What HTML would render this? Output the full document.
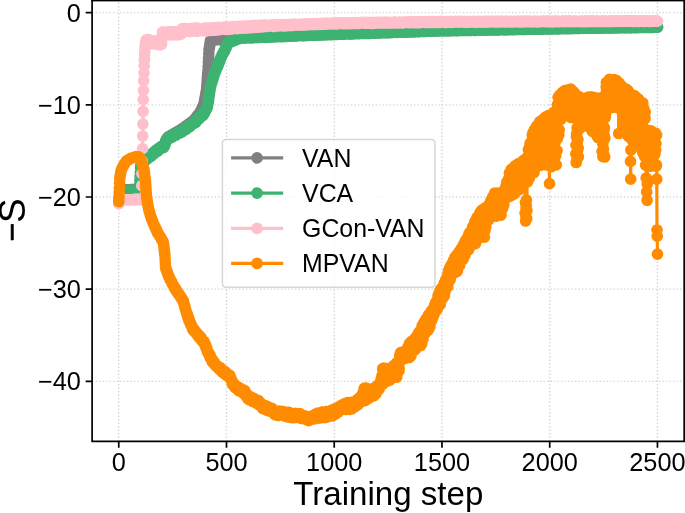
<!DOCTYPE html>
<html><head><meta charset="utf-8"><title>Training curves</title>
<style>html,body{margin:0;padding:0;background:#fff}svg{display:block}</style></head>
<body>
<svg width="685" height="513" viewBox="0 0 685 513">
<rect width="685" height="513" fill="#fff"/>
<path d="M118.75,441.4V0.8M226.49,441.4V0.8M334.23,441.4V0.8M441.97,441.4V0.8M549.71,441.4V0.8M657.45,441.4V0.8M92.1,12.60H684.2M92.1,104.80H684.2M92.1,197.00H684.2M92.1,289.20H684.2M92.1,381.40H684.2" stroke="#b0b0b0" stroke-opacity="0.55" stroke-width="1.3" stroke-dasharray="1.3 2.2" fill="none"/>
<clipPath id="c"><rect x="92.1" y="0.8" width="592.1" height="440.59999999999997"/></clipPath>
<g clip-path="url(#c)">
<path d="M118.8,203.2 119.0,201.5 119.2,199.9 119.4,198.3 119.6,196.7 119.8,195.1 120.0,193.4 120.3,191.8 120.5,190.2 121.3,190.0 122.2,190.0 123.1,189.9 123.9,189.9 124.8,189.9 125.6,189.9 126.5,189.8 127.4,189.8 128.2,189.8 129.1,189.8 130.0,189.8 130.8,189.7 131.7,189.7 132.5,189.7 133.4,189.7 134.3,189.6 135.1,189.6 136.0,189.6 136.9,189.6 137.7,189.5 138.6,189.5 139.4,189.5 139.7,188.5 139.9,184.3 140.1,180.1 140.3,175.8 140.5,171.6 140.7,167.4 140.9,165.7 141.2,165.3 141.8,164.0 142.0,163.5 142.7,162.2 142.9,161.8 143.5,160.5 143.7,160.0 144.6,159.1 145.5,158.5 146.3,157.9 147.2,157.3 148.1,156.7 148.9,156.2 149.8,155.6 150.6,155.0 151.5,154.3 152.4,153.6 153.2,152.8 154.1,152.1 155.0,151.4 155.8,150.7 156.7,150.0 157.5,149.4 158.4,148.7 159.3,148.1 160.1,147.4 161.0,146.8 161.8,146.3 162.7,145.9 163.6,145.5 164.4,145.0 164.9,143.8 165.3,142.4 165.7,140.9 166.2,139.8 166.8,138.8 167.0,138.4 167.7,137.4 167.9,137.2 168.7,136.7 169.6,136.2 170.5,135.7 171.3,135.1 172.2,134.6 173.1,134.1 173.9,133.6 174.8,133.1 175.6,132.6 176.5,132.1 177.4,131.6 178.2,131.1 179.1,130.6 179.9,130.1 180.8,129.6 181.7,129.1 182.5,128.5 183.4,127.9 184.3,127.3 185.1,126.7 186.0,126.0 186.8,125.4 187.7,124.8 188.6,124.2 189.4,123.5 190.3,122.9 191.2,122.3 192.0,121.7 192.9,121.0 193.7,120.3 194.6,119.3 195.5,118.2 196.3,117.1 197.2,116.0 198.0,114.9 198.9,113.9 199.8,112.8 200.4,111.6 200.6,111.2 201.3,109.8 201.5,109.3 202.1,108.0 202.4,107.5 203.0,106.1 203.2,105.7 203.9,104.3 204.1,103.6 204.3,102.3 204.5,101.1 204.7,99.9 204.9,98.7 205.2,97.5 205.4,96.3 205.6,95.1 205.8,93.9 206.0,92.7 206.2,91.5 206.5,90.3 206.7,87.8 206.9,84.9 207.1,82.0 207.3,79.2 207.5,76.3 207.7,73.4 208.0,70.6 208.2,66.5 208.4,62.2 208.6,57.9 208.8,53.6 209.0,49.8 209.3,48.4 209.5,47.0 209.7,45.7 209.9,44.3 210.1,42.9 210.3,41.6 210.5,40.5 211.0,40.4 211.8,40.2 212.7,40.1 213.6,39.9 214.4,39.8 215.3,39.8 216.1,39.8 217.0,39.7 217.9,39.7 218.7,39.7 219.6,39.7 220.5,39.7 221.3,39.6 222.2,39.6 223.0,39.6 223.9,39.6 224.8,39.6 225.6,39.5 226.5,39.5 227.4,39.5 228.2,39.3 229.1,39.2 229.9,39.1 230.8,39.0 231.7,38.9 232.5,38.8 233.4,38.7 234.2,38.6 235.1,38.5 236.0,38.4 236.8,38.3 237.7,38.1 238.6,38.0 239.4,37.9 240.3,37.8 241.1,37.8 242.0,37.7 242.9,37.7 243.7,37.7 244.6,37.6 245.5,37.6 246.3,37.6 247.2,37.5 248.0,37.5 248.9,37.5 249.8,37.4 250.6,37.4 251.5,37.4 252.3,37.3 253.2,37.3 254.1,37.3 254.9,37.2 255.8,37.2 256.7,37.2 257.5,37.1 258.4,37.1 259.2,37.1 260.1,37.0 261.0,37.0 261.8,37.0 262.7,36.9 263.6,36.9 264.4,36.9 265.3,36.8 266.1,36.8 267.0,36.7 267.9,36.7 268.7,36.7 269.6,36.6 270.4,36.6 271.3,36.6 272.2,36.5 273.0,36.5 273.9,36.5 274.8,36.4 275.6,36.4 276.5,36.4 277.3,36.3 278.2,36.3 279.1,36.3 279.9,36.2 280.8,36.2 281.7,36.2 282.5,36.1 283.4,36.1 284.2,36.1 285.1,36.0 286.0,36.0 286.8,36.0 287.7,35.9 288.5,35.9 289.4,35.9 290.3,35.8 291.1,35.8 292.0,35.8 292.9,35.7 293.7,35.7 294.6,35.7 295.4,35.6 296.3,35.6 297.2,35.6 298.0,35.5 298.9,35.5 299.8,35.5 300.6,35.4 301.5,35.4 302.3,35.4 303.2,35.3 304.1,35.3 304.9,35.2 305.8,35.2 306.6,35.2 307.5,35.1 308.4,35.1 309.2,35.1 310.1,35.0 311.0,35.0 311.8,35.0 312.7,34.9 313.5,34.9 314.4,34.9 315.3,34.8 316.1,34.8 317.0,34.8 317.9,34.7 318.7,34.7 319.6,34.7 320.4,34.6 321.3,34.6 322.2,34.6 323.0,34.5 323.9,34.5 324.7,34.5 325.6,34.4 326.5,34.4 327.3,34.4 328.2,34.3 329.1,34.3 329.9,34.3 330.8,34.2 331.6,34.2 332.5,34.2 333.4,34.1 334.2,34.1 335.1,34.1 336.0,34.0 336.8,34.0 337.7,34.0 338.5,34.0 339.4,33.9 340.3,33.9 341.1,33.9 342.0,33.8 342.8,33.8 343.7,33.8 344.6,33.8 345.4,33.7 346.3,33.7 347.2,33.7 348.0,33.6 348.9,33.6 349.7,33.6 350.6,33.6 351.5,33.5 352.3,33.5 353.2,33.5 354.1,33.4 354.9,33.4 355.8,33.4 356.6,33.4 357.5,33.3 358.4,33.3 359.2,33.3 360.1,33.2 360.9,33.2 361.8,33.2 362.7,33.2 363.5,33.1 364.4,33.1 365.3,33.1 366.1,33.0 367.0,33.0 367.8,33.0 368.7,33.0 369.6,32.9 370.4,32.9 371.3,32.9 372.2,32.8 373.0,32.8 373.9,32.8 374.7,32.8 375.6,32.7 376.5,32.7 377.3,32.7 378.2,32.6 379.0,32.6 379.9,32.6 380.8,32.6 381.6,32.5 382.5,32.5 383.4,32.5 384.2,32.4 385.1,32.4 385.9,32.4 386.8,32.4 387.7,32.3 388.5,32.3 389.4,32.3 390.3,32.2 391.1,32.2 392.0,32.2 392.8,32.2 393.7,32.1 394.6,32.1 395.4,32.1 396.3,32.0 397.2,32.0 398.0,32.0 398.9,32.0 399.7,31.9 400.6,31.9 401.5,31.9 402.3,31.8 403.2,31.8 404.0,31.8 404.9,31.8 405.8,31.7 406.6,31.7 407.5,31.7 408.4,31.6 409.2,31.6 410.1,31.6 410.9,31.6 411.8,31.5 412.7,31.5 413.5,31.5 414.4,31.4 415.3,31.4 416.1,31.4 417.0,31.4 417.8,31.3 418.7,31.3 419.6,31.3 420.4,31.2 421.3,31.2 422.1,31.2 423.0,31.2 423.9,31.1 424.7,31.1 425.6,31.1 426.5,31.0 427.3,31.0 428.2,31.0 429.0,31.0 429.9,30.9 430.8,30.9 431.6,30.9 432.5,30.8 433.4,30.8 434.2,30.8 435.1,30.8 435.9,30.7 436.8,30.7 437.7,30.7 438.5,30.6 439.4,30.6 440.2,30.6 441.1,30.6 442.0,30.6 442.8,30.5 443.7,30.5 444.6,30.5 445.4,30.5 446.3,30.5 447.1,30.5 448.0,30.5 448.9,30.4 449.7,30.4 450.6,30.4 451.5,30.4 452.3,30.4 453.2,30.4 454.0,30.3 454.9,30.3 455.8,30.3 456.6,30.3 457.5,30.3 458.3,30.3 459.2,30.3 460.1,30.2 460.9,30.2 461.8,30.2 462.7,30.2 463.5,30.2 464.4,30.2 465.2,30.1 466.1,30.1 467.0,30.1 467.8,30.1 468.7,30.1 469.6,30.1 470.4,30.1 471.3,30.0 472.1,30.0 473.0,30.0 473.9,30.0 474.7,30.0 475.6,30.0 476.4,29.9 477.3,29.9 478.2,29.9 479.0,29.9 479.9,29.9 480.8,29.9 481.6,29.9 482.5,29.8 483.3,29.8 484.2,29.8 485.1,29.8 485.9,29.8 486.8,29.8 487.7,29.7 488.5,29.7 489.4,29.7 490.2,29.7 491.1,29.7 492.0,29.7 492.8,29.7 493.7,29.6 494.5,29.6 495.4,29.6 496.3,29.6 497.1,29.6 498.0,29.6 498.9,29.5 499.7,29.5 500.6,29.5 501.4,29.5 502.3,29.5 503.2,29.5 504.0,29.5 504.9,29.4 505.8,29.4 506.6,29.4 507.5,29.4 508.3,29.4 509.2,29.4 510.1,29.3 510.9,29.3 511.8,29.3 512.6,29.3 513.5,29.3 514.4,29.3 515.2,29.3 516.1,29.2 517.0,29.2 517.8,29.2 518.7,29.2 519.5,29.2 520.4,29.2 521.3,29.1 522.1,29.1 523.0,29.1 523.9,29.1 524.7,29.1 525.6,29.1 526.4,29.1 527.3,29.0 528.2,29.0 529.0,29.0 529.9,29.0 530.7,29.0 531.6,29.0 532.5,28.9 533.3,28.9 534.2,28.9 535.1,28.9 535.9,28.9 536.8,28.9 537.6,28.8 538.5,28.8 539.4,28.8 540.2,28.8 541.1,28.8 542.0,28.8 542.8,28.8 543.7,28.7 544.5,28.7 545.4,28.7 546.3,28.7 547.1,28.7 548.0,28.7 548.8,28.6 549.7,28.6 550.6,28.6 551.4,28.6 552.3,28.6 553.2,28.6 554.0,28.6 554.9,28.5 555.7,28.5 556.6,28.5 557.5,28.5 558.3,28.5 559.2,28.5 560.1,28.4 560.9,28.4 561.8,28.4 562.6,28.4 563.5,28.4 564.4,28.4 565.2,28.4 566.1,28.3 566.9,28.3 567.8,28.3 568.7,28.3 569.5,28.3 570.4,28.3 571.3,28.2 572.1,28.2 573.0,28.2 573.8,28.2 574.7,28.2 575.6,28.2 576.4,28.2 577.3,28.1 578.2,28.1 579.0,28.1 579.9,28.1 580.7,28.1 581.6,28.1 582.5,28.0 583.3,28.0 584.2,28.0 585.0,28.0 585.9,28.0 586.8,28.0 587.6,28.0 588.5,28.0 589.4,27.9 590.2,27.9 591.1,27.9 591.9,27.9 592.8,27.9 593.7,27.9 594.5,27.9 595.4,27.9 596.3,27.8 597.1,27.8 598.0,27.8 598.8,27.8 599.7,27.8 600.6,27.8 601.4,27.8 602.3,27.8 603.1,27.7 604.0,27.7 604.9,27.7 605.7,27.7 606.6,27.7 607.5,27.7 608.3,27.7 609.2,27.7 610.0,27.7 610.9,27.6 611.8,27.6 612.6,27.6 613.5,27.6 614.4,27.6 615.2,27.6 616.1,27.6 616.9,27.6 617.8,27.5 618.7,27.5 619.5,27.5 620.4,27.5 621.2,27.5 622.1,27.5 623.0,27.5 623.8,27.5 624.7,27.5 625.6,27.4 626.4,27.4 627.3,27.4 628.1,27.4 629.0,27.4 629.9,27.4 630.7,27.4 631.6,27.4 632.5,27.3 633.3,27.3 634.2,27.3 635.0,27.3 635.9,27.3 636.8,27.3 637.6,27.3 638.5,27.3 639.3,27.2 640.2,27.2 641.1,27.2 641.9,27.2 642.8,27.2 643.7,27.2 644.5,27.2 645.4,27.2 646.2,27.2 647.1,27.1 648.0,27.1 648.8,27.1 649.7,27.1 650.6,27.1 651.4,27.1 652.3,27.1 653.1,27.1 654.0,27.0 654.9,27.0 655.7,27.0 656.6,27.0 657.5,27.0" fill="none" stroke="#808080" stroke-width="3.2" stroke-linejoin="round" stroke-linecap="round"/>
<path d="M118.8,203.2h0M119.0,201.5h0M119.2,199.9h0M119.4,198.3h0M119.6,196.7h0M119.8,195.1h0M120.0,193.4h0M120.3,191.8h0M120.5,190.2h0M121.3,190.0h0M122.2,190.0h0M123.1,189.9h0M123.9,189.9h0M124.8,189.9h0M125.6,189.9h0M126.5,189.8h0M127.4,189.8h0M128.2,189.8h0M129.1,189.8h0M130.0,189.8h0M130.8,189.7h0M131.7,189.7h0M132.5,189.7h0M133.4,189.7h0M134.3,189.6h0M135.1,189.6h0M136.0,189.6h0M136.9,189.6h0M137.7,189.5h0M138.6,189.5h0M139.4,189.5h0M139.7,188.5h0M139.9,184.3h0M140.1,180.1h0M140.3,175.8h0M140.5,171.6h0M140.7,167.4h0M140.9,165.7h0M141.2,165.3h0M141.8,164.0h0M142.0,163.5h0M142.7,162.2h0M142.9,161.8h0M143.5,160.5h0M143.7,160.0h0M144.6,159.1h0M145.5,158.5h0M146.3,157.9h0M147.2,157.3h0M148.1,156.7h0M148.9,156.2h0M149.8,155.6h0M150.6,155.0h0M151.5,154.3h0M152.4,153.6h0M153.2,152.8h0M154.1,152.1h0M155.0,151.4h0M155.8,150.7h0M156.7,150.0h0M157.5,149.4h0M158.4,148.7h0M159.3,148.1h0M160.1,147.4h0M161.0,146.8h0M161.8,146.3h0M162.7,145.9h0M163.6,145.5h0M164.4,145.0h0M164.9,143.8h0M165.3,142.4h0M165.7,140.9h0M166.2,139.8h0M166.8,138.8h0M167.0,138.4h0M167.7,137.4h0M167.9,137.2h0M168.7,136.7h0M169.6,136.2h0M170.5,135.7h0M171.3,135.1h0M172.2,134.6h0M173.1,134.1h0M173.9,133.6h0M174.8,133.1h0M175.6,132.6h0M176.5,132.1h0M177.4,131.6h0M178.2,131.1h0M179.1,130.6h0M179.9,130.1h0M180.8,129.6h0M181.7,129.1h0M182.5,128.5h0M183.4,127.9h0M184.3,127.3h0M185.1,126.7h0M186.0,126.0h0M186.8,125.4h0M187.7,124.8h0M188.6,124.2h0M189.4,123.5h0M190.3,122.9h0M191.2,122.3h0M192.0,121.7h0M192.9,121.0h0M193.7,120.3h0M194.6,119.3h0M195.5,118.2h0M196.3,117.1h0M197.2,116.0h0M198.0,114.9h0M198.9,113.9h0M199.8,112.8h0M200.4,111.6h0M200.6,111.2h0M201.3,109.8h0M201.5,109.3h0M202.1,108.0h0M202.4,107.5h0M203.0,106.1h0M203.2,105.7h0M203.9,104.3h0M204.1,103.6h0M204.3,102.3h0M204.5,101.1h0M204.7,99.9h0M204.9,98.7h0M205.2,97.5h0M205.4,96.3h0M205.6,95.1h0M205.8,93.9h0M206.0,92.7h0M206.2,91.5h0M206.5,90.3h0M206.7,87.8h0M206.9,84.9h0M207.1,82.0h0M207.3,79.2h0M207.5,76.3h0M207.7,73.4h0M208.0,70.6h0M208.2,66.5h0M208.4,62.2h0M208.6,57.9h0M208.8,53.6h0M209.0,49.8h0M209.3,48.4h0M209.5,47.0h0M209.7,45.7h0M209.9,44.3h0M210.1,42.9h0M210.3,41.6h0M210.5,40.5h0M211.0,40.4h0M211.8,40.2h0M212.7,40.1h0M213.6,39.9h0M214.4,39.8h0M215.3,39.8h0M216.1,39.8h0M217.0,39.7h0M217.9,39.7h0M218.7,39.7h0M219.6,39.7h0M220.5,39.7h0M221.3,39.6h0M222.2,39.6h0M223.0,39.6h0M223.9,39.6h0M224.8,39.6h0M225.6,39.5h0M226.5,39.5h0M227.4,39.5h0M228.2,39.3h0M229.1,39.2h0M229.9,39.1h0M230.8,39.0h0M231.7,38.9h0M232.5,38.8h0M233.4,38.7h0M234.2,38.6h0M235.1,38.5h0M236.0,38.4h0M236.8,38.3h0M237.7,38.1h0M238.6,38.0h0M239.4,37.9h0M240.3,37.8h0M241.1,37.8h0M242.0,37.7h0M242.9,37.7h0M243.7,37.7h0M244.6,37.6h0M245.5,37.6h0M246.3,37.6h0M247.2,37.5h0M248.0,37.5h0M248.9,37.5h0M249.8,37.4h0M250.6,37.4h0M251.5,37.4h0M252.3,37.3h0M253.2,37.3h0M254.1,37.3h0M254.9,37.2h0M255.8,37.2h0M256.7,37.2h0M257.5,37.1h0M258.4,37.1h0M259.2,37.1h0M260.1,37.0h0M261.0,37.0h0M261.8,37.0h0M262.7,36.9h0M263.6,36.9h0M264.4,36.9h0M265.3,36.8h0M266.1,36.8h0M267.0,36.7h0M267.9,36.7h0M268.7,36.7h0M269.6,36.6h0M270.4,36.6h0M271.3,36.6h0M272.2,36.5h0M273.0,36.5h0M273.9,36.5h0M274.8,36.4h0M275.6,36.4h0M276.5,36.4h0M277.3,36.3h0M278.2,36.3h0M279.1,36.3h0M279.9,36.2h0M280.8,36.2h0M281.7,36.2h0M282.5,36.1h0M283.4,36.1h0M284.2,36.1h0M285.1,36.0h0M286.0,36.0h0M286.8,36.0h0M287.7,35.9h0M288.5,35.9h0M289.4,35.9h0M290.3,35.8h0M291.1,35.8h0M292.0,35.8h0M292.9,35.7h0M293.7,35.7h0M294.6,35.7h0M295.4,35.6h0M296.3,35.6h0M297.2,35.6h0M298.0,35.5h0M298.9,35.5h0M299.8,35.5h0M300.6,35.4h0M301.5,35.4h0M302.3,35.4h0M303.2,35.3h0M304.1,35.3h0M304.9,35.2h0M305.8,35.2h0M306.6,35.2h0M307.5,35.1h0M308.4,35.1h0M309.2,35.1h0M310.1,35.0h0M311.0,35.0h0M311.8,35.0h0M312.7,34.9h0M313.5,34.9h0M314.4,34.9h0M315.3,34.8h0M316.1,34.8h0M317.0,34.8h0M317.9,34.7h0M318.7,34.7h0M319.6,34.7h0M320.4,34.6h0M321.3,34.6h0M322.2,34.6h0M323.0,34.5h0M323.9,34.5h0M324.7,34.5h0M325.6,34.4h0M326.5,34.4h0M327.3,34.4h0M328.2,34.3h0M329.1,34.3h0M329.9,34.3h0M330.8,34.2h0M331.6,34.2h0M332.5,34.2h0M333.4,34.1h0M334.2,34.1h0M335.1,34.1h0M336.0,34.0h0M336.8,34.0h0M337.7,34.0h0M338.5,34.0h0M339.4,33.9h0M340.3,33.9h0M341.1,33.9h0M342.0,33.8h0M342.8,33.8h0M343.7,33.8h0M344.6,33.8h0M345.4,33.7h0M346.3,33.7h0M347.2,33.7h0M348.0,33.6h0M348.9,33.6h0M349.7,33.6h0M350.6,33.6h0M351.5,33.5h0M352.3,33.5h0M353.2,33.5h0M354.1,33.4h0M354.9,33.4h0M355.8,33.4h0M356.6,33.4h0M357.5,33.3h0M358.4,33.3h0M359.2,33.3h0M360.1,33.2h0M360.9,33.2h0M361.8,33.2h0M362.7,33.2h0M363.5,33.1h0M364.4,33.1h0M365.3,33.1h0M366.1,33.0h0M367.0,33.0h0M367.8,33.0h0M368.7,33.0h0M369.6,32.9h0M370.4,32.9h0M371.3,32.9h0M372.2,32.8h0M373.0,32.8h0M373.9,32.8h0M374.7,32.8h0M375.6,32.7h0M376.5,32.7h0M377.3,32.7h0M378.2,32.6h0M379.0,32.6h0M379.9,32.6h0M380.8,32.6h0M381.6,32.5h0M382.5,32.5h0M383.4,32.5h0M384.2,32.4h0M385.1,32.4h0M385.9,32.4h0M386.8,32.4h0M387.7,32.3h0M388.5,32.3h0M389.4,32.3h0M390.3,32.2h0M391.1,32.2h0M392.0,32.2h0M392.8,32.2h0M393.7,32.1h0M394.6,32.1h0M395.4,32.1h0M396.3,32.0h0M397.2,32.0h0M398.0,32.0h0M398.9,32.0h0M399.7,31.9h0M400.6,31.9h0M401.5,31.9h0M402.3,31.8h0M403.2,31.8h0M404.0,31.8h0M404.9,31.8h0M405.8,31.7h0M406.6,31.7h0M407.5,31.7h0M408.4,31.6h0M409.2,31.6h0M410.1,31.6h0M410.9,31.6h0M411.8,31.5h0M412.7,31.5h0M413.5,31.5h0M414.4,31.4h0M415.3,31.4h0M416.1,31.4h0M417.0,31.4h0M417.8,31.3h0M418.7,31.3h0M419.6,31.3h0M420.4,31.2h0M421.3,31.2h0M422.1,31.2h0M423.0,31.2h0M423.9,31.1h0M424.7,31.1h0M425.6,31.1h0M426.5,31.0h0M427.3,31.0h0M428.2,31.0h0M429.0,31.0h0M429.9,30.9h0M430.8,30.9h0M431.6,30.9h0M432.5,30.8h0M433.4,30.8h0M434.2,30.8h0M435.1,30.8h0M435.9,30.7h0M436.8,30.7h0M437.7,30.7h0M438.5,30.6h0M439.4,30.6h0M440.2,30.6h0M441.1,30.6h0M442.0,30.6h0M442.8,30.5h0M443.7,30.5h0M444.6,30.5h0M445.4,30.5h0M446.3,30.5h0M447.1,30.5h0M448.0,30.5h0M448.9,30.4h0M449.7,30.4h0M450.6,30.4h0M451.5,30.4h0M452.3,30.4h0M453.2,30.4h0M454.0,30.3h0M454.9,30.3h0M455.8,30.3h0M456.6,30.3h0M457.5,30.3h0M458.3,30.3h0M459.2,30.3h0M460.1,30.2h0M460.9,30.2h0M461.8,30.2h0M462.7,30.2h0M463.5,30.2h0M464.4,30.2h0M465.2,30.1h0M466.1,30.1h0M467.0,30.1h0M467.8,30.1h0M468.7,30.1h0M469.6,30.1h0M470.4,30.1h0M471.3,30.0h0M472.1,30.0h0M473.0,30.0h0M473.9,30.0h0M474.7,30.0h0M475.6,30.0h0M476.4,29.9h0M477.3,29.9h0M478.2,29.9h0M479.0,29.9h0M479.9,29.9h0M480.8,29.9h0M481.6,29.9h0M482.5,29.8h0M483.3,29.8h0M484.2,29.8h0M485.1,29.8h0M485.9,29.8h0M486.8,29.8h0M487.7,29.7h0M488.5,29.7h0M489.4,29.7h0M490.2,29.7h0M491.1,29.7h0M492.0,29.7h0M492.8,29.7h0M493.7,29.6h0M494.5,29.6h0M495.4,29.6h0M496.3,29.6h0M497.1,29.6h0M498.0,29.6h0M498.9,29.5h0M499.7,29.5h0M500.6,29.5h0M501.4,29.5h0M502.3,29.5h0M503.2,29.5h0M504.0,29.5h0M504.9,29.4h0M505.8,29.4h0M506.6,29.4h0M507.5,29.4h0M508.3,29.4h0M509.2,29.4h0M510.1,29.3h0M510.9,29.3h0M511.8,29.3h0M512.6,29.3h0M513.5,29.3h0M514.4,29.3h0M515.2,29.3h0M516.1,29.2h0M517.0,29.2h0M517.8,29.2h0M518.7,29.2h0M519.5,29.2h0M520.4,29.2h0M521.3,29.1h0M522.1,29.1h0M523.0,29.1h0M523.9,29.1h0M524.7,29.1h0M525.6,29.1h0M526.4,29.1h0M527.3,29.0h0M528.2,29.0h0M529.0,29.0h0M529.9,29.0h0M530.7,29.0h0M531.6,29.0h0M532.5,28.9h0M533.3,28.9h0M534.2,28.9h0M535.1,28.9h0M535.9,28.9h0M536.8,28.9h0M537.6,28.8h0M538.5,28.8h0M539.4,28.8h0M540.2,28.8h0M541.1,28.8h0M542.0,28.8h0M542.8,28.8h0M543.7,28.7h0M544.5,28.7h0M545.4,28.7h0M546.3,28.7h0M547.1,28.7h0M548.0,28.7h0M548.8,28.6h0M549.7,28.6h0M550.6,28.6h0M551.4,28.6h0M552.3,28.6h0M553.2,28.6h0M554.0,28.6h0M554.9,28.5h0M555.7,28.5h0M556.6,28.5h0M557.5,28.5h0M558.3,28.5h0M559.2,28.5h0M560.1,28.4h0M560.9,28.4h0M561.8,28.4h0M562.6,28.4h0M563.5,28.4h0M564.4,28.4h0M565.2,28.4h0M566.1,28.3h0M566.9,28.3h0M567.8,28.3h0M568.7,28.3h0M569.5,28.3h0M570.4,28.3h0M571.3,28.2h0M572.1,28.2h0M573.0,28.2h0M573.8,28.2h0M574.7,28.2h0M575.6,28.2h0M576.4,28.2h0M577.3,28.1h0M578.2,28.1h0M579.0,28.1h0M579.9,28.1h0M580.7,28.1h0M581.6,28.1h0M582.5,28.0h0M583.3,28.0h0M584.2,28.0h0M585.0,28.0h0M585.9,28.0h0M586.8,28.0h0M587.6,28.0h0M588.5,28.0h0M589.4,27.9h0M590.2,27.9h0M591.1,27.9h0M591.9,27.9h0M592.8,27.9h0M593.7,27.9h0M594.5,27.9h0M595.4,27.9h0M596.3,27.8h0M597.1,27.8h0M598.0,27.8h0M598.8,27.8h0M599.7,27.8h0M600.6,27.8h0M601.4,27.8h0M602.3,27.8h0M603.1,27.7h0M604.0,27.7h0M604.9,27.7h0M605.7,27.7h0M606.6,27.7h0M607.5,27.7h0M608.3,27.7h0M609.2,27.7h0M610.0,27.7h0M610.9,27.6h0M611.8,27.6h0M612.6,27.6h0M613.5,27.6h0M614.4,27.6h0M615.2,27.6h0M616.1,27.6h0M616.9,27.6h0M617.8,27.5h0M618.7,27.5h0M619.5,27.5h0M620.4,27.5h0M621.2,27.5h0M622.1,27.5h0M623.0,27.5h0M623.8,27.5h0M624.7,27.5h0M625.6,27.4h0M626.4,27.4h0M627.3,27.4h0M628.1,27.4h0M629.0,27.4h0M629.9,27.4h0M630.7,27.4h0M631.6,27.4h0M632.5,27.3h0M633.3,27.3h0M634.2,27.3h0M635.0,27.3h0M635.9,27.3h0M636.8,27.3h0M637.6,27.3h0M638.5,27.3h0M639.3,27.2h0M640.2,27.2h0M641.1,27.2h0M641.9,27.2h0M642.8,27.2h0M643.7,27.2h0M644.5,27.2h0M645.4,27.2h0M646.2,27.2h0M647.1,27.1h0M648.0,27.1h0M648.8,27.1h0M649.7,27.1h0M650.6,27.1h0M651.4,27.1h0M652.3,27.1h0M653.1,27.1h0M654.0,27.0h0M654.9,27.0h0M655.7,27.0h0M656.6,27.0h0M657.5,27.0h0" fill="none" stroke="#808080" stroke-width="11.7" stroke-linecap="round"/>

<path d="M118.8,203.2 119.0,201.7 119.2,200.2 119.4,198.7 119.6,197.2 119.8,195.7 120.0,194.2 120.3,192.7 120.5,191.2 120.9,191.0 121.3,191.0 121.8,191.0 122.2,191.0 122.6,190.9 123.1,190.9 123.5,190.9 123.9,190.9 124.4,190.9 124.8,190.9 125.2,190.9 125.6,190.9 126.1,190.9 126.5,190.8 126.9,190.8 127.4,190.8 127.8,190.8 128.2,190.8 128.7,190.8 129.1,190.8 129.5,190.8 130.0,190.8 130.4,190.7 130.8,190.7 131.2,190.7 131.7,190.7 132.1,190.7 132.5,190.7 133.0,190.7 133.4,190.7 133.8,190.7 134.3,190.6 134.7,190.6 135.1,190.6 135.6,190.6 136.0,190.6 136.4,190.6 136.9,190.6 137.3,190.6 137.7,190.5 138.1,190.5 138.6,190.5 139.0,190.5 139.4,190.5 139.7,189.5 139.9,185.3 140.1,181.1 140.3,176.8 140.5,172.6 140.7,168.4 140.9,166.7 141.2,166.3 141.6,165.4 142.0,164.1 142.5,162.8 142.9,162.8 143.3,162.5 143.5,160.8 143.7,161.1 144.2,159.8 144.6,160.4 145.0,159.0 145.5,160.0 145.9,159.0 146.3,157.9 146.5,159.7 146.8,158.2 147.0,159.2 147.2,159.0 147.6,158.3 148.1,156.8 148.5,157.7 148.9,157.5 149.3,157.2 149.8,156.2 150.2,155.4 150.4,156.7 150.6,156.6 151.1,156.0 151.5,154.9 151.9,154.2 152.4,153.8 152.6,154.9 152.8,154.2 153.2,153.2 153.7,153.8 154.1,153.6 154.3,152.1 154.5,152.5 155.0,152.9 155.4,152.5 155.8,150.7 156.2,151.9 156.7,150.2 157.1,150.6 157.5,149.6 157.8,151.2 158.0,150.5 158.2,148.9 158.4,150.2 158.8,148.8 159.3,149.5 159.7,148.3 160.1,147.6 160.6,147.8 161.0,146.9 161.2,148.3 161.4,146.9 161.8,146.7 162.3,147.3 162.5,146.1 162.7,146.2 163.1,146.5 163.4,147.6 163.6,147.0 164.0,147.1 164.2,145.6 164.4,146.3 164.9,144.5 165.3,143.5 165.7,141.5 166.2,141.1 166.6,140.7 167.0,138.9 167.4,139.9 167.9,139.1 168.1,137.9 168.3,139.1 168.5,137.9 168.7,138.5 169.2,137.7 169.6,137.5 170.0,136.4 170.2,138.0 170.5,137.3 170.7,136.1 170.9,137.0 171.3,137.3 171.5,136.2 171.8,135.4 172.0,136.6 172.2,137.1 172.6,136.9 172.8,135.0 173.1,135.3 173.5,135.4 173.9,135.0 174.3,135.5 174.8,135.3 175.2,135.1 175.6,133.9 176.1,135.1 176.5,134.3 176.9,134.0 177.4,133.6 177.8,132.5 178.2,133.7 178.4,132.2 178.7,131.9 179.1,133.2 179.5,132.0 179.7,133.2 179.9,132.2 180.4,132.3 180.8,132.4 181.2,131.5 181.7,132.2 182.1,130.8 182.5,130.6 183.0,131.1 183.4,130.2 183.8,130.1 184.3,128.8 184.7,130.1 185.1,128.6 185.5,127.9 186.0,129.3 186.2,127.7 186.4,127.7 186.6,128.7 186.8,127.3 187.3,128.1 187.7,128.2 187.9,126.3 188.1,126.7 188.6,126.4 189.0,125.9 189.4,125.5 189.9,126.5 190.3,125.7 190.7,125.7 191.2,124.8 191.6,124.3 192.0,124.1 192.4,123.6 192.9,123.6 193.3,123.3 193.7,123.7 194.2,122.7 194.6,123.1 194.8,121.5 195.0,121.8 195.5,122.6 195.9,120.4 196.1,121.9 196.3,119.9 196.8,120.9 197.2,120.3 197.6,119.9 197.8,118.5 198.0,119.4 198.5,118.7 198.9,118.3 199.3,118.6 199.6,117.1 199.8,116.9 200.2,116.8 200.6,116.1 201.1,116.2 201.3,115.1 201.5,115.8 201.9,114.7 202.4,115.7 202.8,115.6 203.2,114.0 203.6,113.5 204.1,113.7 204.3,112.1 204.5,112.9 204.9,112.3 205.4,111.0 205.8,109.9 206.2,108.6 206.7,108.8 207.1,107.5 207.5,106.5 207.7,104.6 208.0,103.3 208.4,101.7 208.6,99.9 208.8,97.4 209.0,95.2 209.3,95.3 209.5,92.7 209.7,92.0 210.1,89.5 210.3,88.3 210.5,87.4 211.0,85.1 211.2,83.7 211.4,83.5 211.8,82.5 212.3,81.1 212.7,80.2 212.9,79.1 213.1,78.3 213.6,76.5 214.0,75.2 214.4,73.8 214.9,72.6 215.3,71.7 215.5,70.4 215.7,70.8 216.1,70.3 216.4,68.5 216.6,68.1 217.0,67.6 217.4,67.0 217.9,64.5 218.3,64.9 218.5,62.9 218.7,62.9 219.2,61.4 219.6,61.7 219.8,60.6 220.0,59.2 220.5,58.8 220.7,57.6 220.9,58.1 221.1,57.0 221.3,56.6 221.7,56.2 222.2,54.5 222.6,54.3 223.0,53.7 223.3,52.7 223.5,53.0 223.7,51.6 223.9,51.8 224.3,51.4 224.6,50.1 224.8,50.4 225.2,49.2 225.6,48.7 225.8,47.1 226.1,48.0 226.3,47.0 226.5,46.6 226.9,45.8 227.1,44.7 227.4,45.2 227.8,43.5 228.2,43.2 228.6,42.4 229.1,42.0 229.5,42.2 229.9,42.1 230.2,41.1 230.4,41.9 230.8,41.3 231.2,40.8 231.7,40.9 232.1,40.4 232.5,41.3 233.0,41.1 233.4,40.3 233.8,39.7 234.2,40.3 234.7,40.4 235.1,39.5 235.5,39.8 236.0,39.8 236.4,39.7 236.8,39.6 237.3,39.2 237.7,39.2 238.1,39.0 238.6,38.5 239.0,38.4 239.4,37.7 239.8,37.9 240.3,38.2 240.7,37.4 241.1,38.0 241.6,37.9 242.0,37.3 242.4,37.4 242.9,37.7 243.3,38.1 243.7,37.4 244.2,37.8 244.6,37.6 245.0,37.4 245.5,37.4 245.9,37.4 246.3,37.7 246.7,37.3 247.2,37.5 247.6,37.7 248.0,37.6 248.5,37.2 248.9,37.1 249.3,37.7 249.8,37.3 250.2,37.5 250.6,37.6 251.1,37.1 251.5,37.7 251.9,37.6 252.3,37.8 252.8,37.2 253.2,37.0 253.6,37.1 254.1,37.1 254.5,37.1 254.9,37.2 255.4,36.9 255.8,36.8 256.2,37.6 256.7,36.7 257.1,37.4 257.5,37.3 258.0,36.9 258.4,36.8 258.8,37.5 259.2,37.2 259.7,37.4 260.1,36.6 260.5,37.2 261.0,36.5 261.4,36.6 261.8,37.2 262.3,36.7 262.7,37.1 263.1,36.6 263.6,36.9 264.0,36.9 264.4,36.9 264.8,37.3 265.3,36.8 265.7,37.0 266.1,36.9 266.6,37.2 267.0,36.5 267.4,37.1 267.9,36.8 268.3,37.1 268.7,36.3 269.2,37.1 269.6,36.7 270.0,36.3 270.4,36.3 270.9,36.6 271.3,37.0 271.7,36.6 272.2,36.4 272.6,36.7 273.0,36.9 273.5,36.8 273.9,36.6 274.3,36.8 274.8,36.1 275.2,36.3 275.6,36.4 276.1,36.5 276.5,36.4 276.9,36.4 277.3,35.9 277.8,36.0 278.2,36.1 278.6,36.2 279.1,36.0 279.5,36.0 279.9,36.0 280.4,36.7 280.8,36.6 281.2,36.2 281.7,35.8 282.1,36.1 282.5,36.6 282.9,35.8 283.4,36.3 283.8,36.5 284.2,36.5 284.7,36.2 285.1,35.8 285.5,35.7 286.0,35.8 286.4,36.4 286.8,36.4 287.3,36.1 287.7,35.9 288.1,36.2 288.5,35.9 289.0,35.6 289.4,35.9 289.8,35.9 290.3,35.5 290.7,35.5 291.1,35.8 291.6,35.7 292.0,35.3 292.4,36.0 292.9,35.3 293.3,35.8 293.7,35.4 294.2,35.9 294.6,35.5 295.0,35.5 295.4,36.0 295.9,36.0 296.3,35.6 296.7,35.2 297.2,35.3 297.6,35.5 298.0,35.4 298.5,35.3 298.9,35.1 299.3,35.3 299.8,35.5 300.2,35.2 300.6,35.4 301.0,35.0 301.5,35.4 301.9,35.1 302.3,35.5 302.8,35.6 303.2,35.6 303.6,34.9 304.1,35.7 304.5,35.4 304.9,34.9 305.4,35.0 305.8,35.3 306.2,35.0 306.6,35.1 307.1,35.2 307.5,35.3 307.9,34.9 308.4,35.4 308.8,35.0 309.2,34.7 309.7,34.9 310.1,35.1 310.5,34.6 311.0,35.2 311.4,35.0 311.8,34.6 312.3,35.2 312.7,34.9 313.1,35.2 313.5,35.3 314.0,34.8 314.4,34.8 314.8,34.6 315.3,34.9 315.7,35.2 316.1,35.2 316.6,34.9 317.0,34.5 317.4,35.1 317.9,35.0 318.3,34.4 318.7,34.6 319.1,34.3 319.6,34.8 320.0,34.4 320.4,34.8 320.9,34.2 321.3,34.8 321.7,34.5 322.2,34.5 322.6,34.3 323.0,34.8 323.5,34.3 323.9,34.7 324.3,34.2 324.7,34.6 325.2,34.6 325.6,34.8 326.0,34.2 326.5,34.3 326.9,34.7 327.3,34.2 327.8,34.2 328.2,33.9 328.6,34.5 329.1,34.1 329.5,34.0 329.9,33.9 330.4,34.6 330.8,34.1 331.2,33.9 331.6,33.8 332.1,34.3 332.5,34.6 332.9,34.2 333.4,33.7 333.8,34.1 334.2,34.3 334.7,33.7 335.1,34.4 335.5,33.9 336.0,33.6 336.4,34.2 336.8,33.8 337.2,34.3 337.7,33.7 338.1,34.2 338.5,33.9 339.0,34.0 339.4,34.1 339.8,33.8 340.3,34.2 340.7,33.7 341.1,34.1 341.6,33.8 342.0,34.2 342.4,33.5 342.8,33.8 343.3,34.2 343.7,33.3 344.1,34.1 344.6,33.5 345.0,33.4 345.4,33.4 345.9,33.3 346.3,33.7 346.7,33.6 347.2,33.4 347.6,33.4 348.0,33.3 348.5,33.9 348.9,33.8 349.3,34.0 349.7,33.6 350.2,33.1 350.6,33.8 351.0,33.3 351.5,33.3 351.9,33.8 352.3,33.3 352.8,33.8 353.2,33.2 353.6,33.6 354.1,33.3 354.5,33.7 354.9,33.2 355.3,33.2 355.8,33.3 356.2,33.5 356.6,33.2 357.1,33.3 357.5,33.1 357.9,32.9 358.4,33.7 358.8,33.0 359.2,33.5 359.7,33.5 360.1,33.5 360.5,33.2 360.9,33.0 361.4,33.5 361.8,33.2 362.2,32.8 362.7,33.1 363.1,32.9 363.5,32.9 364.0,33.5 364.4,33.0 364.8,32.9 365.3,33.2 365.7,32.6 366.1,33.4 366.6,33.4 367.0,33.3 367.4,33.2 367.8,32.7 368.3,33.0 368.7,33.0 369.1,33.4 369.6,33.0 370.0,32.7 370.4,33.3 370.9,32.9 371.3,33.0 371.7,32.7 372.2,32.6 372.6,32.8 373.0,33.2 373.4,32.5 373.9,32.9 374.3,32.8 374.7,32.7 375.2,32.5 375.6,33.1 376.0,32.5 376.5,33.0 376.9,32.3 377.3,32.7 377.8,32.2 378.2,32.7 378.6,32.8 379.0,32.7 379.5,32.9 379.9,32.7 380.3,32.2 380.8,32.6 381.2,32.9 381.6,32.7 382.1,32.3 382.5,32.4 382.9,32.2 383.4,32.2 383.8,32.6 384.2,32.5 384.7,32.5 385.1,32.7 385.5,32.2 385.9,32.5 386.4,32.7 386.8,32.4 387.2,32.7 387.7,32.2 388.1,32.7 388.5,31.9 389.0,32.6 389.4,32.4 389.8,32.3 390.3,32.1 390.7,32.6 391.1,32.2 391.5,31.9 392.0,32.4 392.4,31.8 392.8,32.1 393.3,31.8 393.7,32.3 394.1,31.9 394.6,31.8 395.0,32.2 395.4,32.2 395.9,32.1 396.3,31.8 396.7,31.7 397.2,32.4 397.6,31.8 398.0,31.7 398.4,31.9 398.9,31.6 399.3,32.1 399.7,32.2 400.2,32.0 400.6,32.0 401.0,31.5 401.5,31.7 401.9,32.1 402.3,31.9 402.8,31.8 403.2,31.5 403.6,32.1 404.0,31.6 404.5,31.6 404.9,31.4 405.3,31.8 405.8,31.8 406.2,31.5 406.6,31.6 407.1,32.1 407.5,31.8 407.9,31.7 408.4,31.3 408.8,31.6 409.2,31.5 409.6,31.7 410.1,31.9 410.5,31.4 410.9,31.8 411.4,31.7 411.8,31.2 412.2,31.6 412.7,31.7 413.1,31.4 413.5,31.8 414.0,31.6 414.4,31.8 414.8,31.4 415.3,31.2 415.7,31.3 416.1,31.1 416.5,31.4 417.0,31.4 417.4,31.3 417.8,31.5 418.3,31.7 418.7,30.9 419.1,31.1 419.6,31.6 420.0,31.2 420.4,30.9 420.9,31.4 421.3,31.5 421.7,31.4 422.1,30.9 422.6,31.5 423.0,31.5 423.4,31.2 423.9,30.8 424.3,31.5 424.7,30.9 425.2,31.0 425.6,31.3 426.0,30.7 426.5,30.6 426.9,31.0 427.3,31.0 427.7,30.8 428.2,30.6 428.6,31.0 429.0,31.2 429.5,30.5 429.9,31.0 430.3,31.2 430.8,31.2 431.2,31.1 431.6,30.5 432.1,31.0 432.5,30.8 432.9,30.7 433.4,30.9 433.8,30.6 434.2,31.0 434.6,30.7 435.1,30.4 435.5,31.1 435.9,30.7 436.4,30.5 436.8,31.0 437.2,30.8 437.7,30.4 438.1,30.7 438.5,30.4 439.0,30.9 439.4,30.7 439.8,30.5 440.2,30.6 440.7,30.6 441.1,30.7 441.5,30.2 442.0,30.7 442.4,30.5 442.8,30.6 443.3,30.7 443.7,30.2 444.1,30.8 444.6,30.5 445.0,30.2 445.4,30.4 445.8,30.2 446.3,30.6 446.7,30.3 447.1,30.8 447.6,30.5 448.0,30.6 448.4,30.6 448.9,30.7 449.3,30.2 449.7,30.8 450.2,30.1 450.6,30.0 451.0,30.3 451.5,30.5 451.9,30.3 452.3,30.3 452.7,30.2 453.2,30.5 453.6,30.3 454.0,30.2 454.5,30.0 454.9,30.3 455.3,30.3 455.8,29.9 456.2,30.2 456.6,30.6 457.1,30.3 457.5,30.0 457.9,30.2 458.3,30.2 458.8,30.5 459.2,29.9 459.6,30.1 460.1,30.2 460.5,30.3 460.9,30.0 461.4,29.9 461.8,30.4 462.2,29.9 462.7,30.3 463.1,30.3 463.5,30.1 463.9,30.4 464.4,30.0 464.8,30.3 465.2,30.1 465.7,30.4 466.1,30.3 466.5,30.0 467.0,29.7 467.4,30.4 467.8,29.9 468.3,29.8 468.7,30.3 469.1,29.9 469.6,29.8 470.0,30.4 470.4,29.9 470.8,30.2 471.3,30.3 471.7,29.8 472.1,30.0 472.6,29.7 473.0,29.7 473.4,30.2 473.9,29.9 474.3,30.3 474.7,30.2 475.2,29.9 475.6,30.2 476.0,30.3 476.4,29.8 476.9,30.0 477.3,30.1 477.7,29.7 478.2,30.2 478.6,29.9 479.0,30.2 479.5,30.0 479.9,29.5 480.3,30.0 480.8,29.6 481.2,29.8 481.6,29.7 482.0,29.5 482.5,29.6 482.9,29.6 483.3,29.8 483.8,29.8 484.2,29.9 484.6,29.8 485.1,30.0 485.5,30.0 485.9,29.5 486.4,29.7 486.8,29.9 487.2,29.9 487.7,29.5 488.1,30.0 488.5,29.6 488.9,29.6 489.4,30.0 489.8,30.0 490.2,29.3 490.7,29.3 491.1,29.9 491.5,29.9 492.0,29.9 492.4,29.5 492.8,29.8 493.3,29.8 493.7,29.7 494.1,29.8 494.5,29.9 495.0,29.9 495.4,29.2 495.8,29.9 496.3,29.7 496.7,29.7 497.1,29.6 497.6,29.8 498.0,29.9 498.4,29.4 498.9,29.9 499.3,29.4 499.7,29.2 500.1,29.2 500.6,29.4 501.0,29.2 501.4,29.3 501.9,29.2 502.3,29.7 502.7,29.6 503.2,29.2 503.6,29.3 504.0,29.8 504.5,29.3 504.9,29.6 505.3,29.8 505.8,29.1 506.2,29.4 506.6,29.4 507.0,29.6 507.5,29.4 507.9,29.7 508.3,29.4 508.8,29.4 509.2,29.5 509.6,29.1 510.1,29.1 510.5,29.4 510.9,29.2 511.4,29.2 511.8,29.0 512.2,29.6 512.6,29.5 513.1,29.1 513.5,29.3 513.9,29.2 514.4,29.4 514.8,29.0 515.2,29.0 515.7,29.3 516.1,28.9 516.5,29.4 517.0,29.4 517.4,29.2 517.8,28.9 518.2,29.2 518.7,29.4 519.1,29.1 519.5,29.0 520.0,29.2 520.4,29.5 520.8,29.2 521.3,29.2 521.7,29.4 522.1,29.1 522.6,28.9 523.0,28.9 523.4,28.8 523.9,29.4 524.3,29.4 524.7,28.9 525.1,28.9 525.6,29.4 526.0,29.0 526.4,29.4 526.9,28.7 527.3,29.1 527.7,29.0 528.2,28.8 528.6,28.7 529.0,29.2 529.5,28.7 529.9,29.1 530.3,28.7 530.7,28.6 531.2,29.0 531.6,28.8 532.0,29.2 532.5,28.7 532.9,28.8 533.3,28.7 533.8,28.6 534.2,29.1 534.6,29.2 535.1,28.9 535.5,29.0 535.9,29.2 536.4,28.9 536.8,28.8 537.2,29.0 537.6,29.1 538.1,28.5 538.5,28.8 538.9,28.6 539.4,28.6 539.8,28.8 540.2,29.1 540.7,28.9 541.1,28.8 541.5,29.0 542.0,28.5 542.4,29.1 542.8,28.6 543.2,28.9 543.7,28.5 544.1,28.6 544.5,29.0 545.0,28.7 545.4,28.7 545.8,28.9 546.3,29.0 546.7,28.4 547.1,28.3 547.6,28.8 548.0,29.0 548.4,28.5 548.8,28.8 549.3,28.4 549.7,28.9 550.1,28.7 550.6,28.7 551.0,28.9 551.4,28.7 551.9,28.4 552.3,28.4 552.7,28.8 553.2,28.6 553.6,28.8 554.0,28.6 554.5,28.5 554.9,28.7 555.3,28.6 555.7,28.3 556.2,28.7 556.6,28.8 557.0,28.7 557.5,28.4 557.9,28.3 558.3,28.4 558.8,28.8 559.2,28.6 559.6,28.7 560.1,28.5 560.5,28.4 560.9,28.5 561.3,28.4 561.8,28.2 562.2,28.6 562.6,28.3 563.1,28.3 563.5,28.3 563.9,28.3 564.4,28.3 564.8,28.1 565.2,28.1 565.7,28.3 566.1,28.4 566.5,28.3 566.9,28.6 567.4,28.5 567.8,28.1 568.2,28.5 568.7,28.3 569.1,28.5 569.5,27.9 570.0,28.6 570.4,28.6 570.8,28.4 571.3,28.2 571.7,28.3 572.1,28.5 572.6,28.4 573.0,28.5 573.4,28.5 573.8,27.9 574.3,28.2 574.7,28.5 575.1,28.2 575.6,27.9 576.0,28.3 576.4,27.9 576.9,28.5 577.3,28.2 577.7,28.4 578.2,27.9 578.6,27.8 579.0,28.1 579.4,28.3 579.9,28.3 580.3,28.0 580.7,27.9 581.2,27.9 581.6,27.9 582.0,27.8 582.5,28.2 582.9,27.8 583.3,28.3 583.8,28.2 584.2,28.1 584.6,27.7 585.0,27.7 585.5,27.9 585.9,28.2 586.3,27.8 586.8,27.9 587.2,27.7 587.6,28.1 588.1,28.1 588.5,27.8 588.9,27.8 589.4,27.7 589.8,27.9 590.2,28.1 590.7,27.8 591.1,27.8 591.5,27.7 591.9,28.2 592.4,27.9 592.8,27.8 593.2,27.9 593.7,27.7 594.1,28.0 594.5,28.1 595.0,28.1 595.4,28.1 595.8,27.7 596.3,28.0 596.7,27.8 597.1,27.7 597.5,28.1 598.0,27.8 598.4,27.5 598.8,27.7 599.3,27.6 599.7,27.9 600.1,28.1 600.6,27.9 601.0,27.6 601.4,27.9 601.9,27.6 602.3,27.5 602.7,27.7 603.1,27.7 603.6,28.0 604.0,27.4 604.4,27.9 604.9,28.0 605.3,27.7 605.7,28.0 606.2,27.6 606.6,27.4 607.0,27.8 607.5,27.8 607.9,27.9 608.3,27.7 608.8,27.8 609.2,28.0 609.6,27.9 610.0,27.7 610.5,27.8 610.9,27.3 611.3,27.6 611.8,27.6 612.2,27.3 612.6,27.9 613.1,27.4 613.5,27.5 613.9,27.3 614.4,27.3 614.8,27.3 615.2,27.5 615.6,27.6 616.1,27.4 616.5,27.8 616.9,27.4 617.4,27.7 617.8,27.5 618.2,27.7 618.7,27.5 619.1,27.4 619.5,27.3 620.0,27.7 620.4,27.5 620.8,27.3 621.2,27.4 621.7,27.7 622.1,27.5 622.5,27.4 623.0,27.3 623.4,27.4 623.8,27.3 624.3,27.3 624.7,27.6 625.1,27.8 625.6,27.6 626.0,27.2 626.4,27.5 626.9,27.3 627.3,27.5 627.7,27.2 628.1,27.2 628.6,27.6 629.0,27.1 629.4,27.3 629.9,27.3 630.3,27.6 630.7,27.5 631.2,27.4 631.6,27.6 632.0,27.5 632.5,27.3 632.9,27.1 633.3,27.4 633.7,27.2 634.2,27.3 634.6,27.0 635.0,27.6 635.5,27.4 635.9,27.1 636.3,27.1 636.8,27.1 637.2,27.2 637.6,27.1 638.1,27.1 638.5,27.1 638.9,27.3 639.3,27.5 639.8,27.2 640.2,27.1 640.6,27.4 641.1,27.4 641.5,27.5 641.9,27.3 642.4,27.5 642.8,27.4 643.2,27.2 643.7,26.9 644.1,27.0 644.5,27.4 645.0,27.0 645.4,27.3 645.8,27.4 646.2,27.2 646.7,27.4 647.1,27.4 647.5,27.2 648.0,27.4 648.4,27.0 648.8,27.4 649.3,27.3 649.7,27.2 650.1,26.9 650.6,26.9 651.0,26.9 651.4,27.3 651.8,26.9 652.3,27.1 652.7,27.3 653.1,27.0 653.6,27.1 654.0,27.2 654.4,26.9 654.9,26.9 655.3,26.9 655.7,27.1 656.2,27.0 656.6,27.3 657.0,27.1 657.5,27.2" fill="none" stroke="#3cb371" stroke-width="3.2" stroke-linejoin="round" stroke-linecap="round"/>
<path d="M118.8,203.2h0M119.0,201.7h0M119.2,200.2h0M119.4,198.7h0M119.6,197.2h0M119.8,195.7h0M120.0,194.2h0M120.3,192.7h0M120.5,191.2h0M120.9,191.0h0M121.3,191.0h0M121.8,191.0h0M122.2,191.0h0M122.6,190.9h0M123.1,190.9h0M123.5,190.9h0M123.9,190.9h0M124.4,190.9h0M124.8,190.9h0M125.2,190.9h0M125.6,190.9h0M126.1,190.9h0M126.5,190.8h0M126.9,190.8h0M127.4,190.8h0M127.8,190.8h0M128.2,190.8h0M128.7,190.8h0M129.1,190.8h0M129.5,190.8h0M130.0,190.8h0M130.4,190.7h0M130.8,190.7h0M131.2,190.7h0M131.7,190.7h0M132.1,190.7h0M132.5,190.7h0M133.0,190.7h0M133.4,190.7h0M133.8,190.7h0M134.3,190.6h0M134.7,190.6h0M135.1,190.6h0M135.6,190.6h0M136.0,190.6h0M136.4,190.6h0M136.9,190.6h0M137.3,190.6h0M137.7,190.5h0M138.1,190.5h0M138.6,190.5h0M139.0,190.5h0M139.4,190.5h0M139.7,189.5h0M139.9,185.3h0M140.1,181.1h0M140.3,176.8h0M140.5,172.6h0M140.7,168.4h0M140.9,166.7h0M141.2,166.3h0M141.6,165.4h0M142.0,164.1h0M142.5,162.8h0M142.9,162.8h0M143.3,162.5h0M143.5,160.8h0M143.7,161.1h0M144.2,159.8h0M144.6,160.4h0M145.0,159.0h0M145.5,160.0h0M145.9,159.0h0M146.3,157.9h0M146.5,159.7h0M146.8,158.2h0M147.0,159.2h0M147.2,159.0h0M147.6,158.3h0M148.1,156.8h0M148.5,157.7h0M148.9,157.5h0M149.3,157.2h0M149.8,156.2h0M150.2,155.4h0M150.4,156.7h0M150.6,156.6h0M151.1,156.0h0M151.5,154.9h0M151.9,154.2h0M152.4,153.8h0M152.6,154.9h0M152.8,154.2h0M153.2,153.2h0M153.7,153.8h0M154.1,153.6h0M154.3,152.1h0M154.5,152.5h0M155.0,152.9h0M155.4,152.5h0M155.8,150.7h0M156.2,151.9h0M156.7,150.2h0M157.1,150.6h0M157.5,149.6h0M157.8,151.2h0M158.0,150.5h0M158.2,148.9h0M158.4,150.2h0M158.8,148.8h0M159.3,149.5h0M159.7,148.3h0M160.1,147.6h0M160.6,147.8h0M161.0,146.9h0M161.2,148.3h0M161.4,146.9h0M161.8,146.7h0M162.3,147.3h0M162.5,146.1h0M162.7,146.2h0M163.1,146.5h0M163.4,147.6h0M163.6,147.0h0M164.0,147.1h0M164.2,145.6h0M164.4,146.3h0M164.9,144.5h0M165.3,143.5h0M165.7,141.5h0M166.2,141.1h0M166.6,140.7h0M167.0,138.9h0M167.4,139.9h0M167.9,139.1h0M168.1,137.9h0M168.3,139.1h0M168.5,137.9h0M168.7,138.5h0M169.2,137.7h0M169.6,137.5h0M170.0,136.4h0M170.2,138.0h0M170.5,137.3h0M170.7,136.1h0M170.9,137.0h0M171.3,137.3h0M171.5,136.2h0M171.8,135.4h0M172.0,136.6h0M172.2,137.1h0M172.6,136.9h0M172.8,135.0h0M173.1,135.3h0M173.5,135.4h0M173.9,135.0h0M174.3,135.5h0M174.8,135.3h0M175.2,135.1h0M175.6,133.9h0M176.1,135.1h0M176.5,134.3h0M176.9,134.0h0M177.4,133.6h0M177.8,132.5h0M178.2,133.7h0M178.4,132.2h0M178.7,131.9h0M179.1,133.2h0M179.5,132.0h0M179.7,133.2h0M179.9,132.2h0M180.4,132.3h0M180.8,132.4h0M181.2,131.5h0M181.7,132.2h0M182.1,130.8h0M182.5,130.6h0M183.0,131.1h0M183.4,130.2h0M183.8,130.1h0M184.3,128.8h0M184.7,130.1h0M185.1,128.6h0M185.5,127.9h0M186.0,129.3h0M186.2,127.7h0M186.4,127.7h0M186.6,128.7h0M186.8,127.3h0M187.3,128.1h0M187.7,128.2h0M187.9,126.3h0M188.1,126.7h0M188.6,126.4h0M189.0,125.9h0M189.4,125.5h0M189.9,126.5h0M190.3,125.7h0M190.7,125.7h0M191.2,124.8h0M191.6,124.3h0M192.0,124.1h0M192.4,123.6h0M192.9,123.6h0M193.3,123.3h0M193.7,123.7h0M194.2,122.7h0M194.6,123.1h0M194.8,121.5h0M195.0,121.8h0M195.5,122.6h0M195.9,120.4h0M196.1,121.9h0M196.3,119.9h0M196.8,120.9h0M197.2,120.3h0M197.6,119.9h0M197.8,118.5h0M198.0,119.4h0M198.5,118.7h0M198.9,118.3h0M199.3,118.6h0M199.6,117.1h0M199.8,116.9h0M200.2,116.8h0M200.6,116.1h0M201.1,116.2h0M201.3,115.1h0M201.5,115.8h0M201.9,114.7h0M202.4,115.7h0M202.8,115.6h0M203.2,114.0h0M203.6,113.5h0M204.1,113.7h0M204.3,112.1h0M204.5,112.9h0M204.9,112.3h0M205.4,111.0h0M205.8,109.9h0M206.2,108.6h0M206.7,108.8h0M207.1,107.5h0M207.5,106.5h0M207.7,104.6h0M208.0,103.3h0M208.4,101.7h0M208.6,99.9h0M208.8,97.4h0M209.0,95.2h0M209.3,95.3h0M209.5,92.7h0M209.7,92.0h0M210.1,89.5h0M210.3,88.3h0M210.5,87.4h0M211.0,85.1h0M211.2,83.7h0M211.4,83.5h0M211.8,82.5h0M212.3,81.1h0M212.7,80.2h0M212.9,79.1h0M213.1,78.3h0M213.6,76.5h0M214.0,75.2h0M214.4,73.8h0M214.9,72.6h0M215.3,71.7h0M215.5,70.4h0M215.7,70.8h0M216.1,70.3h0M216.4,68.5h0M216.6,68.1h0M217.0,67.6h0M217.4,67.0h0M217.9,64.5h0M218.3,64.9h0M218.5,62.9h0M218.7,62.9h0M219.2,61.4h0M219.6,61.7h0M219.8,60.6h0M220.0,59.2h0M220.5,58.8h0M220.7,57.6h0M220.9,58.1h0M221.1,57.0h0M221.3,56.6h0M221.7,56.2h0M222.2,54.5h0M222.6,54.3h0M223.0,53.7h0M223.3,52.7h0M223.5,53.0h0M223.7,51.6h0M223.9,51.8h0M224.3,51.4h0M224.6,50.1h0M224.8,50.4h0M225.2,49.2h0M225.6,48.7h0M225.8,47.1h0M226.1,48.0h0M226.3,47.0h0M226.5,46.6h0M226.9,45.8h0M227.1,44.7h0M227.4,45.2h0M227.8,43.5h0M228.2,43.2h0M228.6,42.4h0M229.1,42.0h0M229.5,42.2h0M229.9,42.1h0M230.2,41.1h0M230.4,41.9h0M230.8,41.3h0M231.2,40.8h0M231.7,40.9h0M232.1,40.4h0M232.5,41.3h0M233.0,41.1h0M233.4,40.3h0M233.8,39.7h0M234.2,40.3h0M234.7,40.4h0M235.1,39.5h0M235.5,39.8h0M236.0,39.8h0M236.4,39.7h0M236.8,39.6h0M237.3,39.2h0M237.7,39.2h0M238.1,39.0h0M238.6,38.5h0M239.0,38.4h0M239.4,37.7h0M239.8,37.9h0M240.3,38.2h0M240.7,37.4h0M241.1,38.0h0M241.6,37.9h0M242.0,37.3h0M242.4,37.4h0M242.9,37.7h0M243.3,38.1h0M243.7,37.4h0M244.2,37.8h0M244.6,37.6h0M245.0,37.4h0M245.5,37.4h0M245.9,37.4h0M246.3,37.7h0M246.7,37.3h0M247.2,37.5h0M247.6,37.7h0M248.0,37.6h0M248.5,37.2h0M248.9,37.1h0M249.3,37.7h0M249.8,37.3h0M250.2,37.5h0M250.6,37.6h0M251.1,37.1h0M251.5,37.7h0M251.9,37.6h0M252.3,37.8h0M252.8,37.2h0M253.2,37.0h0M253.6,37.1h0M254.1,37.1h0M254.5,37.1h0M254.9,37.2h0M255.4,36.9h0M255.8,36.8h0M256.2,37.6h0M256.7,36.7h0M257.1,37.4h0M257.5,37.3h0M258.0,36.9h0M258.4,36.8h0M258.8,37.5h0M259.2,37.2h0M259.7,37.4h0M260.1,36.6h0M260.5,37.2h0M261.0,36.5h0M261.4,36.6h0M261.8,37.2h0M262.3,36.7h0M262.7,37.1h0M263.1,36.6h0M263.6,36.9h0M264.0,36.9h0M264.4,36.9h0M264.8,37.3h0M265.3,36.8h0M265.7,37.0h0M266.1,36.9h0M266.6,37.2h0M267.0,36.5h0M267.4,37.1h0M267.9,36.8h0M268.3,37.1h0M268.7,36.3h0M269.2,37.1h0M269.6,36.7h0M270.0,36.3h0M270.4,36.3h0M270.9,36.6h0M271.3,37.0h0M271.7,36.6h0M272.2,36.4h0M272.6,36.7h0M273.0,36.9h0M273.5,36.8h0M273.9,36.6h0M274.3,36.8h0M274.8,36.1h0M275.2,36.3h0M275.6,36.4h0M276.1,36.5h0M276.5,36.4h0M276.9,36.4h0M277.3,35.9h0M277.8,36.0h0M278.2,36.1h0M278.6,36.2h0M279.1,36.0h0M279.5,36.0h0M279.9,36.0h0M280.4,36.7h0M280.8,36.6h0M281.2,36.2h0M281.7,35.8h0M282.1,36.1h0M282.5,36.6h0M282.9,35.8h0M283.4,36.3h0M283.8,36.5h0M284.2,36.5h0M284.7,36.2h0M285.1,35.8h0M285.5,35.7h0M286.0,35.8h0M286.4,36.4h0M286.8,36.4h0M287.3,36.1h0M287.7,35.9h0M288.1,36.2h0M288.5,35.9h0M289.0,35.6h0M289.4,35.9h0M289.8,35.9h0M290.3,35.5h0M290.7,35.5h0M291.1,35.8h0M291.6,35.7h0M292.0,35.3h0M292.4,36.0h0M292.9,35.3h0M293.3,35.8h0M293.7,35.4h0M294.2,35.9h0M294.6,35.5h0M295.0,35.5h0M295.4,36.0h0M295.9,36.0h0M296.3,35.6h0M296.7,35.2h0M297.2,35.3h0M297.6,35.5h0M298.0,35.4h0M298.5,35.3h0M298.9,35.1h0M299.3,35.3h0M299.8,35.5h0M300.2,35.2h0M300.6,35.4h0M301.0,35.0h0M301.5,35.4h0M301.9,35.1h0M302.3,35.5h0M302.8,35.6h0M303.2,35.6h0M303.6,34.9h0M304.1,35.7h0M304.5,35.4h0M304.9,34.9h0M305.4,35.0h0M305.8,35.3h0M306.2,35.0h0M306.6,35.1h0M307.1,35.2h0M307.5,35.3h0M307.9,34.9h0M308.4,35.4h0M308.8,35.0h0M309.2,34.7h0M309.7,34.9h0M310.1,35.1h0M310.5,34.6h0M311.0,35.2h0M311.4,35.0h0M311.8,34.6h0M312.3,35.2h0M312.7,34.9h0M313.1,35.2h0M313.5,35.3h0M314.0,34.8h0M314.4,34.8h0M314.8,34.6h0M315.3,34.9h0M315.7,35.2h0M316.1,35.2h0M316.6,34.9h0M317.0,34.5h0M317.4,35.1h0M317.9,35.0h0M318.3,34.4h0M318.7,34.6h0M319.1,34.3h0M319.6,34.8h0M320.0,34.4h0M320.4,34.8h0M320.9,34.2h0M321.3,34.8h0M321.7,34.5h0M322.2,34.5h0M322.6,34.3h0M323.0,34.8h0M323.5,34.3h0M323.9,34.7h0M324.3,34.2h0M324.7,34.6h0M325.2,34.6h0M325.6,34.8h0M326.0,34.2h0M326.5,34.3h0M326.9,34.7h0M327.3,34.2h0M327.8,34.2h0M328.2,33.9h0M328.6,34.5h0M329.1,34.1h0M329.5,34.0h0M329.9,33.9h0M330.4,34.6h0M330.8,34.1h0M331.2,33.9h0M331.6,33.8h0M332.1,34.3h0M332.5,34.6h0M332.9,34.2h0M333.4,33.7h0M333.8,34.1h0M334.2,34.3h0M334.7,33.7h0M335.1,34.4h0M335.5,33.9h0M336.0,33.6h0M336.4,34.2h0M336.8,33.8h0M337.2,34.3h0M337.7,33.7h0M338.1,34.2h0M338.5,33.9h0M339.0,34.0h0M339.4,34.1h0M339.8,33.8h0M340.3,34.2h0M340.7,33.7h0M341.1,34.1h0M341.6,33.8h0M342.0,34.2h0M342.4,33.5h0M342.8,33.8h0M343.3,34.2h0M343.7,33.3h0M344.1,34.1h0M344.6,33.5h0M345.0,33.4h0M345.4,33.4h0M345.9,33.3h0M346.3,33.7h0M346.7,33.6h0M347.2,33.4h0M347.6,33.4h0M348.0,33.3h0M348.5,33.9h0M348.9,33.8h0M349.3,34.0h0M349.7,33.6h0M350.2,33.1h0M350.6,33.8h0M351.0,33.3h0M351.5,33.3h0M351.9,33.8h0M352.3,33.3h0M352.8,33.8h0M353.2,33.2h0M353.6,33.6h0M354.1,33.3h0M354.5,33.7h0M354.9,33.2h0M355.3,33.2h0M355.8,33.3h0M356.2,33.5h0M356.6,33.2h0M357.1,33.3h0M357.5,33.1h0M357.9,32.9h0M358.4,33.7h0M358.8,33.0h0M359.2,33.5h0M359.7,33.5h0M360.1,33.5h0M360.5,33.2h0M360.9,33.0h0M361.4,33.5h0M361.8,33.2h0M362.2,32.8h0M362.7,33.1h0M363.1,32.9h0M363.5,32.9h0M364.0,33.5h0M364.4,33.0h0M364.8,32.9h0M365.3,33.2h0M365.7,32.6h0M366.1,33.4h0M366.6,33.4h0M367.0,33.3h0M367.4,33.2h0M367.8,32.7h0M368.3,33.0h0M368.7,33.0h0M369.1,33.4h0M369.6,33.0h0M370.0,32.7h0M370.4,33.3h0M370.9,32.9h0M371.3,33.0h0M371.7,32.7h0M372.2,32.6h0M372.6,32.8h0M373.0,33.2h0M373.4,32.5h0M373.9,32.9h0M374.3,32.8h0M374.7,32.7h0M375.2,32.5h0M375.6,33.1h0M376.0,32.5h0M376.5,33.0h0M376.9,32.3h0M377.3,32.7h0M377.8,32.2h0M378.2,32.7h0M378.6,32.8h0M379.0,32.7h0M379.5,32.9h0M379.9,32.7h0M380.3,32.2h0M380.8,32.6h0M381.2,32.9h0M381.6,32.7h0M382.1,32.3h0M382.5,32.4h0M382.9,32.2h0M383.4,32.2h0M383.8,32.6h0M384.2,32.5h0M384.7,32.5h0M385.1,32.7h0M385.5,32.2h0M385.9,32.5h0M386.4,32.7h0M386.8,32.4h0M387.2,32.7h0M387.7,32.2h0M388.1,32.7h0M388.5,31.9h0M389.0,32.6h0M389.4,32.4h0M389.8,32.3h0M390.3,32.1h0M390.7,32.6h0M391.1,32.2h0M391.5,31.9h0M392.0,32.4h0M392.4,31.8h0M392.8,32.1h0M393.3,31.8h0M393.7,32.3h0M394.1,31.9h0M394.6,31.8h0M395.0,32.2h0M395.4,32.2h0M395.9,32.1h0M396.3,31.8h0M396.7,31.7h0M397.2,32.4h0M397.6,31.8h0M398.0,31.7h0M398.4,31.9h0M398.9,31.6h0M399.3,32.1h0M399.7,32.2h0M400.2,32.0h0M400.6,32.0h0M401.0,31.5h0M401.5,31.7h0M401.9,32.1h0M402.3,31.9h0M402.8,31.8h0M403.2,31.5h0M403.6,32.1h0M404.0,31.6h0M404.5,31.6h0M404.9,31.4h0M405.3,31.8h0M405.8,31.8h0M406.2,31.5h0M406.6,31.6h0M407.1,32.1h0M407.5,31.8h0M407.9,31.7h0M408.4,31.3h0M408.8,31.6h0M409.2,31.5h0M409.6,31.7h0M410.1,31.9h0M410.5,31.4h0M410.9,31.8h0M411.4,31.7h0M411.8,31.2h0M412.2,31.6h0M412.7,31.7h0M413.1,31.4h0M413.5,31.8h0M414.0,31.6h0M414.4,31.8h0M414.8,31.4h0M415.3,31.2h0M415.7,31.3h0M416.1,31.1h0M416.5,31.4h0M417.0,31.4h0M417.4,31.3h0M417.8,31.5h0M418.3,31.7h0M418.7,30.9h0M419.1,31.1h0M419.6,31.6h0M420.0,31.2h0M420.4,30.9h0M420.9,31.4h0M421.3,31.5h0M421.7,31.4h0M422.1,30.9h0M422.6,31.5h0M423.0,31.5h0M423.4,31.2h0M423.9,30.8h0M424.3,31.5h0M424.7,30.9h0M425.2,31.0h0M425.6,31.3h0M426.0,30.7h0M426.5,30.6h0M426.9,31.0h0M427.3,31.0h0M427.7,30.8h0M428.2,30.6h0M428.6,31.0h0M429.0,31.2h0M429.5,30.5h0M429.9,31.0h0M430.3,31.2h0M430.8,31.2h0M431.2,31.1h0M431.6,30.5h0M432.1,31.0h0M432.5,30.8h0M432.9,30.7h0M433.4,30.9h0M433.8,30.6h0M434.2,31.0h0M434.6,30.7h0M435.1,30.4h0M435.5,31.1h0M435.9,30.7h0M436.4,30.5h0M436.8,31.0h0M437.2,30.8h0M437.7,30.4h0M438.1,30.7h0M438.5,30.4h0M439.0,30.9h0M439.4,30.7h0M439.8,30.5h0M440.2,30.6h0M440.7,30.6h0M441.1,30.7h0M441.5,30.2h0M442.0,30.7h0M442.4,30.5h0M442.8,30.6h0M443.3,30.7h0M443.7,30.2h0M444.1,30.8h0M444.6,30.5h0M445.0,30.2h0M445.4,30.4h0M445.8,30.2h0M446.3,30.6h0M446.7,30.3h0M447.1,30.8h0M447.6,30.5h0M448.0,30.6h0M448.4,30.6h0M448.9,30.7h0M449.3,30.2h0M449.7,30.8h0M450.2,30.1h0M450.6,30.0h0M451.0,30.3h0M451.5,30.5h0M451.9,30.3h0M452.3,30.3h0M452.7,30.2h0M453.2,30.5h0M453.6,30.3h0M454.0,30.2h0M454.5,30.0h0M454.9,30.3h0M455.3,30.3h0M455.8,29.9h0M456.2,30.2h0M456.6,30.6h0M457.1,30.3h0M457.5,30.0h0M457.9,30.2h0M458.3,30.2h0M458.8,30.5h0M459.2,29.9h0M459.6,30.1h0M460.1,30.2h0M460.5,30.3h0M460.9,30.0h0M461.4,29.9h0M461.8,30.4h0M462.2,29.9h0M462.7,30.3h0M463.1,30.3h0M463.5,30.1h0M463.9,30.4h0M464.4,30.0h0M464.8,30.3h0M465.2,30.1h0M465.7,30.4h0M466.1,30.3h0M466.5,30.0h0M467.0,29.7h0M467.4,30.4h0M467.8,29.9h0M468.3,29.8h0M468.7,30.3h0M469.1,29.9h0M469.6,29.8h0M470.0,30.4h0M470.4,29.9h0M470.8,30.2h0M471.3,30.3h0M471.7,29.8h0M472.1,30.0h0M472.6,29.7h0M473.0,29.7h0M473.4,30.2h0M473.9,29.9h0M474.3,30.3h0M474.7,30.2h0M475.2,29.9h0M475.6,30.2h0M476.0,30.3h0M476.4,29.8h0M476.9,30.0h0M477.3,30.1h0M477.7,29.7h0M478.2,30.2h0M478.6,29.9h0M479.0,30.2h0M479.5,30.0h0M479.9,29.5h0M480.3,30.0h0M480.8,29.6h0M481.2,29.8h0M481.6,29.7h0M482.0,29.5h0M482.5,29.6h0M482.9,29.6h0M483.3,29.8h0M483.8,29.8h0M484.2,29.9h0M484.6,29.8h0M485.1,30.0h0M485.5,30.0h0M485.9,29.5h0M486.4,29.7h0M486.8,29.9h0M487.2,29.9h0M487.7,29.5h0M488.1,30.0h0M488.5,29.6h0M488.9,29.6h0M489.4,30.0h0M489.8,30.0h0M490.2,29.3h0M490.7,29.3h0M491.1,29.9h0M491.5,29.9h0M492.0,29.9h0M492.4,29.5h0M492.8,29.8h0M493.3,29.8h0M493.7,29.7h0M494.1,29.8h0M494.5,29.9h0M495.0,29.9h0M495.4,29.2h0M495.8,29.9h0M496.3,29.7h0M496.7,29.7h0M497.1,29.6h0M497.6,29.8h0M498.0,29.9h0M498.4,29.4h0M498.9,29.9h0M499.3,29.4h0M499.7,29.2h0M500.1,29.2h0M500.6,29.4h0M501.0,29.2h0M501.4,29.3h0M501.9,29.2h0M502.3,29.7h0M502.7,29.6h0M503.2,29.2h0M503.6,29.3h0M504.0,29.8h0M504.5,29.3h0M504.9,29.6h0M505.3,29.8h0M505.8,29.1h0M506.2,29.4h0M506.6,29.4h0M507.0,29.6h0M507.5,29.4h0M507.9,29.7h0M508.3,29.4h0M508.8,29.4h0M509.2,29.5h0M509.6,29.1h0M510.1,29.1h0M510.5,29.4h0M510.9,29.2h0M511.4,29.2h0M511.8,29.0h0M512.2,29.6h0M512.6,29.5h0M513.1,29.1h0M513.5,29.3h0M513.9,29.2h0M514.4,29.4h0M514.8,29.0h0M515.2,29.0h0M515.7,29.3h0M516.1,28.9h0M516.5,29.4h0M517.0,29.4h0M517.4,29.2h0M517.8,28.9h0M518.2,29.2h0M518.7,29.4h0M519.1,29.1h0M519.5,29.0h0M520.0,29.2h0M520.4,29.5h0M520.8,29.2h0M521.3,29.2h0M521.7,29.4h0M522.1,29.1h0M522.6,28.9h0M523.0,28.9h0M523.4,28.8h0M523.9,29.4h0M524.3,29.4h0M524.7,28.9h0M525.1,28.9h0M525.6,29.4h0M526.0,29.0h0M526.4,29.4h0M526.9,28.7h0M527.3,29.1h0M527.7,29.0h0M528.2,28.8h0M528.6,28.7h0M529.0,29.2h0M529.5,28.7h0M529.9,29.1h0M530.3,28.7h0M530.7,28.6h0M531.2,29.0h0M531.6,28.8h0M532.0,29.2h0M532.5,28.7h0M532.9,28.8h0M533.3,28.7h0M533.8,28.6h0M534.2,29.1h0M534.6,29.2h0M535.1,28.9h0M535.5,29.0h0M535.9,29.2h0M536.4,28.9h0M536.8,28.8h0M537.2,29.0h0M537.6,29.1h0M538.1,28.5h0M538.5,28.8h0M538.9,28.6h0M539.4,28.6h0M539.8,28.8h0M540.2,29.1h0M540.7,28.9h0M541.1,28.8h0M541.5,29.0h0M542.0,28.5h0M542.4,29.1h0M542.8,28.6h0M543.2,28.9h0M543.7,28.5h0M544.1,28.6h0M544.5,29.0h0M545.0,28.7h0M545.4,28.7h0M545.8,28.9h0M546.3,29.0h0M546.7,28.4h0M547.1,28.3h0M547.6,28.8h0M548.0,29.0h0M548.4,28.5h0M548.8,28.8h0M549.3,28.4h0M549.7,28.9h0M550.1,28.7h0M550.6,28.7h0M551.0,28.9h0M551.4,28.7h0M551.9,28.4h0M552.3,28.4h0M552.7,28.8h0M553.2,28.6h0M553.6,28.8h0M554.0,28.6h0M554.5,28.5h0M554.9,28.7h0M555.3,28.6h0M555.7,28.3h0M556.2,28.7h0M556.6,28.8h0M557.0,28.7h0M557.5,28.4h0M557.9,28.3h0M558.3,28.4h0M558.8,28.8h0M559.2,28.6h0M559.6,28.7h0M560.1,28.5h0M560.5,28.4h0M560.9,28.5h0M561.3,28.4h0M561.8,28.2h0M562.2,28.6h0M562.6,28.3h0M563.1,28.3h0M563.5,28.3h0M563.9,28.3h0M564.4,28.3h0M564.8,28.1h0M565.2,28.1h0M565.7,28.3h0M566.1,28.4h0M566.5,28.3h0M566.9,28.6h0M567.4,28.5h0M567.8,28.1h0M568.2,28.5h0M568.7,28.3h0M569.1,28.5h0M569.5,27.9h0M570.0,28.6h0M570.4,28.6h0M570.8,28.4h0M571.3,28.2h0M571.7,28.3h0M572.1,28.5h0M572.6,28.4h0M573.0,28.5h0M573.4,28.5h0M573.8,27.9h0M574.3,28.2h0M574.7,28.5h0M575.1,28.2h0M575.6,27.9h0M576.0,28.3h0M576.4,27.9h0M576.9,28.5h0M577.3,28.2h0M577.7,28.4h0M578.2,27.9h0M578.6,27.8h0M579.0,28.1h0M579.4,28.3h0M579.9,28.3h0M580.3,28.0h0M580.7,27.9h0M581.2,27.9h0M581.6,27.9h0M582.0,27.8h0M582.5,28.2h0M582.9,27.8h0M583.3,28.3h0M583.8,28.2h0M584.2,28.1h0M584.6,27.7h0M585.0,27.7h0M585.5,27.9h0M585.9,28.2h0M586.3,27.8h0M586.8,27.9h0M587.2,27.7h0M587.6,28.1h0M588.1,28.1h0M588.5,27.8h0M588.9,27.8h0M589.4,27.7h0M589.8,27.9h0M590.2,28.1h0M590.7,27.8h0M591.1,27.8h0M591.5,27.7h0M591.9,28.2h0M592.4,27.9h0M592.8,27.8h0M593.2,27.9h0M593.7,27.7h0M594.1,28.0h0M594.5,28.1h0M595.0,28.1h0M595.4,28.1h0M595.8,27.7h0M596.3,28.0h0M596.7,27.8h0M597.1,27.7h0M597.5,28.1h0M598.0,27.8h0M598.4,27.5h0M598.8,27.7h0M599.3,27.6h0M599.7,27.9h0M600.1,28.1h0M600.6,27.9h0M601.0,27.6h0M601.4,27.9h0M601.9,27.6h0M602.3,27.5h0M602.7,27.7h0M603.1,27.7h0M603.6,28.0h0M604.0,27.4h0M604.4,27.9h0M604.9,28.0h0M605.3,27.7h0M605.7,28.0h0M606.2,27.6h0M606.6,27.4h0M607.0,27.8h0M607.5,27.8h0M607.9,27.9h0M608.3,27.7h0M608.8,27.8h0M609.2,28.0h0M609.6,27.9h0M610.0,27.7h0M610.5,27.8h0M610.9,27.3h0M611.3,27.6h0M611.8,27.6h0M612.2,27.3h0M612.6,27.9h0M613.1,27.4h0M613.5,27.5h0M613.9,27.3h0M614.4,27.3h0M614.8,27.3h0M615.2,27.5h0M615.6,27.6h0M616.1,27.4h0M616.5,27.8h0M616.9,27.4h0M617.4,27.7h0M617.8,27.5h0M618.2,27.7h0M618.7,27.5h0M619.1,27.4h0M619.5,27.3h0M620.0,27.7h0M620.4,27.5h0M620.8,27.3h0M621.2,27.4h0M621.7,27.7h0M622.1,27.5h0M622.5,27.4h0M623.0,27.3h0M623.4,27.4h0M623.8,27.3h0M624.3,27.3h0M624.7,27.6h0M625.1,27.8h0M625.6,27.6h0M626.0,27.2h0M626.4,27.5h0M626.9,27.3h0M627.3,27.5h0M627.7,27.2h0M628.1,27.2h0M628.6,27.6h0M629.0,27.1h0M629.4,27.3h0M629.9,27.3h0M630.3,27.6h0M630.7,27.5h0M631.2,27.4h0M631.6,27.6h0M632.0,27.5h0M632.5,27.3h0M632.9,27.1h0M633.3,27.4h0M633.7,27.2h0M634.2,27.3h0M634.6,27.0h0M635.0,27.6h0M635.5,27.4h0M635.9,27.1h0M636.3,27.1h0M636.8,27.1h0M637.2,27.2h0M637.6,27.1h0M638.1,27.1h0M638.5,27.1h0M638.9,27.3h0M639.3,27.5h0M639.8,27.2h0M640.2,27.1h0M640.6,27.4h0M641.1,27.4h0M641.5,27.5h0M641.9,27.3h0M642.4,27.5h0M642.8,27.4h0M643.2,27.2h0M643.7,26.9h0M644.1,27.0h0M644.5,27.4h0M645.0,27.0h0M645.4,27.3h0M645.8,27.4h0M646.2,27.2h0M646.7,27.4h0M647.1,27.4h0M647.5,27.2h0M648.0,27.4h0M648.4,27.0h0M648.8,27.4h0M649.3,27.3h0M649.7,27.2h0M650.1,26.9h0M650.6,26.9h0M651.0,26.9h0M651.4,27.3h0M651.8,26.9h0M652.3,27.1h0M652.7,27.3h0M653.1,27.0h0M653.6,27.1h0M654.0,27.2h0M654.4,26.9h0M654.9,26.9h0M655.3,26.9h0M655.7,27.1h0M656.2,27.0h0M656.6,27.3h0M657.0,27.1h0M657.5,27.2h0" fill="none" stroke="#3cb371" stroke-width="11.7" stroke-linecap="round"/>

<path d="M118.8,203.5 119.2,202.1 119.4,201.0 119.6,200.0 120.0,200.0 120.5,200.0 120.9,200.0 121.3,200.0 121.8,200.0 122.2,200.0 122.6,199.9 123.1,199.9 123.5,199.9 123.9,199.9 124.4,199.9 124.8,199.9 125.2,199.9 125.6,199.9 126.1,199.9 126.5,199.9 126.9,199.9 127.4,199.9 127.8,199.9 128.2,199.8 128.7,199.8 129.1,199.8 129.5,199.8 130.0,199.8 130.4,199.8 130.8,199.8 131.2,199.8 131.7,199.8 132.1,199.8 132.5,199.8 133.0,199.8 133.4,199.7 133.8,199.7 134.3,199.7 134.7,199.7 135.1,199.7 135.6,199.7 136.0,199.7 136.4,199.7 136.9,199.7 137.3,199.7 137.7,199.7 138.1,199.7 138.6,199.7 139.0,199.6 139.4,199.6 139.9,199.6 140.3,199.6 140.7,199.6 141.2,199.6 141.6,199.6 141.8,185.6 142.0,173.6 142.2,161.1 142.5,148.6 142.7,136.0 142.9,124.2 143.1,111.4 143.3,99.7 143.5,90.3 143.7,80.8 144.0,72.8 144.2,65.8 144.4,59.9 144.6,54.9 144.8,50.9 145.0,47.9 145.3,45.4 145.5,43.5 145.7,42.0 145.9,41.0 146.3,39.8 146.8,40.1 147.2,39.7 147.4,41.7 147.6,40.9 147.8,42.2 148.1,39.9 148.3,41.2 148.5,41.4 148.7,39.7 148.9,41.8 149.3,41.4 149.8,42.2 150.2,43.3 150.6,43.6 151.1,42.8 151.3,41.5 151.5,42.3 151.7,40.9 151.9,42.5 152.4,42.4 152.8,41.0 153.0,43.6 153.2,40.9 153.4,42.4 153.7,41.6 154.1,42.5 154.5,41.2 154.7,43.7 155.0,41.8 155.2,44.1 155.4,43.0 155.8,41.4 156.0,43.9 156.2,41.6 156.5,43.7 156.7,43.0 157.1,41.6 157.3,42.7 157.5,41.4 157.8,43.9 158.0,43.7 158.2,41.9 158.4,43.1 158.6,42.1 158.8,43.8 159.0,42.2 159.3,42.2 159.7,44.8 160.1,43.0 160.3,44.3 160.6,42.9 161.0,44.7 161.2,42.0 161.4,44.4 161.6,43.4 161.8,37.9 162.3,34.8 162.5,32.1 162.7,33.4 163.1,33.2 163.6,33.2 163.8,32.0 164.0,32.8 164.4,34.0 164.9,34.3 165.3,34.8 165.5,33.7 165.7,32.9 166.2,34.2 166.6,32.4 166.8,33.5 167.0,34.9 167.2,33.8 167.4,32.9 167.7,34.4 167.9,33.1 168.1,31.9 168.3,32.1 168.5,34.9 168.7,32.1 169.0,34.3 169.2,31.9 169.4,33.2 169.6,32.7 170.0,32.1 170.5,34.2 170.9,32.2 171.1,34.3 171.3,34.6 171.5,33.2 171.8,32.9 172.0,31.8 172.2,32.0 172.6,32.1 172.8,34.8 173.1,33.8 173.3,32.7 173.5,33.6 173.7,32.2 173.9,34.6 174.1,33.3 174.3,33.9 174.6,32.3 174.8,33.2 175.2,32.9 175.4,31.9 175.6,33.2 175.9,34.3 176.1,33.1 176.3,34.8 176.5,33.4 176.7,34.4 176.9,31.7 177.1,33.6 177.4,33.2 177.8,34.5 178.0,31.9 178.2,33.1 178.7,34.6 179.1,32.2 179.5,31.6 179.9,34.5 180.4,34.1 180.6,32.8 180.8,33.1 181.2,34.1 181.5,31.5 181.7,31.6 182.1,30.1 182.3,32.1 182.5,28.6 182.7,31.6 183.0,29.2 183.4,29.8 183.8,31.6 184.0,30.0 184.3,31.3 184.7,31.6 184.9,29.6 185.1,30.0 185.3,28.5 185.5,29.7 186.0,28.8 186.2,31.1 186.4,29.3 186.8,28.8 187.3,30.8 187.7,30.0 188.1,31.4 188.4,29.6 188.6,29.9 189.0,31.3 189.4,31.2 189.6,28.9 189.9,31.3 190.3,29.4 190.5,30.9 190.7,31.3 191.2,30.7 191.6,31.1 192.0,28.5 192.4,28.6 192.7,29.7 192.9,28.5 193.1,30.0 193.3,31.2 193.7,28.3 194.0,30.4 194.2,28.7 194.4,31.0 194.6,28.3 195.0,29.2 195.2,28.2 195.5,30.3 195.7,28.8 195.9,30.5 196.3,29.7 196.8,31.3 197.0,29.2 197.2,31.0 197.6,28.2 198.0,30.4 198.3,28.3 198.5,30.9 198.9,30.5 199.3,30.0 199.8,29.6 200.2,30.3 200.6,29.1 201.1,29.4 201.5,30.4 201.9,30.6 202.4,29.2 202.8,30.7 203.0,28.6 203.2,30.2 203.6,30.1 204.1,30.1 204.3,28.7 204.5,28.0 204.7,30.9 204.9,30.7 205.2,29.5 205.4,30.0 205.6,28.2 205.8,29.3 206.2,30.0 206.5,28.5 206.7,28.1 206.9,30.8 207.1,30.4 207.3,28.4 207.5,30.3 208.0,28.3 208.2,30.2 208.4,28.9 208.8,28.2 209.0,29.5 209.3,29.6 209.7,28.0 209.9,30.1 210.1,28.6 210.5,29.6 210.8,28.2 211.0,30.3 211.4,29.9 211.6,28.6 211.8,28.8 212.3,28.3 212.7,29.8 213.1,29.9 213.3,27.8 213.6,28.3 214.0,30.1 214.2,27.7 214.4,29.0 214.9,28.0 215.1,30.2 215.3,30.2 215.5,28.1 215.7,27.8 215.9,29.2 216.1,28.8 216.6,29.1 217.0,29.5 217.2,28.2 217.4,29.4 217.9,30.0 218.1,28.6 218.3,27.3 218.5,29.8 218.7,28.0 218.9,29.5 219.2,28.9 219.6,29.2 220.0,29.5 220.5,28.1 220.9,27.9 221.3,28.4 221.7,27.9 222.2,27.9 222.6,28.6 222.8,27.3 223.0,27.7 223.5,28.9 223.7,27.7 223.9,27.2 224.1,29.2 224.3,28.1 224.8,27.8 225.2,28.4 225.4,27.1 225.6,29.5 225.8,27.2 226.1,29.3 226.5,28.8 226.7,27.4 226.9,29.2 227.4,27.9 227.8,27.2 228.0,29.0 228.2,29.3 228.4,27.8 228.6,28.6 229.1,28.0 229.5,28.1 229.9,28.6 230.4,27.9 230.8,29.1 231.0,26.8 231.2,28.4 231.7,27.5 231.9,29.0 232.1,26.7 232.5,27.4 233.0,28.0 233.4,28.6 233.6,26.5 233.8,27.9 234.2,28.1 234.7,27.3 235.1,27.2 235.5,27.2 236.0,27.9 236.4,28.4 236.6,27.2 236.8,27.4 237.3,28.5 237.7,28.6 237.9,26.3 238.1,28.5 238.3,26.7 238.6,28.4 238.8,26.3 239.0,28.2 239.4,27.8 239.8,27.1 240.3,26.5 240.5,27.6 240.7,26.9 241.1,26.5 241.6,26.5 242.0,28.1 242.4,27.7 242.7,26.3 242.9,27.6 243.3,28.2 243.7,27.3 244.2,26.2 244.4,27.7 244.6,27.5 245.0,26.7 245.5,26.2 245.7,27.4 245.9,26.6 246.1,27.9 246.3,26.1 246.5,27.6 246.7,26.9 247.2,26.4 247.6,26.6 248.0,26.2 248.3,27.8 248.5,26.6 248.9,27.2 249.3,27.7 249.5,26.3 249.8,26.1 250.2,26.2 250.6,26.9 251.1,25.7 251.3,27.6 251.5,27.1 251.9,27.5 252.3,25.9 252.6,27.1 252.8,27.5 253.0,25.6 253.2,26.5 253.6,27.3 253.9,25.7 254.1,27.1 254.3,25.9 254.5,26.7 254.9,26.9 255.1,25.5 255.4,26.4 255.8,25.6 256.2,25.6 256.4,27.2 256.7,26.4 257.1,26.3 257.5,25.7 258.0,26.6 258.4,27.1 258.8,26.8 259.2,26.6 259.7,26.8 259.9,25.6 260.1,27.0 260.3,25.2 260.5,26.6 261.0,26.7 261.4,26.7 261.8,26.3 262.3,25.3 262.5,26.8 262.7,26.0 263.1,26.3 263.6,26.0 264.0,25.9 264.4,25.1 264.6,26.1 264.8,26.3 265.3,25.2 265.5,26.4 265.7,26.3 266.1,25.2 266.4,26.5 266.6,26.3 267.0,26.4 267.4,26.0 267.9,25.6 268.3,26.1 268.7,25.7 269.2,26.0 269.6,25.6 270.0,26.0 270.4,25.2 270.9,25.6 271.3,25.9 271.7,26.2 272.2,25.0 272.4,26.1 272.6,24.9 272.8,26.3 273.0,25.9 273.5,25.9 273.9,25.8 274.3,24.8 274.5,26.3 274.8,25.3 275.2,26.2 275.6,25.4 276.1,24.8 276.5,25.5 276.9,24.8 277.3,25.4 277.8,25.7 278.2,26.0 278.4,24.9 278.6,25.4 279.1,24.8 279.5,25.1 279.9,25.5 280.4,24.7 280.8,25.2 281.2,25.2 281.7,25.4 282.1,25.0 282.5,25.2 282.9,25.8 283.4,25.3 283.8,25.3 284.2,25.8 284.7,24.5 285.1,25.8 285.5,25.0 286.0,25.5 286.4,24.7 286.8,25.0 287.3,25.2 287.7,25.7 288.1,25.0 288.5,25.1 289.0,25.5 289.4,24.8 289.8,24.9 290.3,24.4 290.5,25.4 290.7,25.2 291.1,24.7 291.6,25.0 292.0,25.5 292.4,24.5 292.6,25.5 292.9,25.4 293.1,24.4 293.3,25.1 293.7,25.1 294.2,24.3 294.6,24.7 295.0,24.4 295.4,24.4 295.9,24.8 296.3,24.8 296.7,25.1 297.2,25.0 297.6,24.4 298.0,24.6 298.5,24.9 298.9,24.3 299.3,24.3 299.8,24.5 300.2,24.9 300.6,25.1 301.0,25.0 301.5,24.2 301.9,24.5 302.3,24.5 302.8,24.8 303.2,25.0 303.6,24.9 304.1,24.0 304.5,24.9 304.9,24.1 305.4,24.2 305.8,24.3 306.2,24.9 306.6,24.8 307.1,24.1 307.5,23.9 307.9,24.1 308.4,24.1 308.8,24.3 309.2,24.0 309.7,23.9 310.1,24.6 310.5,23.8 311.0,24.5 311.4,23.9 311.8,23.9 312.3,24.2 312.7,24.2 313.1,24.3 313.5,23.7 314.0,24.5 314.4,24.3 314.8,23.8 315.3,24.3 315.7,24.3 316.1,23.9 316.6,24.5 317.0,23.8 317.4,23.6 317.9,24.4 318.3,24.1 318.7,23.9 319.1,23.8 319.6,23.9 320.0,24.2 320.4,24.3 320.9,23.5 321.3,24.2 321.7,24.2 322.2,23.6 322.6,23.4 323.0,24.0 323.5,24.2 323.9,24.0 324.3,24.2 324.7,24.1 325.2,23.5 325.6,23.4 326.0,24.1 326.5,23.3 326.9,23.2 327.3,23.8 327.8,24.0 328.2,23.3 328.6,23.9 329.1,23.6 329.5,23.6 329.9,23.6 330.4,23.4 330.8,23.5 331.2,23.3 331.6,23.7 332.1,23.8 332.5,23.1 332.9,23.1 333.4,23.3 333.8,23.7 334.2,23.6 334.7,23.8 335.1,23.1 335.5,23.1 336.0,23.7 336.4,23.8 336.8,22.9 337.2,23.8 337.7,23.4 338.1,23.4 338.5,23.5 339.0,22.9 339.4,22.9 339.8,23.0 340.3,23.1 340.7,23.1 341.1,23.0 341.6,23.2 342.0,22.9 342.4,23.0 342.8,23.6 343.3,22.8 343.7,23.2 344.1,23.1 344.6,23.4 345.0,23.6 345.4,23.0 345.9,23.0 346.3,23.2 346.7,23.7 347.2,23.6 347.6,23.2 348.0,23.5 348.5,23.2 348.9,23.4 349.3,22.8 349.7,23.6 350.2,23.5 350.6,23.6 351.0,22.8 351.5,23.0 351.9,23.5 352.3,22.9 352.8,23.5 353.2,23.1 353.6,23.1 354.1,23.4 354.5,22.7 354.9,22.8 355.3,23.3 355.8,23.5 356.2,22.8 356.6,23.5 357.1,23.4 357.5,23.5 357.9,23.4 358.4,23.3 358.8,23.5 359.2,22.8 359.7,22.7 360.1,22.6 360.5,22.9 360.9,23.0 361.4,22.6 361.8,22.7 362.2,22.9 362.7,22.5 363.1,22.9 363.5,22.7 364.0,22.5 364.4,23.1 364.8,22.7 365.3,23.2 365.7,22.8 366.1,22.5 366.6,23.1 367.0,22.7 367.4,23.2 367.8,23.2 368.3,23.2 368.7,23.2 369.1,22.6 369.6,23.2 370.0,22.7 370.4,23.1 370.9,22.6 371.3,23.2 371.7,23.3 372.2,22.7 372.6,22.7 373.0,23.1 373.4,22.8 373.9,23.3 374.3,23.0 374.7,23.1 375.2,22.4 375.6,22.7 376.0,22.6 376.5,23.0 376.9,22.9 377.3,22.7 377.8,22.8 378.2,22.6 378.6,22.4 379.0,22.8 379.5,23.0 379.9,22.4 380.3,22.6 380.8,22.8 381.2,22.3 381.6,22.4 382.1,22.8 382.5,22.7 382.9,22.4 383.4,22.6 383.8,23.1 384.2,22.6 384.7,22.3 385.1,22.5 385.5,22.2 385.9,22.3 386.4,22.7 386.8,22.8 387.2,22.4 387.7,22.6 388.1,22.8 388.5,23.0 389.0,22.5 389.4,22.7 389.8,22.8 390.3,22.5 390.7,22.6 391.1,22.9 391.5,22.7 392.0,23.0 392.4,22.8 392.8,22.8 393.3,22.8 393.7,22.3 394.1,22.3 394.6,22.4 395.0,22.7 395.4,22.8 395.9,22.2 396.3,22.7 396.7,22.9 397.2,22.9 397.6,22.7 398.0,22.8 398.4,22.8 398.9,22.6 399.3,22.2 399.7,22.5 400.2,22.1 400.6,22.7 401.0,22.5 401.5,22.9 401.9,22.6 402.3,22.1 402.8,22.8 403.2,22.8 403.6,22.7 404.0,22.7 404.5,22.3 404.9,22.4 405.3,22.4 405.8,22.4 406.2,22.1 406.6,22.3 407.1,22.2 407.5,22.2 407.9,21.9 408.4,22.1 408.8,22.7 409.2,22.0 409.6,22.6 410.1,22.5 410.5,22.3 410.9,21.9 411.4,22.1 411.8,22.4 412.2,21.9 412.7,22.6 413.1,22.1 413.5,22.3 414.0,22.1 414.4,22.6 414.8,22.6 415.3,22.4 415.7,22.3 416.1,21.9 416.5,22.7 417.0,22.6 417.4,22.6 417.8,22.6 418.3,22.0 418.7,21.8 419.1,22.4 419.6,22.5 420.0,22.6 420.4,22.0 420.9,22.0 421.3,22.4 421.7,21.9 422.1,22.4 422.6,22.2 423.0,22.0 423.4,21.9 423.9,21.8 424.3,21.8 424.7,22.4 425.2,22.0 425.6,21.8 426.0,22.2 426.5,22.2 426.9,22.4 427.3,21.7 427.7,21.9 428.2,22.5 428.6,22.3 429.0,21.6 429.5,21.6 429.9,21.8 430.3,22.2 430.8,22.3 431.2,22.3 431.6,22.0 432.1,21.7 432.5,22.3 432.9,22.3 433.4,21.6 433.8,22.2 434.2,22.0 434.6,22.0 435.1,21.9 435.5,22.3 435.9,22.3 436.4,21.9 436.8,22.3 437.2,21.6 437.7,22.1 438.1,22.3 438.5,22.2 439.0,22.2 439.4,22.3 439.8,21.5 440.2,22.3 440.7,21.6 441.1,21.5 441.5,21.8 442.0,21.7 442.4,21.8 442.8,22.0 443.3,22.1 443.7,22.2 444.1,22.1 444.6,22.3 445.0,21.9 445.4,21.6 445.8,21.6 446.3,21.9 446.7,22.3 447.1,22.1 447.6,22.0 448.0,21.7 448.4,22.0 448.9,21.8 449.3,22.2 449.7,21.6 450.2,21.6 450.6,22.1 451.0,22.3 451.5,21.7 451.9,21.7 452.3,21.9 452.7,21.8 453.2,21.8 453.6,22.2 454.0,22.0 454.5,21.8 454.9,21.5 455.3,21.5 455.8,21.5 456.2,21.6 456.6,21.9 457.1,22.0 457.5,21.8 457.9,21.6 458.3,21.5 458.8,22.2 459.2,21.4 459.6,21.8 460.1,21.7 460.5,21.7 460.9,21.4 461.4,21.5 461.8,21.8 462.2,21.9 462.7,21.5 463.1,22.2 463.5,21.7 463.9,22.1 464.4,21.5 464.8,21.9 465.2,22.0 465.7,21.7 466.1,22.1 466.5,22.1 467.0,22.1 467.4,21.5 467.8,21.8 468.3,21.5 468.7,21.5 469.1,22.1 469.6,22.2 470.0,21.8 470.4,21.5 470.8,21.8 471.3,22.0 471.7,21.9 472.1,21.8 472.6,22.0 473.0,21.8 473.4,21.4 473.9,21.8 474.3,22.1 474.7,21.5 475.2,22.0 475.6,22.0 476.0,22.1 476.4,21.7 476.9,21.8 477.3,21.8 477.7,22.1 478.2,21.6 478.6,21.9 479.0,21.5 479.5,21.7 479.9,21.4 480.3,22.0 480.8,21.6 481.2,22.1 481.6,21.8 482.0,21.6 482.5,21.9 482.9,21.6 483.3,21.8 483.8,21.4 484.2,22.1 484.6,21.5 485.1,21.3 485.5,22.1 485.9,21.6 486.4,21.5 486.8,21.6 487.2,21.5 487.7,21.9 488.1,21.7 488.5,21.8 488.9,21.9 489.4,22.0 489.8,21.3 490.2,21.6 490.7,21.6 491.1,21.7 491.5,21.5 492.0,21.5 492.4,21.5 492.8,21.3 493.3,21.5 493.7,21.5 494.1,22.0 494.5,21.3 495.0,21.7 495.4,22.0 495.8,21.6 496.3,21.7 496.7,21.9 497.1,21.8 497.6,22.0 498.0,21.4 498.4,21.4 498.9,21.8 499.3,21.5 499.7,21.8 500.1,21.6 500.6,21.4 501.0,21.4 501.4,21.4 501.9,21.6 502.3,21.5 502.7,21.3 503.2,21.6 503.6,21.7 504.0,21.9 504.5,21.5 504.9,21.8 505.3,21.6 505.8,21.3 506.2,21.5 506.6,21.4 507.0,21.8 507.5,21.7 507.9,21.4 508.3,21.6 508.8,21.5 509.2,21.8 509.6,21.8 510.1,21.4 510.5,21.6 510.9,21.5 511.4,21.5 511.8,22.0 512.2,21.8 512.6,21.5 513.1,21.6 513.5,21.8 513.9,21.5 514.4,21.8 514.8,21.7 515.2,21.7 515.7,21.6 516.1,21.6 516.5,21.5 517.0,21.3 517.4,21.2 517.8,21.5 518.2,21.3 518.7,21.7 519.1,21.8 519.5,21.8 520.0,21.4 520.4,21.6 520.8,21.8 521.3,21.4 521.7,21.2 522.1,21.8 522.6,21.6 523.0,21.7 523.4,21.9 523.9,21.4 524.3,21.4 524.7,21.5 525.1,21.6 525.6,21.7 526.0,21.2 526.4,21.4 526.9,21.4 527.3,21.4 527.7,21.6 528.2,21.4 528.6,21.7 529.0,21.2 529.5,21.5 529.9,21.6 530.3,21.6 530.7,21.4 531.2,21.6 531.6,21.8 532.0,21.9 532.5,21.5 532.9,21.4 533.3,21.3 533.8,21.2 534.2,21.3 534.6,21.5 535.1,21.3 535.5,21.2 535.9,21.7 536.4,21.8 536.8,21.8 537.2,21.7 537.6,21.8 538.1,21.6 538.5,21.3 538.9,21.7 539.4,21.7 539.8,21.7 540.2,21.7 540.7,21.4 541.1,21.6 541.5,21.7 542.0,21.3 542.4,21.3 542.8,21.3 543.2,21.1 543.7,21.2 544.1,21.4 544.5,21.5 545.0,21.7 545.4,21.7 545.8,21.2 546.3,21.1 546.7,21.7 547.1,21.3 547.6,21.2 548.0,21.3 548.4,21.2 548.8,21.7 549.3,21.6 549.7,21.8 550.1,21.4 550.6,21.7 551.0,21.5 551.4,21.7 551.9,21.4 552.3,21.3 552.7,21.5 553.2,21.8 553.6,21.3 554.0,21.7 554.5,21.2 554.9,21.4 555.3,21.2 555.7,21.4 556.2,21.2 556.6,21.4 557.0,21.6 557.5,21.1 557.9,21.3 558.3,21.3 558.8,21.5 559.2,21.7 559.6,21.4 560.1,21.5 560.5,21.5 560.9,21.5 561.3,21.3 561.8,21.4 562.2,21.1 562.6,21.0 563.1,21.1 563.5,21.1 563.9,21.2 564.4,21.6 564.8,21.6 565.2,21.1 565.7,21.5 566.1,21.2 566.5,21.0 566.9,21.5 567.4,21.3 567.8,21.4 568.2,21.1 568.7,21.4 569.1,21.1 569.5,21.1 570.0,21.2 570.4,21.0 570.8,21.7 571.3,21.5 571.7,21.3 572.1,21.2 572.6,21.5 573.0,21.3 573.4,21.5 573.8,21.2 574.3,21.5 574.7,21.7 575.1,21.6 575.6,21.2 576.0,21.2 576.4,21.3 576.9,21.3 577.3,21.5 577.7,21.3 578.2,21.5 578.6,21.5 579.0,21.6 579.4,21.4 579.9,21.5 580.3,21.4 580.7,21.5 581.2,21.1 581.6,21.5 582.0,21.2 582.5,21.1 582.9,21.6 583.3,21.5 583.8,21.5 584.2,21.1 584.6,21.6 585.0,21.1 585.5,21.1 585.9,21.5 586.3,21.3 586.8,21.1 587.2,21.6 587.6,21.5 588.1,21.3 588.5,21.1 588.9,21.3 589.4,21.1 589.8,21.3 590.2,20.9 590.7,21.5 591.1,21.3 591.5,21.3 591.9,21.2 592.4,21.0 592.8,21.2 593.2,21.0 593.7,21.5 594.1,21.3 594.5,21.2 595.0,21.3 595.4,21.2 595.8,21.5 596.3,21.3 596.7,21.0 597.1,21.1 597.5,21.0 598.0,21.5 598.4,21.3 598.8,21.2 599.3,21.3 599.7,21.4 600.1,21.4 600.6,21.4 601.0,21.1 601.4,21.0 601.9,21.2 602.3,21.3 602.7,21.5 603.1,21.5 603.6,21.2 604.0,21.3 604.4,20.9 604.9,21.4 605.3,21.1 605.7,21.4 606.2,21.3 606.6,21.0 607.0,21.5 607.5,21.5 607.9,21.3 608.3,21.2 608.8,21.1 609.2,21.3 609.6,21.3 610.0,21.5 610.5,20.9 610.9,21.2 611.3,21.3 611.8,21.1 612.2,21.5 612.6,21.2 613.1,20.9 613.5,21.2 613.9,21.3 614.4,21.4 614.8,21.1 615.2,21.2 615.6,20.9 616.1,20.9 616.5,21.2 616.9,21.0 617.4,21.2 617.8,20.9 618.2,21.1 618.7,21.4 619.1,21.0 619.5,21.2 620.0,21.0 620.4,21.2 620.8,21.1 621.2,21.3 621.7,21.4 622.1,21.0 622.5,21.4 623.0,21.0 623.4,20.9 623.8,21.2 624.3,20.8 624.7,21.1 625.1,21.0 625.6,21.1 626.0,21.2 626.4,21.2 626.9,21.1 627.3,21.0 627.7,21.1 628.1,20.9 628.6,21.1 629.0,21.2 629.4,20.9 629.9,21.1 630.3,20.9 630.7,20.9 631.2,20.8 631.6,21.1 632.0,21.3 632.5,20.9 632.9,21.3 633.3,20.9 633.7,21.4 634.2,21.4 634.6,20.9 635.0,20.9 635.5,20.8 635.9,20.9 636.3,21.2 636.8,20.8 637.2,21.3 637.6,20.9 638.1,21.1 638.5,21.3 638.9,21.3 639.3,21.2 639.8,21.1 640.2,21.2 640.6,21.1 641.1,20.8 641.5,20.8 641.9,21.2 642.4,21.0 642.8,20.9 643.2,21.3 643.7,21.1 644.1,21.4 644.5,21.0 645.0,21.1 645.4,21.2 645.8,21.3 646.2,21.0 646.7,20.8 647.1,20.9 647.5,20.9 648.0,21.2 648.4,21.3 648.8,21.3 649.3,20.8 649.7,21.3 650.1,21.2 650.6,21.3 651.0,21.0 651.4,21.0 651.8,20.9 652.3,21.2 652.7,20.8 653.1,21.1 653.6,21.2 654.0,20.9 654.4,20.9 654.9,20.8 655.3,21.0 655.7,21.2 656.2,21.2 656.6,21.0 657.0,21.0 657.5,21.1" fill="none" stroke="#ffc0cb" stroke-width="3.2" stroke-linejoin="round" stroke-linecap="round"/>
<path d="M118.8,203.5h0M119.2,202.1h0M119.4,201.0h0M119.6,200.0h0M120.0,200.0h0M120.5,200.0h0M120.9,200.0h0M121.3,200.0h0M121.8,200.0h0M122.2,200.0h0M122.6,199.9h0M123.1,199.9h0M123.5,199.9h0M123.9,199.9h0M124.4,199.9h0M124.8,199.9h0M125.2,199.9h0M125.6,199.9h0M126.1,199.9h0M126.5,199.9h0M126.9,199.9h0M127.4,199.9h0M127.8,199.9h0M128.2,199.8h0M128.7,199.8h0M129.1,199.8h0M129.5,199.8h0M130.0,199.8h0M130.4,199.8h0M130.8,199.8h0M131.2,199.8h0M131.7,199.8h0M132.1,199.8h0M132.5,199.8h0M133.0,199.8h0M133.4,199.7h0M133.8,199.7h0M134.3,199.7h0M134.7,199.7h0M135.1,199.7h0M135.6,199.7h0M136.0,199.7h0M136.4,199.7h0M136.9,199.7h0M137.3,199.7h0M137.7,199.7h0M138.1,199.7h0M138.6,199.7h0M139.0,199.6h0M139.4,199.6h0M139.9,199.6h0M140.3,199.6h0M140.7,199.6h0M141.2,199.6h0M141.6,199.6h0M141.8,185.6h0M142.0,173.6h0M142.2,161.1h0M142.5,148.6h0M142.7,136.0h0M142.9,124.2h0M143.1,111.4h0M143.3,99.7h0M143.5,90.3h0M143.7,80.8h0M144.0,72.8h0M144.2,65.8h0M144.4,59.9h0M144.6,54.9h0M144.8,50.9h0M145.0,47.9h0M145.3,45.4h0M145.5,43.5h0M145.7,42.0h0M145.9,41.0h0M146.3,39.8h0M146.8,40.1h0M147.2,39.7h0M147.4,41.7h0M147.6,40.9h0M147.8,42.2h0M148.1,39.9h0M148.3,41.2h0M148.5,41.4h0M148.7,39.7h0M148.9,41.8h0M149.3,41.4h0M149.8,42.2h0M150.2,43.3h0M150.6,43.6h0M151.1,42.8h0M151.3,41.5h0M151.5,42.3h0M151.7,40.9h0M151.9,42.5h0M152.4,42.4h0M152.8,41.0h0M153.0,43.6h0M153.2,40.9h0M153.4,42.4h0M153.7,41.6h0M154.1,42.5h0M154.5,41.2h0M154.7,43.7h0M155.0,41.8h0M155.2,44.1h0M155.4,43.0h0M155.8,41.4h0M156.0,43.9h0M156.2,41.6h0M156.5,43.7h0M156.7,43.0h0M157.1,41.6h0M157.3,42.7h0M157.5,41.4h0M157.8,43.9h0M158.0,43.7h0M158.2,41.9h0M158.4,43.1h0M158.6,42.1h0M158.8,43.8h0M159.0,42.2h0M159.3,42.2h0M159.7,44.8h0M160.1,43.0h0M160.3,44.3h0M160.6,42.9h0M161.0,44.7h0M161.2,42.0h0M161.4,44.4h0M161.6,43.4h0M161.8,37.9h0M162.3,34.8h0M162.5,32.1h0M162.7,33.4h0M163.1,33.2h0M163.6,33.2h0M163.8,32.0h0M164.0,32.8h0M164.4,34.0h0M164.9,34.3h0M165.3,34.8h0M165.5,33.7h0M165.7,32.9h0M166.2,34.2h0M166.6,32.4h0M166.8,33.5h0M167.0,34.9h0M167.2,33.8h0M167.4,32.9h0M167.7,34.4h0M167.9,33.1h0M168.1,31.9h0M168.3,32.1h0M168.5,34.9h0M168.7,32.1h0M169.0,34.3h0M169.2,31.9h0M169.4,33.2h0M169.6,32.7h0M170.0,32.1h0M170.5,34.2h0M170.9,32.2h0M171.1,34.3h0M171.3,34.6h0M171.5,33.2h0M171.8,32.9h0M172.0,31.8h0M172.2,32.0h0M172.6,32.1h0M172.8,34.8h0M173.1,33.8h0M173.3,32.7h0M173.5,33.6h0M173.7,32.2h0M173.9,34.6h0M174.1,33.3h0M174.3,33.9h0M174.6,32.3h0M174.8,33.2h0M175.2,32.9h0M175.4,31.9h0M175.6,33.2h0M175.9,34.3h0M176.1,33.1h0M176.3,34.8h0M176.5,33.4h0M176.7,34.4h0M176.9,31.7h0M177.1,33.6h0M177.4,33.2h0M177.8,34.5h0M178.0,31.9h0M178.2,33.1h0M178.7,34.6h0M179.1,32.2h0M179.5,31.6h0M179.9,34.5h0M180.4,34.1h0M180.6,32.8h0M180.8,33.1h0M181.2,34.1h0M181.5,31.5h0M181.7,31.6h0M182.1,30.1h0M182.3,32.1h0M182.5,28.6h0M182.7,31.6h0M183.0,29.2h0M183.4,29.8h0M183.8,31.6h0M184.0,30.0h0M184.3,31.3h0M184.7,31.6h0M184.9,29.6h0M185.1,30.0h0M185.3,28.5h0M185.5,29.7h0M186.0,28.8h0M186.2,31.1h0M186.4,29.3h0M186.8,28.8h0M187.3,30.8h0M187.7,30.0h0M188.1,31.4h0M188.4,29.6h0M188.6,29.9h0M189.0,31.3h0M189.4,31.2h0M189.6,28.9h0M189.9,31.3h0M190.3,29.4h0M190.5,30.9h0M190.7,31.3h0M191.2,30.7h0M191.6,31.1h0M192.0,28.5h0M192.4,28.6h0M192.7,29.7h0M192.9,28.5h0M193.1,30.0h0M193.3,31.2h0M193.7,28.3h0M194.0,30.4h0M194.2,28.7h0M194.4,31.0h0M194.6,28.3h0M195.0,29.2h0M195.2,28.2h0M195.5,30.3h0M195.7,28.8h0M195.9,30.5h0M196.3,29.7h0M196.8,31.3h0M197.0,29.2h0M197.2,31.0h0M197.6,28.2h0M198.0,30.4h0M198.3,28.3h0M198.5,30.9h0M198.9,30.5h0M199.3,30.0h0M199.8,29.6h0M200.2,30.3h0M200.6,29.1h0M201.1,29.4h0M201.5,30.4h0M201.9,30.6h0M202.4,29.2h0M202.8,30.7h0M203.0,28.6h0M203.2,30.2h0M203.6,30.1h0M204.1,30.1h0M204.3,28.7h0M204.5,28.0h0M204.7,30.9h0M204.9,30.7h0M205.2,29.5h0M205.4,30.0h0M205.6,28.2h0M205.8,29.3h0M206.2,30.0h0M206.5,28.5h0M206.7,28.1h0M206.9,30.8h0M207.1,30.4h0M207.3,28.4h0M207.5,30.3h0M208.0,28.3h0M208.2,30.2h0M208.4,28.9h0M208.8,28.2h0M209.0,29.5h0M209.3,29.6h0M209.7,28.0h0M209.9,30.1h0M210.1,28.6h0M210.5,29.6h0M210.8,28.2h0M211.0,30.3h0M211.4,29.9h0M211.6,28.6h0M211.8,28.8h0M212.3,28.3h0M212.7,29.8h0M213.1,29.9h0M213.3,27.8h0M213.6,28.3h0M214.0,30.1h0M214.2,27.7h0M214.4,29.0h0M214.9,28.0h0M215.1,30.2h0M215.3,30.2h0M215.5,28.1h0M215.7,27.8h0M215.9,29.2h0M216.1,28.8h0M216.6,29.1h0M217.0,29.5h0M217.2,28.2h0M217.4,29.4h0M217.9,30.0h0M218.1,28.6h0M218.3,27.3h0M218.5,29.8h0M218.7,28.0h0M218.9,29.5h0M219.2,28.9h0M219.6,29.2h0M220.0,29.5h0M220.5,28.1h0M220.9,27.9h0M221.3,28.4h0M221.7,27.9h0M222.2,27.9h0M222.6,28.6h0M222.8,27.3h0M223.0,27.7h0M223.5,28.9h0M223.7,27.7h0M223.9,27.2h0M224.1,29.2h0M224.3,28.1h0M224.8,27.8h0M225.2,28.4h0M225.4,27.1h0M225.6,29.5h0M225.8,27.2h0M226.1,29.3h0M226.5,28.8h0M226.7,27.4h0M226.9,29.2h0M227.4,27.9h0M227.8,27.2h0M228.0,29.0h0M228.2,29.3h0M228.4,27.8h0M228.6,28.6h0M229.1,28.0h0M229.5,28.1h0M229.9,28.6h0M230.4,27.9h0M230.8,29.1h0M231.0,26.8h0M231.2,28.4h0M231.7,27.5h0M231.9,29.0h0M232.1,26.7h0M232.5,27.4h0M233.0,28.0h0M233.4,28.6h0M233.6,26.5h0M233.8,27.9h0M234.2,28.1h0M234.7,27.3h0M235.1,27.2h0M235.5,27.2h0M236.0,27.9h0M236.4,28.4h0M236.6,27.2h0M236.8,27.4h0M237.3,28.5h0M237.7,28.6h0M237.9,26.3h0M238.1,28.5h0M238.3,26.7h0M238.6,28.4h0M238.8,26.3h0M239.0,28.2h0M239.4,27.8h0M239.8,27.1h0M240.3,26.5h0M240.5,27.6h0M240.7,26.9h0M241.1,26.5h0M241.6,26.5h0M242.0,28.1h0M242.4,27.7h0M242.7,26.3h0M242.9,27.6h0M243.3,28.2h0M243.7,27.3h0M244.2,26.2h0M244.4,27.7h0M244.6,27.5h0M245.0,26.7h0M245.5,26.2h0M245.7,27.4h0M245.9,26.6h0M246.1,27.9h0M246.3,26.1h0M246.5,27.6h0M246.7,26.9h0M247.2,26.4h0M247.6,26.6h0M248.0,26.2h0M248.3,27.8h0M248.5,26.6h0M248.9,27.2h0M249.3,27.7h0M249.5,26.3h0M249.8,26.1h0M250.2,26.2h0M250.6,26.9h0M251.1,25.7h0M251.3,27.6h0M251.5,27.1h0M251.9,27.5h0M252.3,25.9h0M252.6,27.1h0M252.8,27.5h0M253.0,25.6h0M253.2,26.5h0M253.6,27.3h0M253.9,25.7h0M254.1,27.1h0M254.3,25.9h0M254.5,26.7h0M254.9,26.9h0M255.1,25.5h0M255.4,26.4h0M255.8,25.6h0M256.2,25.6h0M256.4,27.2h0M256.7,26.4h0M257.1,26.3h0M257.5,25.7h0M258.0,26.6h0M258.4,27.1h0M258.8,26.8h0M259.2,26.6h0M259.7,26.8h0M259.9,25.6h0M260.1,27.0h0M260.3,25.2h0M260.5,26.6h0M261.0,26.7h0M261.4,26.7h0M261.8,26.3h0M262.3,25.3h0M262.5,26.8h0M262.7,26.0h0M263.1,26.3h0M263.6,26.0h0M264.0,25.9h0M264.4,25.1h0M264.6,26.1h0M264.8,26.3h0M265.3,25.2h0M265.5,26.4h0M265.7,26.3h0M266.1,25.2h0M266.4,26.5h0M266.6,26.3h0M267.0,26.4h0M267.4,26.0h0M267.9,25.6h0M268.3,26.1h0M268.7,25.7h0M269.2,26.0h0M269.6,25.6h0M270.0,26.0h0M270.4,25.2h0M270.9,25.6h0M271.3,25.9h0M271.7,26.2h0M272.2,25.0h0M272.4,26.1h0M272.6,24.9h0M272.8,26.3h0M273.0,25.9h0M273.5,25.9h0M273.9,25.8h0M274.3,24.8h0M274.5,26.3h0M274.8,25.3h0M275.2,26.2h0M275.6,25.4h0M276.1,24.8h0M276.5,25.5h0M276.9,24.8h0M277.3,25.4h0M277.8,25.7h0M278.2,26.0h0M278.4,24.9h0M278.6,25.4h0M279.1,24.8h0M279.5,25.1h0M279.9,25.5h0M280.4,24.7h0M280.8,25.2h0M281.2,25.2h0M281.7,25.4h0M282.1,25.0h0M282.5,25.2h0M282.9,25.8h0M283.4,25.3h0M283.8,25.3h0M284.2,25.8h0M284.7,24.5h0M285.1,25.8h0M285.5,25.0h0M286.0,25.5h0M286.4,24.7h0M286.8,25.0h0M287.3,25.2h0M287.7,25.7h0M288.1,25.0h0M288.5,25.1h0M289.0,25.5h0M289.4,24.8h0M289.8,24.9h0M290.3,24.4h0M290.5,25.4h0M290.7,25.2h0M291.1,24.7h0M291.6,25.0h0M292.0,25.5h0M292.4,24.5h0M292.6,25.5h0M292.9,25.4h0M293.1,24.4h0M293.3,25.1h0M293.7,25.1h0M294.2,24.3h0M294.6,24.7h0M295.0,24.4h0M295.4,24.4h0M295.9,24.8h0M296.3,24.8h0M296.7,25.1h0M297.2,25.0h0M297.6,24.4h0M298.0,24.6h0M298.5,24.9h0M298.9,24.3h0M299.3,24.3h0M299.8,24.5h0M300.2,24.9h0M300.6,25.1h0M301.0,25.0h0M301.5,24.2h0M301.9,24.5h0M302.3,24.5h0M302.8,24.8h0M303.2,25.0h0M303.6,24.9h0M304.1,24.0h0M304.5,24.9h0M304.9,24.1h0M305.4,24.2h0M305.8,24.3h0M306.2,24.9h0M306.6,24.8h0M307.1,24.1h0M307.5,23.9h0M307.9,24.1h0M308.4,24.1h0M308.8,24.3h0M309.2,24.0h0M309.7,23.9h0M310.1,24.6h0M310.5,23.8h0M311.0,24.5h0M311.4,23.9h0M311.8,23.9h0M312.3,24.2h0M312.7,24.2h0M313.1,24.3h0M313.5,23.7h0M314.0,24.5h0M314.4,24.3h0M314.8,23.8h0M315.3,24.3h0M315.7,24.3h0M316.1,23.9h0M316.6,24.5h0M317.0,23.8h0M317.4,23.6h0M317.9,24.4h0M318.3,24.1h0M318.7,23.9h0M319.1,23.8h0M319.6,23.9h0M320.0,24.2h0M320.4,24.3h0M320.9,23.5h0M321.3,24.2h0M321.7,24.2h0M322.2,23.6h0M322.6,23.4h0M323.0,24.0h0M323.5,24.2h0M323.9,24.0h0M324.3,24.2h0M324.7,24.1h0M325.2,23.5h0M325.6,23.4h0M326.0,24.1h0M326.5,23.3h0M326.9,23.2h0M327.3,23.8h0M327.8,24.0h0M328.2,23.3h0M328.6,23.9h0M329.1,23.6h0M329.5,23.6h0M329.9,23.6h0M330.4,23.4h0M330.8,23.5h0M331.2,23.3h0M331.6,23.7h0M332.1,23.8h0M332.5,23.1h0M332.9,23.1h0M333.4,23.3h0M333.8,23.7h0M334.2,23.6h0M334.7,23.8h0M335.1,23.1h0M335.5,23.1h0M336.0,23.7h0M336.4,23.8h0M336.8,22.9h0M337.2,23.8h0M337.7,23.4h0M338.1,23.4h0M338.5,23.5h0M339.0,22.9h0M339.4,22.9h0M339.8,23.0h0M340.3,23.1h0M340.7,23.1h0M341.1,23.0h0M341.6,23.2h0M342.0,22.9h0M342.4,23.0h0M342.8,23.6h0M343.3,22.8h0M343.7,23.2h0M344.1,23.1h0M344.6,23.4h0M345.0,23.6h0M345.4,23.0h0M345.9,23.0h0M346.3,23.2h0M346.7,23.7h0M347.2,23.6h0M347.6,23.2h0M348.0,23.5h0M348.5,23.2h0M348.9,23.4h0M349.3,22.8h0M349.7,23.6h0M350.2,23.5h0M350.6,23.6h0M351.0,22.8h0M351.5,23.0h0M351.9,23.5h0M352.3,22.9h0M352.8,23.5h0M353.2,23.1h0M353.6,23.1h0M354.1,23.4h0M354.5,22.7h0M354.9,22.8h0M355.3,23.3h0M355.8,23.5h0M356.2,22.8h0M356.6,23.5h0M357.1,23.4h0M357.5,23.5h0M357.9,23.4h0M358.4,23.3h0M358.8,23.5h0M359.2,22.8h0M359.7,22.7h0M360.1,22.6h0M360.5,22.9h0M360.9,23.0h0M361.4,22.6h0M361.8,22.7h0M362.2,22.9h0M362.7,22.5h0M363.1,22.9h0M363.5,22.7h0M364.0,22.5h0M364.4,23.1h0M364.8,22.7h0M365.3,23.2h0M365.7,22.8h0M366.1,22.5h0M366.6,23.1h0M367.0,22.7h0M367.4,23.2h0M367.8,23.2h0M368.3,23.2h0M368.7,23.2h0M369.1,22.6h0M369.6,23.2h0M370.0,22.7h0M370.4,23.1h0M370.9,22.6h0M371.3,23.2h0M371.7,23.3h0M372.2,22.7h0M372.6,22.7h0M373.0,23.1h0M373.4,22.8h0M373.9,23.3h0M374.3,23.0h0M374.7,23.1h0M375.2,22.4h0M375.6,22.7h0M376.0,22.6h0M376.5,23.0h0M376.9,22.9h0M377.3,22.7h0M377.8,22.8h0M378.2,22.6h0M378.6,22.4h0M379.0,22.8h0M379.5,23.0h0M379.9,22.4h0M380.3,22.6h0M380.8,22.8h0M381.2,22.3h0M381.6,22.4h0M382.1,22.8h0M382.5,22.7h0M382.9,22.4h0M383.4,22.6h0M383.8,23.1h0M384.2,22.6h0M384.7,22.3h0M385.1,22.5h0M385.5,22.2h0M385.9,22.3h0M386.4,22.7h0M386.8,22.8h0M387.2,22.4h0M387.7,22.6h0M388.1,22.8h0M388.5,23.0h0M389.0,22.5h0M389.4,22.7h0M389.8,22.8h0M390.3,22.5h0M390.7,22.6h0M391.1,22.9h0M391.5,22.7h0M392.0,23.0h0M392.4,22.8h0M392.8,22.8h0M393.3,22.8h0M393.7,22.3h0M394.1,22.3h0M394.6,22.4h0M395.0,22.7h0M395.4,22.8h0M395.9,22.2h0M396.3,22.7h0M396.7,22.9h0M397.2,22.9h0M397.6,22.7h0M398.0,22.8h0M398.4,22.8h0M398.9,22.6h0M399.3,22.2h0M399.7,22.5h0M400.2,22.1h0M400.6,22.7h0M401.0,22.5h0M401.5,22.9h0M401.9,22.6h0M402.3,22.1h0M402.8,22.8h0M403.2,22.8h0M403.6,22.7h0M404.0,22.7h0M404.5,22.3h0M404.9,22.4h0M405.3,22.4h0M405.8,22.4h0M406.2,22.1h0M406.6,22.3h0M407.1,22.2h0M407.5,22.2h0M407.9,21.9h0M408.4,22.1h0M408.8,22.7h0M409.2,22.0h0M409.6,22.6h0M410.1,22.5h0M410.5,22.3h0M410.9,21.9h0M411.4,22.1h0M411.8,22.4h0M412.2,21.9h0M412.7,22.6h0M413.1,22.1h0M413.5,22.3h0M414.0,22.1h0M414.4,22.6h0M414.8,22.6h0M415.3,22.4h0M415.7,22.3h0M416.1,21.9h0M416.5,22.7h0M417.0,22.6h0M417.4,22.6h0M417.8,22.6h0M418.3,22.0h0M418.7,21.8h0M419.1,22.4h0M419.6,22.5h0M420.0,22.6h0M420.4,22.0h0M420.9,22.0h0M421.3,22.4h0M421.7,21.9h0M422.1,22.4h0M422.6,22.2h0M423.0,22.0h0M423.4,21.9h0M423.9,21.8h0M424.3,21.8h0M424.7,22.4h0M425.2,22.0h0M425.6,21.8h0M426.0,22.2h0M426.5,22.2h0M426.9,22.4h0M427.3,21.7h0M427.7,21.9h0M428.2,22.5h0M428.6,22.3h0M429.0,21.6h0M429.5,21.6h0M429.9,21.8h0M430.3,22.2h0M430.8,22.3h0M431.2,22.3h0M431.6,22.0h0M432.1,21.7h0M432.5,22.3h0M432.9,22.3h0M433.4,21.6h0M433.8,22.2h0M434.2,22.0h0M434.6,22.0h0M435.1,21.9h0M435.5,22.3h0M435.9,22.3h0M436.4,21.9h0M436.8,22.3h0M437.2,21.6h0M437.7,22.1h0M438.1,22.3h0M438.5,22.2h0M439.0,22.2h0M439.4,22.3h0M439.8,21.5h0M440.2,22.3h0M440.7,21.6h0M441.1,21.5h0M441.5,21.8h0M442.0,21.7h0M442.4,21.8h0M442.8,22.0h0M443.3,22.1h0M443.7,22.2h0M444.1,22.1h0M444.6,22.3h0M445.0,21.9h0M445.4,21.6h0M445.8,21.6h0M446.3,21.9h0M446.7,22.3h0M447.1,22.1h0M447.6,22.0h0M448.0,21.7h0M448.4,22.0h0M448.9,21.8h0M449.3,22.2h0M449.7,21.6h0M450.2,21.6h0M450.6,22.1h0M451.0,22.3h0M451.5,21.7h0M451.9,21.7h0M452.3,21.9h0M452.7,21.8h0M453.2,21.8h0M453.6,22.2h0M454.0,22.0h0M454.5,21.8h0M454.9,21.5h0M455.3,21.5h0M455.8,21.5h0M456.2,21.6h0M456.6,21.9h0M457.1,22.0h0M457.5,21.8h0M457.9,21.6h0M458.3,21.5h0M458.8,22.2h0M459.2,21.4h0M459.6,21.8h0M460.1,21.7h0M460.5,21.7h0M460.9,21.4h0M461.4,21.5h0M461.8,21.8h0M462.2,21.9h0M462.7,21.5h0M463.1,22.2h0M463.5,21.7h0M463.9,22.1h0M464.4,21.5h0M464.8,21.9h0M465.2,22.0h0M465.7,21.7h0M466.1,22.1h0M466.5,22.1h0M467.0,22.1h0M467.4,21.5h0M467.8,21.8h0M468.3,21.5h0M468.7,21.5h0M469.1,22.1h0M469.6,22.2h0M470.0,21.8h0M470.4,21.5h0M470.8,21.8h0M471.3,22.0h0M471.7,21.9h0M472.1,21.8h0M472.6,22.0h0M473.0,21.8h0M473.4,21.4h0M473.9,21.8h0M474.3,22.1h0M474.7,21.5h0M475.2,22.0h0M475.6,22.0h0M476.0,22.1h0M476.4,21.7h0M476.9,21.8h0M477.3,21.8h0M477.7,22.1h0M478.2,21.6h0M478.6,21.9h0M479.0,21.5h0M479.5,21.7h0M479.9,21.4h0M480.3,22.0h0M480.8,21.6h0M481.2,22.1h0M481.6,21.8h0M482.0,21.6h0M482.5,21.9h0M482.9,21.6h0M483.3,21.8h0M483.8,21.4h0M484.2,22.1h0M484.6,21.5h0M485.1,21.3h0M485.5,22.1h0M485.9,21.6h0M486.4,21.5h0M486.8,21.6h0M487.2,21.5h0M487.7,21.9h0M488.1,21.7h0M488.5,21.8h0M488.9,21.9h0M489.4,22.0h0M489.8,21.3h0M490.2,21.6h0M490.7,21.6h0M491.1,21.7h0M491.5,21.5h0M492.0,21.5h0M492.4,21.5h0M492.8,21.3h0M493.3,21.5h0M493.7,21.5h0M494.1,22.0h0M494.5,21.3h0M495.0,21.7h0M495.4,22.0h0M495.8,21.6h0M496.3,21.7h0M496.7,21.9h0M497.1,21.8h0M497.6,22.0h0M498.0,21.4h0M498.4,21.4h0M498.9,21.8h0M499.3,21.5h0M499.7,21.8h0M500.1,21.6h0M500.6,21.4h0M501.0,21.4h0M501.4,21.4h0M501.9,21.6h0M502.3,21.5h0M502.7,21.3h0M503.2,21.6h0M503.6,21.7h0M504.0,21.9h0M504.5,21.5h0M504.9,21.8h0M505.3,21.6h0M505.8,21.3h0M506.2,21.5h0M506.6,21.4h0M507.0,21.8h0M507.5,21.7h0M507.9,21.4h0M508.3,21.6h0M508.8,21.5h0M509.2,21.8h0M509.6,21.8h0M510.1,21.4h0M510.5,21.6h0M510.9,21.5h0M511.4,21.5h0M511.8,22.0h0M512.2,21.8h0M512.6,21.5h0M513.1,21.6h0M513.5,21.8h0M513.9,21.5h0M514.4,21.8h0M514.8,21.7h0M515.2,21.7h0M515.7,21.6h0M516.1,21.6h0M516.5,21.5h0M517.0,21.3h0M517.4,21.2h0M517.8,21.5h0M518.2,21.3h0M518.7,21.7h0M519.1,21.8h0M519.5,21.8h0M520.0,21.4h0M520.4,21.6h0M520.8,21.8h0M521.3,21.4h0M521.7,21.2h0M522.1,21.8h0M522.6,21.6h0M523.0,21.7h0M523.4,21.9h0M523.9,21.4h0M524.3,21.4h0M524.7,21.5h0M525.1,21.6h0M525.6,21.7h0M526.0,21.2h0M526.4,21.4h0M526.9,21.4h0M527.3,21.4h0M527.7,21.6h0M528.2,21.4h0M528.6,21.7h0M529.0,21.2h0M529.5,21.5h0M529.9,21.6h0M530.3,21.6h0M530.7,21.4h0M531.2,21.6h0M531.6,21.8h0M532.0,21.9h0M532.5,21.5h0M532.9,21.4h0M533.3,21.3h0M533.8,21.2h0M534.2,21.3h0M534.6,21.5h0M535.1,21.3h0M535.5,21.2h0M535.9,21.7h0M536.4,21.8h0M536.8,21.8h0M537.2,21.7h0M537.6,21.8h0M538.1,21.6h0M538.5,21.3h0M538.9,21.7h0M539.4,21.7h0M539.8,21.7h0M540.2,21.7h0M540.7,21.4h0M541.1,21.6h0M541.5,21.7h0M542.0,21.3h0M542.4,21.3h0M542.8,21.3h0M543.2,21.1h0M543.7,21.2h0M544.1,21.4h0M544.5,21.5h0M545.0,21.7h0M545.4,21.7h0M545.8,21.2h0M546.3,21.1h0M546.7,21.7h0M547.1,21.3h0M547.6,21.2h0M548.0,21.3h0M548.4,21.2h0M548.8,21.7h0M549.3,21.6h0M549.7,21.8h0M550.1,21.4h0M550.6,21.7h0M551.0,21.5h0M551.4,21.7h0M551.9,21.4h0M552.3,21.3h0M552.7,21.5h0M553.2,21.8h0M553.6,21.3h0M554.0,21.7h0M554.5,21.2h0M554.9,21.4h0M555.3,21.2h0M555.7,21.4h0M556.2,21.2h0M556.6,21.4h0M557.0,21.6h0M557.5,21.1h0M557.9,21.3h0M558.3,21.3h0M558.8,21.5h0M559.2,21.7h0M559.6,21.4h0M560.1,21.5h0M560.5,21.5h0M560.9,21.5h0M561.3,21.3h0M561.8,21.4h0M562.2,21.1h0M562.6,21.0h0M563.1,21.1h0M563.5,21.1h0M563.9,21.2h0M564.4,21.6h0M564.8,21.6h0M565.2,21.1h0M565.7,21.5h0M566.1,21.2h0M566.5,21.0h0M566.9,21.5h0M567.4,21.3h0M567.8,21.4h0M568.2,21.1h0M568.7,21.4h0M569.1,21.1h0M569.5,21.1h0M570.0,21.2h0M570.4,21.0h0M570.8,21.7h0M571.3,21.5h0M571.7,21.3h0M572.1,21.2h0M572.6,21.5h0M573.0,21.3h0M573.4,21.5h0M573.8,21.2h0M574.3,21.5h0M574.7,21.7h0M575.1,21.6h0M575.6,21.2h0M576.0,21.2h0M576.4,21.3h0M576.9,21.3h0M577.3,21.5h0M577.7,21.3h0M578.2,21.5h0M578.6,21.5h0M579.0,21.6h0M579.4,21.4h0M579.9,21.5h0M580.3,21.4h0M580.7,21.5h0M581.2,21.1h0M581.6,21.5h0M582.0,21.2h0M582.5,21.1h0M582.9,21.6h0M583.3,21.5h0M583.8,21.5h0M584.2,21.1h0M584.6,21.6h0M585.0,21.1h0M585.5,21.1h0M585.9,21.5h0M586.3,21.3h0M586.8,21.1h0M587.2,21.6h0M587.6,21.5h0M588.1,21.3h0M588.5,21.1h0M588.9,21.3h0M589.4,21.1h0M589.8,21.3h0M590.2,20.9h0M590.7,21.5h0M591.1,21.3h0M591.5,21.3h0M591.9,21.2h0M592.4,21.0h0M592.8,21.2h0M593.2,21.0h0M593.7,21.5h0M594.1,21.3h0M594.5,21.2h0M595.0,21.3h0M595.4,21.2h0M595.8,21.5h0M596.3,21.3h0M596.7,21.0h0M597.1,21.1h0M597.5,21.0h0M598.0,21.5h0M598.4,21.3h0M598.8,21.2h0M599.3,21.3h0M599.7,21.4h0M600.1,21.4h0M600.6,21.4h0M601.0,21.1h0M601.4,21.0h0M601.9,21.2h0M602.3,21.3h0M602.7,21.5h0M603.1,21.5h0M603.6,21.2h0M604.0,21.3h0M604.4,20.9h0M604.9,21.4h0M605.3,21.1h0M605.7,21.4h0M606.2,21.3h0M606.6,21.0h0M607.0,21.5h0M607.5,21.5h0M607.9,21.3h0M608.3,21.2h0M608.8,21.1h0M609.2,21.3h0M609.6,21.3h0M610.0,21.5h0M610.5,20.9h0M610.9,21.2h0M611.3,21.3h0M611.8,21.1h0M612.2,21.5h0M612.6,21.2h0M613.1,20.9h0M613.5,21.2h0M613.9,21.3h0M614.4,21.4h0M614.8,21.1h0M615.2,21.2h0M615.6,20.9h0M616.1,20.9h0M616.5,21.2h0M616.9,21.0h0M617.4,21.2h0M617.8,20.9h0M618.2,21.1h0M618.7,21.4h0M619.1,21.0h0M619.5,21.2h0M620.0,21.0h0M620.4,21.2h0M620.8,21.1h0M621.2,21.3h0M621.7,21.4h0M622.1,21.0h0M622.5,21.4h0M623.0,21.0h0M623.4,20.9h0M623.8,21.2h0M624.3,20.8h0M624.7,21.1h0M625.1,21.0h0M625.6,21.1h0M626.0,21.2h0M626.4,21.2h0M626.9,21.1h0M627.3,21.0h0M627.7,21.1h0M628.1,20.9h0M628.6,21.1h0M629.0,21.2h0M629.4,20.9h0M629.9,21.1h0M630.3,20.9h0M630.7,20.9h0M631.2,20.8h0M631.6,21.1h0M632.0,21.3h0M632.5,20.9h0M632.9,21.3h0M633.3,20.9h0M633.7,21.4h0M634.2,21.4h0M634.6,20.9h0M635.0,20.9h0M635.5,20.8h0M635.9,20.9h0M636.3,21.2h0M636.8,20.8h0M637.2,21.3h0M637.6,20.9h0M638.1,21.1h0M638.5,21.3h0M638.9,21.3h0M639.3,21.2h0M639.8,21.1h0M640.2,21.2h0M640.6,21.1h0M641.1,20.8h0M641.5,20.8h0M641.9,21.2h0M642.4,21.0h0M642.8,20.9h0M643.2,21.3h0M643.7,21.1h0M644.1,21.4h0M644.5,21.0h0M645.0,21.1h0M645.4,21.2h0M645.8,21.3h0M646.2,21.0h0M646.7,20.8h0M647.1,20.9h0M647.5,20.9h0M648.0,21.2h0M648.4,21.3h0M648.8,21.3h0M649.3,20.8h0M649.7,21.3h0M650.1,21.2h0M650.6,21.3h0M651.0,21.0h0M651.4,21.0h0M651.8,20.9h0M652.3,21.2h0M652.7,20.8h0M653.1,21.1h0M653.6,21.2h0M654.0,20.9h0M654.4,20.9h0M654.9,20.8h0M655.3,21.0h0M655.7,21.2h0M656.2,21.2h0M656.6,21.0h0M657.0,21.0h0M657.5,21.1h0" fill="none" stroke="#ffc0cb" stroke-width="11.7" stroke-linecap="round"/>

<path d="M118.8,201.5 119.0,197.0 119.2,192.5 119.4,187.9 119.6,183.2 119.8,178.6 120.0,176.3 120.3,175.2 120.5,174.1 120.7,173.1 120.9,172.0 121.1,170.9 121.3,169.9 121.6,169.5 121.8,169.0 122.0,168.5 122.2,168.1 122.4,167.6 122.6,167.2 122.8,166.7 123.1,166.2 123.3,165.8 123.5,165.4 123.7,165.1 123.9,164.7 124.1,164.4 124.4,164.1 124.6,163.8 124.8,163.5 125.0,163.2 125.2,162.9 125.4,162.6 125.6,162.2 125.9,161.9 126.1,161.6 126.3,161.3 126.5,161.0 126.7,160.9 126.9,160.7 127.2,160.6 127.4,160.4 127.6,160.3 127.8,160.2 128.0,160.0 128.2,159.9 128.4,159.8 128.7,159.6 128.9,159.5 129.1,159.3 129.3,159.2 129.5,159.1 129.7,158.9 130.0,158.8 130.2,158.6 130.4,158.5 130.6,158.4 130.8,158.4 131.0,158.3 131.2,158.2 131.5,158.2 131.7,158.1 131.9,158.0 132.1,158.0 132.3,157.9 132.5,157.8 132.8,157.8 133.0,157.7 133.2,157.6 133.4,157.5 133.6,157.5 133.8,157.4 134.0,157.3 134.3,157.3 134.5,157.2 134.7,157.2 134.9,157.2 135.1,157.1 135.3,157.1 135.6,157.1 135.8,157.1 136.0,157.1 136.2,157.0 136.4,157.0 136.6,157.0 136.9,157.0 137.1,156.9 137.3,156.9 137.5,156.9 137.7,156.9 137.9,156.9 138.1,156.8 138.4,156.8 138.6,156.8 138.8,157.0 139.0,157.2 139.2,157.5 139.4,157.7 139.7,158.0 139.9,158.2 140.1,158.4 140.3,158.7 140.5,158.9 140.7,159.3 140.9,159.9 141.2,160.5 141.4,161.0 141.6,161.6 141.8,162.2 142.0,162.7 142.2,163.3 142.5,163.9 142.7,164.6 142.9,165.4 143.1,166.2 143.3,167.1 143.5,167.9 143.7,168.7 144.0,169.5 144.2,170.7 144.4,172.5 144.6,174.4 144.8,176.2 145.0,178.0 145.3,179.9 145.5,181.7 145.7,184.5 145.9,187.5 146.1,190.4 146.3,193.3 146.5,196.3 146.8,198.0 147.0,199.3 147.2,200.6 147.4,201.9 147.6,203.3 147.8,204.6 148.1,205.9 148.3,207.2 148.5,208.3 148.7,209.1 148.9,209.9 149.1,210.6 149.3,211.4 149.6,212.2 149.8,213.0 150.0,213.7 150.2,214.5 150.4,215.3 150.6,216.1 150.9,216.9 151.1,217.4 151.3,218.0 151.5,218.6 151.7,219.1 151.9,219.7 152.1,220.2 152.4,220.7 152.6,221.3 152.8,221.8 153.0,222.3 153.2,222.9 153.4,223.6 153.7,224.0 153.9,224.4 154.1,224.9 154.3,225.4 154.5,225.9 154.7,226.3 155.0,226.7 155.2,227.4 155.4,227.7 155.6,228.2 155.8,228.7 156.0,229.1 156.2,229.5 156.5,230.1 156.7,230.6 156.9,231.1 157.1,231.6 157.3,231.8 157.5,232.6 157.8,233.0 158.0,233.4 158.2,233.6 158.4,234.1 158.6,234.2 158.8,234.5 159.0,234.9 159.3,235.3 159.5,235.7 159.7,236.0 159.9,236.5 160.1,236.6 160.3,237.2 160.6,237.4 160.8,238.0 161.0,238.0 161.2,238.5 161.4,239.2 161.6,239.4 161.8,239.8 162.1,240.1 162.3,240.5 162.5,240.6 162.7,241.2 162.9,241.2 163.1,242.0 163.4,242.8 163.6,244.4 163.8,245.7 164.0,247.6 164.2,249.3 164.4,250.8 164.6,252.9 164.9,255.3 165.1,258.7 165.3,262.7 165.5,266.4 165.7,267.9 165.9,268.9 166.2,269.6 166.4,269.7 166.6,270.5 166.8,271.2 167.0,271.7 167.2,271.9 167.4,272.9 167.7,273.5 167.9,274.2 168.1,274.8 168.3,275.0 168.5,275.9 168.7,276.6 169.0,277.2 169.2,277.1 169.4,277.4 169.6,278.3 169.8,278.4 170.0,279.1 170.2,279.9 170.5,279.8 170.7,280.1 170.9,280.7 171.1,281.3 171.3,281.2 171.5,281.9 171.8,282.1 172.0,283.0 172.2,283.6 172.4,283.6 172.6,284.0 172.8,284.6 173.1,284.7 173.3,285.2 173.5,285.7 173.7,286.3 173.9,286.3 174.1,287.3 174.3,287.4 174.6,287.5 174.8,287.6 175.0,288.6 175.2,288.3 175.4,288.6 175.6,288.9 175.9,289.2 176.1,290.5 176.3,290.1 176.5,290.5 176.7,291.4 176.9,291.5 177.1,291.3 177.4,291.9 177.6,292.8 177.8,292.5 178.0,293.3 178.2,292.8 178.4,293.9 178.7,294.3 178.9,294.7 179.1,294.8 179.3,294.7 179.5,294.7 179.7,295.6 179.9,296.2 180.2,295.8 180.4,296.2 180.6,296.8 180.8,297.4 181.0,297.9 181.2,297.2 181.5,297.6 181.7,298.8 181.9,298.9 182.1,299.3 182.3,300.0 182.5,300.2 182.7,300.4 183.0,300.6 183.2,300.4 183.4,301.5 183.6,301.7 183.8,303.3 184.0,304.1 184.3,304.9 184.5,305.3 184.7,306.0 184.9,306.9 185.1,307.1 185.3,309.1 185.5,309.5 185.8,310.0 186.0,310.9 186.2,311.8 186.4,312.0 186.6,313.3 186.8,314.1 187.1,313.9 187.3,314.2 187.5,315.8 187.7,316.9 187.9,316.2 188.1,317.7 188.4,318.6 188.6,319.4 188.8,318.7 189.0,319.3 189.2,321.3 189.4,320.4 189.6,321.0 189.9,322.1 190.1,322.4 190.3,323.5 190.5,323.0 190.7,324.8 190.9,324.1 191.2,325.5 191.4,324.8 191.6,326.0 191.8,325.8 192.0,326.8 192.2,327.3 192.4,328.5 192.7,328.5 192.9,328.1 193.1,330.1 193.3,330.1 193.5,330.4 193.7,329.5 194.0,330.0 194.2,329.9 194.4,330.0 194.6,330.1 194.8,331.2 195.0,330.8 195.2,331.1 195.5,332.7 195.7,332.2 195.9,331.9 196.1,333.1 196.3,332.5 196.5,333.3 196.8,333.1 197.0,333.8 197.2,334.3 197.4,334.4 197.6,334.3 197.8,335.4 198.0,335.8 198.3,334.7 198.5,334.8 198.7,335.0 198.9,337.1 199.1,337.3 199.3,336.1 199.6,337.9 199.8,336.5 200.0,337.4 200.2,337.6 200.4,338.8 200.6,337.2 200.8,338.0 201.1,338.9 201.3,338.0 201.5,338.6 201.7,339.4 201.9,340.6 202.1,340.6 202.4,341.0 202.6,341.1 202.8,341.2 203.0,341.8 203.2,341.7 203.4,342.1 203.6,341.3 203.9,341.3 204.1,342.9 204.3,341.8 204.5,343.9 204.7,343.8 204.9,343.7 205.2,345.7 205.4,344.4 205.6,345.8 205.8,345.4 206.0,348.0 206.2,347.6 206.5,348.7 206.7,348.0 206.9,349.8 207.1,350.2 207.3,350.6 207.5,351.9 207.7,351.2 208.0,351.7 208.2,352.8 208.4,353.6 208.6,352.8 208.8,354.1 209.0,353.4 209.3,354.7 209.5,355.7 209.7,354.4 209.9,356.5 210.1,355.1 210.3,358.0 210.5,357.2 210.8,357.5 211.0,358.7 211.2,358.6 211.4,359.6 211.6,358.4 211.8,360.1 212.1,360.5 212.3,361.9 212.5,360.0 212.7,361.5 212.9,362.2 213.1,362.2 213.3,361.1 213.6,362.7 213.8,361.9 214.0,362.1 214.2,364.2 214.4,362.5 214.6,363.4 214.9,364.5 215.1,364.6 215.3,364.4 215.5,365.3 215.7,364.6 215.9,365.2 216.1,366.0 216.4,365.8 216.6,365.9 216.8,365.5 217.0,366.1 217.2,365.9 217.4,367.1 217.7,366.3 217.9,366.8 218.1,367.8 218.3,367.3 218.5,367.0 218.7,368.7 218.9,367.6 219.2,369.1 219.4,369.1 219.6,368.3 219.8,369.3 220.0,367.5 220.2,368.7 220.5,370.3 220.7,369.6 220.9,369.7 221.1,370.2 221.3,370.4 221.5,370.3 221.7,370.0 222.0,369.5 222.2,370.0 222.4,370.1 222.6,370.7 222.8,372.7 223.0,370.9 223.3,371.3 223.5,371.3 223.7,372.1 223.9,373.4 224.1,373.4 224.3,372.0 224.6,371.8 224.8,373.9 225.0,372.9 225.2,373.7 225.4,371.9 225.6,374.6 225.8,373.0 226.1,373.8 226.3,373.0 226.5,373.9 226.7,375.4 226.9,375.5 227.1,374.6 227.4,375.7 227.6,374.9 227.8,374.8 228.0,375.5 228.2,374.6 228.4,375.1 228.6,376.6 228.9,377.0 229.1,374.8 229.3,377.2 229.5,377.6 229.7,376.6 229.9,375.5 230.2,378.0 230.4,377.0 230.6,378.8 230.8,378.5 231.0,379.8 231.2,379.1 231.4,380.3 231.7,381.0 231.9,381.8 232.1,380.9 232.3,383.9 232.5,382.2 232.7,382.7 233.0,383.1 233.2,382.7 233.4,384.1 233.6,385.5 233.8,385.5 234.0,384.0 234.2,384.0 234.5,384.9 234.7,386.6 234.9,385.9 235.1,387.6 235.3,386.9 235.5,387.0 235.8,387.7 236.0,387.8 236.2,386.6 236.4,386.6 236.6,387.4 236.8,387.8 237.0,386.8 237.3,388.0 237.5,388.8 237.7,387.2 237.9,387.3 238.1,387.6 238.3,388.1 238.6,390.6 238.8,387.4 239.0,388.1 239.2,388.1 239.4,389.3 239.6,387.8 239.8,389.5 240.1,388.6 240.3,389.1 240.5,391.1 240.7,389.0 240.9,390.7 241.1,390.0 241.4,390.2 241.6,391.8 241.8,389.5 242.0,392.4 242.2,392.4 242.4,391.7 242.7,389.6 242.9,391.9 243.1,391.8 243.3,392.6 243.5,390.6 243.7,393.5 243.9,393.3 244.2,390.6 244.4,391.5 244.6,390.5 244.8,393.6 245.0,394.1 245.2,394.7 245.5,393.7 245.7,394.2 245.9,394.6 246.1,394.6 246.3,396.4 246.5,395.5 246.7,394.8 247.0,395.8 247.2,394.3 247.4,397.3 247.6,397.6 247.8,396.9 248.0,398.9 248.3,398.6 248.5,397.1 248.7,396.2 248.9,396.5 249.1,396.8 249.3,397.4 249.5,398.0 249.8,400.0 250.0,397.6 250.2,400.1 250.4,399.3 250.6,400.1 250.8,398.5 251.1,397.0 251.3,400.1 251.5,398.1 251.7,397.8 251.9,400.5 252.1,400.2 252.3,398.4 252.6,398.7 252.8,401.5 253.0,399.0 253.2,400.8 253.4,398.6 253.6,401.4 253.9,398.8 254.1,400.4 254.3,398.6 254.5,400.8 254.7,402.1 254.9,399.1 255.1,400.0 255.4,402.1 255.6,401.5 255.8,400.5 256.0,401.8 256.2,401.2 256.4,403.0 256.7,400.8 256.9,402.8 257.1,402.4 257.3,402.9 257.5,401.5 257.7,403.0 258.0,403.0 258.2,401.9 258.4,400.5 258.6,404.5 258.8,403.7 259.0,401.8 259.2,404.2 259.5,402.6 259.7,403.6 259.9,405.4 260.1,403.9 260.3,403.5 260.5,403.8 260.8,403.1 261.0,403.9 261.2,404.3 261.4,404.1 261.6,403.9 261.8,405.8 262.0,404.9 262.3,407.3 262.5,408.3 262.7,405.8 262.9,407.3 263.1,407.1 263.3,405.4 263.6,405.6 263.8,408.9 264.0,407.2 264.2,408.7 264.4,405.7 264.6,408.0 264.8,409.2 265.1,409.3 265.3,405.7 265.5,407.9 265.7,407.4 265.9,409.1 266.1,406.2 266.4,407.1 266.6,409.6 266.8,408.1 267.0,408.1 267.2,410.4 267.4,407.7 267.6,406.6 267.9,408.2 268.1,407.2 268.3,407.0 268.5,409.1 268.7,410.9 268.9,409.3 269.2,409.7 269.4,408.4 269.6,409.5 269.8,410.4 270.0,409.7 270.2,410.7 270.4,409.7 270.7,408.2 270.9,410.0 271.1,409.7 271.3,408.3 271.5,410.4 271.7,411.3 272.0,408.4 272.2,410.4 272.4,411.4 272.6,410.2 272.8,409.8 273.0,410.5 273.2,411.4 273.5,412.3 273.7,411.9 273.9,410.1 274.1,413.5 274.3,414.2 274.5,410.7 274.8,411.6 275.0,411.5 275.2,414.6 275.4,414.9 275.6,411.0 275.8,412.3 276.1,411.7 276.3,413.0 276.5,415.1 276.7,411.2 276.9,411.7 277.1,413.1 277.3,413.3 277.6,414.4 277.8,413.0 278.0,411.6 278.2,412.6 278.4,415.5 278.6,414.5 278.9,411.6 279.1,414.8 279.3,412.5 279.5,414.7 279.7,411.2 279.9,415.2 280.1,411.9 280.4,413.3 280.6,414.3 280.8,413.6 281.0,412.0 281.2,411.9 281.4,412.6 281.7,411.5 281.9,412.3 282.1,411.9 282.3,413.5 282.5,413.1 282.7,414.2 282.9,412.8 283.2,411.6 283.4,413.1 283.6,415.1 283.8,412.8 284.0,413.5 284.2,415.2 284.5,413.6 284.7,415.9 284.9,416.1 285.1,413.2 285.3,415.3 285.5,413.0 285.7,412.5 286.0,414.0 286.2,414.8 286.4,416.4 286.6,412.7 286.8,415.4 287.0,414.3 287.3,412.7 287.5,416.8 287.7,415.5 287.9,412.8 288.1,416.6 288.3,412.7 288.5,412.7 288.8,413.9 289.0,416.9 289.2,412.5 289.4,416.9 289.6,415.4 289.8,412.7 290.1,415.2 290.3,414.7 290.5,415.3 290.7,416.2 290.9,415.9 291.1,417.5 291.3,413.4 291.6,416.7 291.8,414.7 292.0,416.6 292.2,417.2 292.4,417.7 292.6,414.1 292.9,415.1 293.1,417.5 293.3,417.6 293.5,414.7 293.7,417.6 293.9,415.0 294.2,414.8 294.4,416.8 294.6,415.4 294.8,415.3 295.0,415.0 295.2,415.2 295.4,413.8 295.7,413.4 295.9,417.0 296.1,416.0 296.3,416.6 296.5,417.3 296.7,414.4 297.0,414.4 297.2,414.7 297.4,414.8 297.6,417.2 297.8,415.2 298.0,415.0 298.2,416.6 298.5,414.4 298.7,414.0 298.9,417.0 299.1,417.4 299.3,415.0 299.5,416.8 299.8,413.7 300.0,415.7 300.2,415.4 300.4,416.6 300.6,415.6 300.8,418.2 301.0,417.4 301.3,418.1 301.5,418.5 301.7,417.4 301.9,418.4 302.1,415.2 302.3,416.8 302.6,415.6 302.8,415.3 303.0,415.8 303.2,417.8 303.4,416.3 303.6,417.5 303.8,417.7 304.1,418.9 304.3,418.7 304.5,417.0 304.7,418.0 304.9,416.3 305.1,416.2 305.4,418.3 305.6,419.3 305.8,416.2 306.0,417.7 306.2,418.2 306.4,418.7 306.6,418.1 306.9,417.4 307.1,419.5 307.3,417.5 307.5,419.8 307.7,419.4 307.9,419.4 308.2,419.7 308.4,420.5 308.6,420.6 308.8,418.3 309.0,417.8 309.2,419.2 309.4,420.3 309.7,418.7 309.9,416.7 310.1,416.7 310.3,417.9 310.5,419.2 310.7,419.6 311.0,417.4 311.2,417.8 311.4,417.7 311.6,416.3 311.8,416.0 312.0,417.5 312.3,417.3 312.5,418.9 312.7,416.0 312.9,418.7 313.1,416.0 313.3,417.0 313.5,417.7 313.8,415.4 314.0,418.8 314.2,418.8 314.4,418.8 314.6,414.6 314.8,416.9 315.1,416.9 315.3,418.0 315.5,414.2 315.7,414.1 315.9,417.4 316.1,413.9 316.3,413.9 316.6,413.9 316.8,416.2 317.0,415.5 317.2,416.7 317.4,417.0 317.6,413.2 317.9,417.8 318.1,417.4 318.3,417.7 318.5,416.5 318.7,414.1 318.9,413.3 319.1,418.2 319.4,414.1 319.6,414.5 319.8,415.8 320.0,415.7 320.2,415.7 320.4,415.2 320.7,414.5 320.9,416.2 321.1,413.8 321.3,413.1 321.5,417.2 321.7,416.7 321.9,412.1 322.2,412.6 322.4,412.2 322.6,417.2 322.8,417.3 323.0,412.9 323.2,415.0 323.5,412.0 323.7,413.5 323.9,415.4 324.1,413.3 324.3,416.1 324.5,416.9 324.7,412.2 325.0,415.2 325.2,413.3 325.4,412.3 325.6,417.5 325.8,413.8 326.0,416.6 326.3,415.6 326.5,411.7 326.7,411.7 326.9,417.2 327.1,414.0 327.3,414.3 327.6,412.8 327.8,415.8 328.0,413.9 328.2,414.0 328.4,412.1 328.6,415.2 328.8,411.7 329.1,411.4 329.3,413.8 329.5,415.4 329.7,411.8 329.9,411.8 330.1,411.0 330.4,413.5 330.6,414.6 330.8,410.6 331.0,412.8 331.2,412.8 331.4,410.3 331.6,412.6 331.9,410.9 332.1,410.5 332.3,416.0 332.5,409.8 332.7,411.0 332.9,412.7 333.2,411.2 333.4,409.3 333.6,414.3 333.8,409.9 334.0,410.8 334.2,414.2 334.4,414.6 334.7,414.0 334.9,410.4 335.1,412.4 335.3,413.1 335.5,414.1 335.7,413.7 336.0,408.4 336.2,411.2 336.4,408.8 336.6,408.6 336.8,408.2 337.0,412.6 337.2,408.0 337.5,412.1 337.7,407.9 337.9,408.5 338.1,407.8 338.3,412.1 338.5,407.2 338.8,410.9 339.0,407.7 339.2,411.2 339.4,409.8 339.6,407.1 339.8,408.1 340.0,406.5 340.3,407.3 340.5,405.9 340.7,408.5 340.9,407.9 341.1,406.2 341.3,405.3 341.6,409.6 341.8,405.3 342.0,406.0 342.2,404.8 342.4,406.0 342.6,406.0 342.8,406.6 343.1,405.4 343.3,405.0 343.5,408.0 343.7,404.9 343.9,405.0 344.1,405.8 344.4,404.5 344.6,407.3 344.8,403.5 345.0,404.5 345.2,405.0 345.4,403.9 345.7,408.1 345.9,404.3 346.1,409.5 346.3,405.0 346.5,408.0 346.7,403.4 346.9,407.9 347.2,409.0 347.4,403.6 347.6,402.5 347.8,407.6 348.0,403.8 348.2,403.3 348.5,402.6 348.7,406.0 348.9,408.9 349.1,408.4 349.3,405.8 349.5,404.6 349.7,409.3 350.0,406.3 350.2,409.1 350.4,406.6 350.6,406.6 350.8,406.7 351.0,402.5 351.3,403.2 351.5,402.3 351.7,408.3 351.9,408.8 352.1,405.3 352.3,402.5 352.5,402.3 352.8,404.0 353.0,403.6 353.2,402.5 353.4,402.1 353.6,405.0 353.8,405.9 354.1,401.9 354.3,402.8 354.5,402.6 354.7,403.8 354.9,404.1 355.1,402.9 355.3,406.5 355.6,402.5 355.8,402.0 356.0,404.5 356.2,404.8 356.4,404.9 356.6,400.8 356.9,400.7 357.1,401.8 357.3,399.7 357.5,402.4 357.7,402.2 357.9,400.3 358.1,404.6 358.4,399.3 358.6,401.1 358.8,401.7 359.0,402.6 359.2,402.5 359.4,399.3 359.7,398.5 359.9,397.3 360.1,399.9 360.3,398.0 360.5,397.1 360.7,401.4 360.9,401.6 361.2,399.2 361.4,397.7 361.6,399.5 361.8,395.3 362.0,398.4 362.2,400.1 362.5,400.9 362.7,399.3 362.9,396.0 363.1,392.7 363.3,397.5 363.5,399.0 363.8,400.8 364.0,389.6 364.2,388.5 364.4,394.7 364.6,397.8 364.8,388.0 365.0,394.3 365.3,389.8 365.5,400.4 365.7,390.9 365.9,388.4 366.1,388.2 366.3,390.4 366.6,391.7 366.8,389.1 367.0,390.9 367.2,389.2 367.4,390.3 367.6,393.6 367.8,390.7 368.1,394.6 368.3,397.5 368.5,393.5 368.7,389.2 368.9,398.0 369.1,390.2 369.4,391.3 369.6,392.9 369.8,393.8 370.0,391.2 370.2,392.0 370.4,389.3 370.6,392.0 370.9,390.7 371.1,391.5 371.3,391.3 371.5,390.6 371.7,392.9 371.9,392.1 372.2,391.2 372.4,393.6 372.6,394.5 372.8,392.9 373.0,396.2 373.2,395.4 373.4,388.7 373.7,395.8 373.9,390.3 374.1,390.0 374.3,393.8 374.5,391.9 374.7,394.9 375.0,393.8 375.2,387.5 375.4,389.8 375.6,391.9 375.8,386.9 376.0,393.6 376.2,393.3 376.5,387.1 376.7,386.3 376.9,387.0 377.1,387.1 377.3,386.6 377.5,387.3 377.8,389.9 378.0,387.4 378.2,387.7 378.4,385.0 378.6,384.7 378.8,389.4 379.0,385.4 379.3,388.8 379.5,384.9 379.7,386.2 379.9,386.0 380.1,382.8 380.3,382.2 380.6,383.4 380.8,381.1 381.0,380.7 381.2,378.9 381.4,378.5 381.6,378.8 381.9,376.2 382.1,375.3 382.3,376.2 382.5,378.6 382.7,368.7 382.9,384.1 383.1,372.9 383.4,381.9 383.6,368.1 383.8,368.4 384.0,368.8 384.2,381.1 384.4,372.4 384.7,379.6 384.9,376.8 385.1,368.9 385.3,371.8 385.5,371.4 385.7,373.0 385.9,377.5 386.2,368.7 386.4,380.4 386.6,373.3 386.8,371.9 387.0,376.4 387.2,370.9 387.5,381.2 387.7,372.4 387.9,373.2 388.1,370.0 388.3,370.1 388.5,378.4 388.7,374.2 389.0,372.2 389.2,376.9 389.4,378.9 389.6,369.4 389.8,380.1 390.0,368.4 390.3,374.1 390.5,369.9 390.7,369.7 390.9,372.3 391.1,373.6 391.3,371.3 391.5,374.8 391.8,378.4 392.0,368.0 392.2,368.4 392.4,372.8 392.6,370.0 392.8,368.7 393.1,370.8 393.3,365.8 393.5,376.8 393.7,377.3 393.9,375.1 394.1,368.0 394.3,376.0 394.6,372.9 394.8,365.5 395.0,376.9 395.2,365.9 395.4,371.9 395.6,372.0 395.9,375.7 396.1,371.2 396.3,377.0 396.5,363.0 396.7,377.2 396.9,363.8 397.2,369.0 397.4,366.4 397.6,362.1 397.8,362.9 398.0,367.8 398.2,364.6 398.4,370.0 398.7,364.5 398.9,371.1 399.1,368.2 399.3,362.9 399.5,360.1 399.7,355.6 400.0,357.7 400.2,354.1 400.4,357.3 400.6,352.7 400.8,358.4 401.0,353.2 401.2,352.3 401.5,358.9 401.7,352.6 401.9,355.0 402.1,353.9 402.3,352.6 402.5,356.4 402.8,352.6 403.0,352.1 403.2,358.8 403.4,354.7 403.6,357.7 403.8,354.8 404.0,355.0 404.3,352.6 404.5,353.7 404.7,354.1 404.9,352.4 405.1,358.3 405.3,351.2 405.6,350.8 405.8,351.8 406.0,357.0 406.2,357.7 406.4,353.6 406.6,351.0 406.8,354.2 407.1,356.6 407.3,348.9 407.5,353.7 407.7,354.1 407.9,349.4 408.1,346.6 408.4,351.8 408.6,346.5 408.8,347.9 409.0,350.0 409.2,357.5 409.4,344.5 409.6,343.5 409.9,348.7 410.1,355.6 410.3,342.6 410.5,349.8 410.7,342.1 410.9,356.0 411.2,342.3 411.4,349.4 411.6,344.6 411.8,348.9 412.0,343.0 412.2,341.0 412.4,341.8 412.7,342.6 412.9,341.2 413.1,341.4 413.3,345.8 413.5,344.0 413.7,350.3 414.0,344.5 414.2,345.0 414.4,347.6 414.6,350.0 414.8,345.1 415.0,338.3 415.3,342.8 415.5,337.9 415.7,344.7 415.9,337.4 416.1,343.2 416.3,337.9 416.5,348.1 416.8,336.9 417.0,336.0 417.2,344.5 417.4,337.6 417.6,341.9 417.8,337.5 418.1,336.2 418.3,335.8 418.5,333.2 418.7,332.7 418.9,332.6 419.1,333.4 419.3,331.9 419.6,342.7 419.8,337.1 420.0,335.7 420.2,337.4 420.4,341.5 420.6,345.5 420.9,335.0 421.1,331.3 421.3,334.3 421.5,343.7 421.7,343.5 421.9,332.3 422.1,326.0 422.4,325.9 422.6,325.6 422.8,336.5 423.0,339.2 423.2,324.3 423.4,323.7 423.7,323.4 423.9,330.1 424.1,323.5 424.3,329.0 424.5,330.3 424.7,321.5 424.9,333.4 425.2,322.9 425.4,326.8 425.6,323.4 425.8,319.5 426.0,323.3 426.2,318.8 426.5,322.9 426.7,320.3 426.9,321.2 427.1,318.4 427.3,320.1 427.5,325.5 427.7,330.7 428.0,317.2 428.2,327.5 428.4,315.1 428.6,315.4 428.8,329.1 429.0,326.4 429.3,315.7 429.5,314.2 429.7,321.1 429.9,326.7 430.1,324.1 430.3,317.3 430.5,314.5 430.8,314.2 431.0,312.7 431.2,311.1 431.4,321.0 431.6,310.8 431.8,312.9 432.1,312.2 432.3,309.8 432.5,313.8 432.7,318.1 432.9,310.1 433.1,314.1 433.4,315.7 433.6,309.1 433.8,315.1 434.0,312.8 434.2,311.3 434.4,307.0 434.6,305.5 434.9,305.2 435.1,312.1 435.3,310.5 435.5,302.9 435.7,306.1 435.9,302.3 436.2,307.8 436.4,304.7 436.6,309.5 436.8,305.7 437.0,309.5 437.2,299.8 437.4,302.0 437.7,306.9 437.9,298.2 438.1,295.7 438.3,296.1 438.5,295.2 438.7,293.7 439.0,295.3 439.2,293.6 439.4,296.7 439.6,303.2 439.8,305.1 440.0,290.4 440.2,304.4 440.5,297.4 440.7,289.1 440.9,294.1 441.1,288.9 441.3,290.8 441.5,289.9 441.8,298.1 442.0,288.0 442.2,292.2 442.4,292.6 442.6,288.2 442.8,298.2 443.0,287.4 443.3,287.0 443.5,292.2 443.7,288.5 443.9,291.9 444.1,283.5 444.3,295.9 444.6,290.7 444.8,285.1 445.0,291.7 445.2,282.5 445.4,282.2 445.6,280.1 445.8,282.6 446.1,279.5 446.3,279.4 446.5,286.2 446.7,277.8 446.9,281.0 447.1,285.3 447.4,280.2 447.6,282.2 447.8,286.6 448.0,273.4 448.2,283.3 448.4,276.5 448.6,270.9 448.9,269.8 449.1,271.8 449.3,269.2 449.5,278.4 449.7,274.2 449.9,267.3 450.2,279.5 450.4,273.8 450.6,270.9 450.8,266.7 451.0,270.6 451.2,265.0 451.5,271.8 451.7,269.4 451.9,271.5 452.1,270.1 452.3,271.0 452.5,264.4 452.7,263.4 453.0,261.8 453.2,273.3 453.4,260.6 453.6,262.4 453.8,267.1 454.0,265.1 454.3,272.8 454.5,260.0 454.7,258.6 454.9,257.5 455.1,263.4 455.3,259.8 455.5,262.1 455.8,266.2 456.0,259.4 456.2,265.1 456.4,255.4 456.6,255.1 456.8,271.6 457.1,269.8 457.3,261.9 457.5,270.4 457.7,255.8 457.9,256.4 458.1,258.5 458.3,259.3 458.6,265.3 458.8,257.6 459.0,252.0 459.2,261.9 459.4,253.2 459.6,265.4 459.9,252.5 460.1,253.4 460.3,251.0 460.5,252.9 460.7,257.9 460.9,251.8 461.1,248.9 461.4,256.8 461.6,259.6 461.8,248.5 462.0,252.7 462.2,247.5 462.4,246.9 462.7,250.7 462.9,248.9 463.1,259.3 463.3,245.2 463.5,253.6 463.7,254.8 463.9,248.6 464.2,249.5 464.4,245.3 464.6,244.9 464.8,242.4 465.0,255.2 465.2,241.4 465.5,241.8 465.7,240.4 465.9,245.2 466.1,245.6 466.3,241.9 466.5,239.9 466.8,249.5 467.0,238.7 467.2,240.2 467.4,247.3 467.6,239.4 467.8,250.4 468.0,237.0 468.3,241.5 468.5,241.2 468.7,249.6 468.9,234.0 469.1,233.7 469.3,239.6 469.6,243.6 469.8,232.5 470.0,238.3 470.2,236.2 470.4,235.3 470.6,237.0 470.8,238.2 471.1,239.4 471.3,243.2 471.5,237.9 471.7,245.1 471.9,237.5 472.1,230.2 472.4,228.2 472.6,227.0 472.8,229.0 473.0,226.6 473.2,236.4 473.4,236.3 473.6,234.3 473.9,244.1 474.1,230.4 474.3,226.1 474.5,241.5 474.7,222.1 474.9,221.6 475.2,231.5 475.4,243.6 475.6,238.9 475.8,228.3 476.0,225.3 476.2,219.4 476.4,222.7 476.7,230.0 476.9,221.9 477.1,217.4 477.3,228.9 477.5,221.2 477.7,237.3 478.0,231.7 478.2,232.5 478.4,238.5 478.6,235.3 478.8,219.6 479.0,226.4 479.2,217.1 479.5,215.4 479.7,215.0 479.9,212.9 480.1,215.5 480.3,215.0 480.5,228.8 480.8,215.4 481.0,211.2 481.2,219.7 481.4,213.7 481.6,210.3 481.8,213.8 482.0,223.3 482.3,212.5 482.5,220.5 482.7,233.9 482.9,215.0 483.1,221.3 483.3,218.4 483.6,209.7 483.8,208.9 484.0,231.5 484.2,214.9 484.4,237.2 484.6,216.5 484.9,230.4 485.1,210.8 485.3,218.0 485.5,219.8 485.7,227.2 485.9,207.5 486.1,213.4 486.4,215.8 486.6,218.3 486.8,208.2 487.0,216.1 487.2,219.3 487.4,219.7 487.7,208.5 487.9,212.0 488.1,209.0 488.3,210.1 488.5,209.3 488.7,219.9 488.9,204.6 489.2,218.9 489.4,203.9 489.6,203.7 489.8,204.6 490.0,205.3 490.2,215.5 490.5,201.6 490.7,216.6 490.9,205.3 491.1,200.3 491.3,209.1 491.5,215.1 491.7,199.8 492.0,213.0 492.2,198.1 492.4,210.3 492.6,197.2 492.8,214.5 493.0,213.4 493.3,196.2 493.5,203.5 493.7,198.0 493.9,201.6 494.1,194.7 494.3,199.3 494.5,200.0 494.8,193.0 495.0,201.4 495.2,213.4 495.4,193.4 495.6,215.1 495.8,201.8 496.1,195.6 496.3,216.1 496.5,201.4 496.7,200.5 496.9,199.1 497.1,213.4 497.3,194.2 497.6,195.6 497.8,197.0 498.0,193.2 498.2,212.8 498.4,202.1 498.6,205.3 498.9,214.2 499.1,202.1 499.3,196.7 499.5,202.8 499.7,201.8 499.9,197.0 500.1,195.6 500.4,198.1 500.6,207.6 500.8,194.3 501.0,215.1 501.2,195.3 501.4,195.9 501.7,193.3 501.9,197.8 502.1,197.2 502.3,203.7 502.5,208.7 502.7,194.3 503.0,205.4 503.2,194.8 503.4,196.1 503.6,191.9 503.8,205.1 504.0,194.6 504.2,200.0 504.5,190.0 504.7,198.9 504.9,191.0 505.1,193.6 505.3,196.7 505.5,188.2 505.8,192.4 506.0,197.6 506.2,185.3 506.4,188.8 506.6,183.7 506.8,182.2 507.0,186.9 507.3,185.5 507.5,188.8 507.7,193.7 507.9,189.2 508.1,180.0 508.3,182.5 508.6,196.9 508.8,191.4 509.0,196.6 509.2,181.1 509.4,172.8 509.6,191.7 509.8,175.2 510.1,177.9 510.3,191.9 510.5,173.1 510.7,192.7 510.9,173.1 511.1,169.6 511.4,179.6 511.6,195.3 511.8,176.3 512.0,189.5 512.2,175.8 512.4,188.2 512.6,169.4 512.9,172.5 513.1,169.1 513.3,185.1 513.5,176.6 513.7,182.1 513.9,194.1 514.2,184.4 514.4,193.5 514.6,167.1 514.8,166.2 515.0,188.4 515.2,187.6 515.4,188.2 515.7,169.0 515.9,177.6 516.1,166.2 516.3,173.5 516.5,165.0 516.7,168.9 517.0,172.8 517.2,171.2 517.4,165.3 517.6,164.9 517.8,183.2 518.0,164.0 518.2,190.2 518.5,186.8 518.7,189.9 518.9,182.5 519.1,163.3 519.3,164.5 519.5,168.4 519.8,165.3 520.0,163.2 520.2,186.1 520.4,185.7 520.6,180.6 520.8,166.0 521.1,183.2 521.3,181.9 521.5,167.2 521.7,163.0 521.9,163.0 522.1,168.8 522.3,187.4 522.6,161.7 522.8,168.9 523.0,166.8 523.2,182.9 523.4,160.4 523.6,174.7 523.9,165.5 524.1,174.1 524.3,179.6 524.5,159.7 524.7,180.1 524.9,159.3 525.1,213.1 525.4,202.6 525.6,221.0 525.8,215.8 526.0,207.9 526.2,205.2 526.4,200.0 526.7,218.4 526.9,210.5 527.1,181.7 527.3,161.4 527.5,181.9 527.7,173.9 527.9,156.5 528.2,171.5 528.4,149.8 528.6,149.1 528.8,163.2 529.0,165.8 529.2,160.6 529.5,178.0 529.7,160.6 529.9,145.6 530.1,143.4 530.3,149.7 530.5,156.0 530.7,144.9 531.0,142.1 531.2,150.0 531.4,147.8 531.6,142.2 531.8,170.9 532.0,171.5 532.3,135.0 532.5,148.4 532.7,138.9 532.9,141.8 533.1,132.5 533.3,133.2 533.5,131.9 533.8,133.3 534.0,172.5 534.2,131.3 534.4,129.6 534.6,160.5 534.8,135.4 535.1,153.9 535.3,168.2 535.5,129.3 535.7,146.2 535.9,141.3 536.1,134.3 536.4,133.0 536.6,126.1 536.8,148.8 537.0,128.4 537.2,137.0 537.4,164.5 537.6,132.9 537.9,131.1 538.1,164.3 538.3,143.4 538.5,142.6 538.7,126.6 538.9,146.3 539.2,132.8 539.4,140.8 539.6,133.5 539.8,121.6 540.0,160.1 540.2,148.7 540.4,165.3 540.7,129.0 540.9,127.8 541.1,122.5 541.3,128.7 541.5,129.4 541.7,123.7 542.0,126.7 542.2,127.8 542.4,158.4 542.6,134.6 542.8,155.9 543.0,119.3 543.2,123.2 543.5,164.5 543.7,118.9 543.9,119.2 544.1,137.7 544.3,126.6 544.5,122.7 544.8,142.5 545.0,142.5 545.2,122.1 545.4,117.2 545.6,133.8 545.8,156.9 546.0,118.0 546.3,123.3 546.5,139.4 546.7,116.9 546.9,116.3 547.1,165.0 547.3,126.8 547.6,151.8 547.8,123.2 548.0,163.4 548.2,121.5 548.4,115.5 548.6,116.6 548.8,132.6 549.1,115.7 549.3,165.6 549.5,183.7 549.7,138.5 549.9,141.8 550.1,130.0 550.4,158.7 550.6,147.0 550.8,130.4 551.0,123.1 551.2,117.5 551.4,124.4 551.6,166.7 551.9,115.2 552.1,161.1 552.3,121.4 552.5,135.8 552.7,114.3 552.9,136.3 553.2,142.0 553.4,114.3 553.6,164.6 553.8,112.3 554.0,120.3 554.2,147.1 554.5,122.6 554.7,156.6 554.9,116.5 555.1,119.5 555.3,142.1 555.5,154.2 555.7,155.8 556.0,115.6 556.2,164.9 556.4,121.1 556.6,138.5 556.8,109.8 557.0,150.6 557.3,138.5 557.5,104.7 557.7,110.0 557.9,109.8 558.1,97.3 558.3,112.8 558.5,119.6 558.8,134.9 559.0,106.7 559.2,129.8 559.4,101.4 559.6,95.2 559.8,96.1 560.1,110.3 560.3,101.2 560.5,114.2 560.7,104.6 560.9,119.3 561.1,99.5 561.3,105.4 561.6,108.5 561.8,99.4 562.0,102.1 562.2,112.6 562.4,92.3 562.6,98.0 562.9,92.4 563.1,112.1 563.3,99.9 563.5,116.4 563.7,109.2 563.9,97.5 564.1,112.1 564.4,90.8 564.6,90.8 564.8,90.7 565.0,103.2 565.2,115.5 565.4,98.0 565.7,97.4 565.9,104.9 566.1,98.0 566.3,107.0 566.5,101.5 566.7,108.2 566.9,111.0 567.2,102.5 567.4,114.2 567.6,109.4 567.8,112.1 568.0,90.0 568.2,89.9 568.5,104.4 568.7,95.6 568.9,112.6 569.1,97.1 569.3,108.0 569.5,93.4 569.7,104.1 570.0,113.6 570.2,112.2 570.4,96.1 570.6,99.3 570.8,89.1 571.0,117.5 571.3,99.3 571.5,116.1 571.7,112.8 571.9,94.9 572.1,106.0 572.3,115.7 572.6,96.7 572.8,112.1 573.0,110.4 573.2,113.8 573.4,91.7 573.6,115.5 573.8,117.8 574.1,95.2 574.3,106.1 574.5,92.8 574.7,105.6 574.9,109.3 575.1,110.8 575.4,115.4 575.6,98.2 575.8,153.9 576.0,145.2 576.2,162.5 576.4,136.6 576.6,133.8 576.9,159.6 577.1,128.0 577.3,142.4 577.5,151.0 577.7,130.9 577.9,139.5 578.2,148.1 578.4,156.8 578.6,109.2 578.8,123.5 579.0,96.5 579.2,127.9 579.4,127.0 579.7,104.1 579.9,99.0 580.1,118.0 580.3,128.2 580.5,127.5 580.7,98.6 581.0,98.3 581.2,102.3 581.4,102.9 581.6,101.4 581.8,98.8 582.0,100.7 582.2,104.6 582.5,99.2 582.7,101.2 582.9,106.8 583.1,119.9 583.3,120.6 583.5,105.8 583.8,99.5 584.0,102.3 584.2,113.7 584.4,105.6 584.6,110.3 584.8,115.6 585.0,113.1 585.3,120.0 585.5,98.5 585.7,102.7 585.9,125.4 586.1,108.7 586.3,111.7 586.6,101.6 586.8,97.9 587.0,107.1 587.2,99.7 587.4,100.2 587.6,104.8 587.8,124.3 588.1,104.2 588.3,97.1 588.5,104.6 588.7,105.5 588.9,98.9 589.1,99.8 589.4,118.4 589.6,106.4 589.8,102.2 590.0,127.8 590.2,123.3 590.4,101.6 590.7,106.7 590.9,111.4 591.1,99.4 591.3,96.8 591.5,102.5 591.7,121.6 591.9,98.2 592.2,130.4 592.4,131.4 592.6,104.6 592.8,98.1 593.0,129.0 593.2,125.5 593.5,98.2 593.7,112.9 593.9,107.8 594.1,117.0 594.3,106.2 594.5,97.6 594.7,102.4 595.0,127.8 595.2,104.1 595.4,119.4 595.6,110.0 595.8,114.0 596.0,113.8 596.3,118.4 596.5,99.0 596.7,98.9 596.9,135.7 597.1,104.0 597.3,107.6 597.5,103.6 597.8,119.6 598.0,137.5 598.2,109.3 598.4,106.3 598.6,107.2 598.8,98.3 599.1,99.4 599.3,98.5 599.5,106.2 599.7,137.6 599.9,100.4 600.1,115.5 600.3,102.2 600.6,97.9 600.8,130.7 601.0,99.8 601.2,100.1 601.4,134.9 601.6,104.6 601.9,103.0 602.1,151.3 602.3,151.7 602.5,125.0 602.7,143.7 602.9,156.7 603.1,141.0 603.4,149.0 603.6,133.0 603.8,154.3 604.0,130.3 604.2,135.7 604.4,127.7 604.7,157.0 604.9,138.3 605.1,117.9 605.3,117.1 605.5,113.0 605.7,109.0 606.0,93.6 606.2,86.9 606.4,82.5 606.6,90.0 606.8,107.4 607.0,89.8 607.2,95.0 607.5,106.0 607.7,103.7 607.9,99.0 608.1,93.7 608.3,83.4 608.5,98.9 608.8,88.1 609.0,97.3 609.2,82.9 609.4,79.3 609.6,81.6 609.8,100.1 610.0,108.2 610.3,108.2 610.5,102.8 610.7,94.8 610.9,93.5 611.1,83.5 611.3,85.3 611.6,83.1 611.8,88.5 612.0,95.0 612.2,97.8 612.4,97.0 612.6,85.9 612.8,85.6 613.1,99.1 613.3,107.1 613.5,83.0 613.7,87.8 613.9,84.2 614.1,107.1 614.4,79.7 614.6,103.9 614.8,99.3 615.0,85.7 615.2,96.3 615.4,86.8 615.6,94.8 615.9,88.3 616.1,104.9 616.3,89.5 616.5,101.1 616.7,80.6 616.9,87.7 617.2,107.0 617.4,84.0 617.6,104.9 617.8,107.7 618.0,103.0 618.2,95.3 618.4,95.8 618.7,133.5 618.9,90.8 619.1,102.8 619.3,83.2 619.5,104.3 619.7,91.9 620.0,98.1 620.2,85.0 620.4,84.9 620.6,85.6 620.8,101.9 621.0,91.2 621.2,109.8 621.5,86.0 621.7,88.0 621.9,110.1 622.1,95.4 622.3,90.0 622.5,110.6 622.8,91.0 623.0,121.9 623.2,92.8 623.4,118.3 623.6,127.0 623.8,124.6 624.1,95.0 624.3,126.3 624.5,96.0 624.7,102.6 624.9,112.5 625.1,109.0 625.3,116.1 625.6,117.8 625.8,96.4 626.0,89.0 626.2,120.1 626.4,113.2 626.6,111.4 626.9,108.0 627.1,134.0 627.3,99.0 627.5,133.4 627.7,94.4 627.9,90.5 628.1,136.1 628.4,94.5 628.6,125.5 628.8,99.3 629.0,92.3 629.2,106.9 629.4,122.0 629.7,100.5 629.9,133.3 630.1,137.5 630.3,125.0 630.5,161.4 630.7,179.2 630.9,150.0 631.2,129.2 631.4,98.8 631.6,100.9 631.8,121.5 632.0,106.1 632.2,124.3 632.5,109.3 632.7,104.8 632.9,141.3 633.1,100.6 633.3,134.8 633.5,110.3 633.7,104.2 634.0,100.8 634.2,133.0 634.4,95.7 634.6,95.9 634.8,128.7 635.0,102.2 635.3,96.4 635.5,97.6 635.7,140.2 635.9,105.8 636.1,121.2 636.3,102.6 636.5,107.4 636.8,140.2 637.0,136.8 637.2,107.3 637.4,101.6 637.6,100.5 637.8,122.5 638.1,134.6 638.3,98.8 638.5,108.3 638.7,102.5 638.9,138.6 639.1,101.8 639.3,100.5 639.6,128.9 639.8,142.2 640.0,129.7 640.2,102.2 640.4,112.6 640.6,118.1 640.9,139.3 641.1,131.6 641.3,147.6 641.5,116.8 641.7,135.4 641.9,122.5 642.2,130.2 642.4,150.5 642.6,152.3 642.8,102.8 643.0,127.3 643.2,113.7 643.4,107.9 643.7,108.5 643.9,134.2 644.1,144.0 644.3,151.1 644.5,156.3 644.7,115.7 645.0,118.5 645.2,112.1 645.4,131.4 645.6,165.1 645.8,147.7 646.0,154.0 646.2,178.0 646.5,150.0 646.7,192.0 646.9,162.0 647.1,200.3 647.3,184.0 647.5,158.0 647.8,166.0 648.0,135.2 648.2,130.5 648.4,131.3 648.6,130.7 648.8,135.6 649.0,156.8 649.3,151.1 649.5,143.3 649.7,140.9 649.9,136.3 650.1,166.1 650.3,143.8 650.6,131.7 650.8,149.2 651.0,130.8 651.2,166.2 651.4,166.0 651.6,132.2 651.8,137.6 652.1,165.0 652.3,164.8 652.5,134.2 652.7,153.2 652.9,148.6 653.1,140.6 653.4,155.9 653.6,149.5 653.8,135.2 654.0,143.9 654.2,152.7 654.4,149.1 654.6,146.2 654.9,154.3 655.1,134.3 655.3,133.0 655.5,133.2 655.7,150.1 655.9,143.6 656.2,166.2 656.4,164.9 656.6,135.2 656.8,179.2 657.0,230.0 657.2,236.2 657.5,254.2" fill="none" stroke="#ff8c00" stroke-width="3.2" stroke-linejoin="round" stroke-linecap="round"/>
<path d="M118.8,201.5h0M119.0,197.0h0M119.2,192.5h0M119.4,187.9h0M119.6,183.2h0M119.8,178.6h0M120.0,176.3h0M120.3,175.2h0M120.5,174.1h0M120.7,173.1h0M120.9,172.0h0M121.1,170.9h0M121.3,169.9h0M121.6,169.5h0M121.8,169.0h0M122.0,168.5h0M122.2,168.1h0M122.4,167.6h0M122.6,167.2h0M122.8,166.7h0M123.1,166.2h0M123.3,165.8h0M123.5,165.4h0M123.7,165.1h0M123.9,164.7h0M124.1,164.4h0M124.4,164.1h0M124.6,163.8h0M124.8,163.5h0M125.0,163.2h0M125.2,162.9h0M125.4,162.6h0M125.6,162.2h0M125.9,161.9h0M126.1,161.6h0M126.3,161.3h0M126.5,161.0h0M126.7,160.9h0M126.9,160.7h0M127.2,160.6h0M127.4,160.4h0M127.6,160.3h0M127.8,160.2h0M128.0,160.0h0M128.2,159.9h0M128.4,159.8h0M128.7,159.6h0M128.9,159.5h0M129.1,159.3h0M129.3,159.2h0M129.5,159.1h0M129.7,158.9h0M130.0,158.8h0M130.2,158.6h0M130.4,158.5h0M130.6,158.4h0M130.8,158.4h0M131.0,158.3h0M131.2,158.2h0M131.5,158.2h0M131.7,158.1h0M131.9,158.0h0M132.1,158.0h0M132.3,157.9h0M132.5,157.8h0M132.8,157.8h0M133.0,157.7h0M133.2,157.6h0M133.4,157.5h0M133.6,157.5h0M133.8,157.4h0M134.0,157.3h0M134.3,157.3h0M134.5,157.2h0M134.7,157.2h0M134.9,157.2h0M135.1,157.1h0M135.3,157.1h0M135.6,157.1h0M135.8,157.1h0M136.0,157.1h0M136.2,157.0h0M136.4,157.0h0M136.6,157.0h0M136.9,157.0h0M137.1,156.9h0M137.3,156.9h0M137.5,156.9h0M137.7,156.9h0M137.9,156.9h0M138.1,156.8h0M138.4,156.8h0M138.6,156.8h0M138.8,157.0h0M139.0,157.2h0M139.2,157.5h0M139.4,157.7h0M139.7,158.0h0M139.9,158.2h0M140.1,158.4h0M140.3,158.7h0M140.5,158.9h0M140.7,159.3h0M140.9,159.9h0M141.2,160.5h0M141.4,161.0h0M141.6,161.6h0M141.8,162.2h0M142.0,162.7h0M142.2,163.3h0M142.5,163.9h0M142.7,164.6h0M142.9,165.4h0M143.1,166.2h0M143.3,167.1h0M143.5,167.9h0M143.7,168.7h0M144.0,169.5h0M144.2,170.7h0M144.4,172.5h0M144.6,174.4h0M144.8,176.2h0M145.0,178.0h0M145.3,179.9h0M145.5,181.7h0M145.7,184.5h0M145.9,187.5h0M146.1,190.4h0M146.3,193.3h0M146.5,196.3h0M146.8,198.0h0M147.0,199.3h0M147.2,200.6h0M147.4,201.9h0M147.6,203.3h0M147.8,204.6h0M148.1,205.9h0M148.3,207.2h0M148.5,208.3h0M148.7,209.1h0M148.9,209.9h0M149.1,210.6h0M149.3,211.4h0M149.6,212.2h0M149.8,213.0h0M150.0,213.7h0M150.2,214.5h0M150.4,215.3h0M150.6,216.1h0M150.9,216.9h0M151.1,217.4h0M151.3,218.0h0M151.5,218.6h0M151.7,219.1h0M151.9,219.7h0M152.1,220.2h0M152.4,220.7h0M152.6,221.3h0M152.8,221.8h0M153.0,222.3h0M153.2,222.9h0M153.4,223.6h0M153.7,224.0h0M153.9,224.4h0M154.1,224.9h0M154.3,225.4h0M154.5,225.9h0M154.7,226.3h0M155.0,226.7h0M155.2,227.4h0M155.4,227.7h0M155.6,228.2h0M155.8,228.7h0M156.0,229.1h0M156.2,229.5h0M156.5,230.1h0M156.7,230.6h0M156.9,231.1h0M157.1,231.6h0M157.3,231.8h0M157.5,232.6h0M157.8,233.0h0M158.0,233.4h0M158.2,233.6h0M158.4,234.1h0M158.6,234.2h0M158.8,234.5h0M159.0,234.9h0M159.3,235.3h0M159.5,235.7h0M159.7,236.0h0M159.9,236.5h0M160.1,236.6h0M160.3,237.2h0M160.6,237.4h0M160.8,238.0h0M161.0,238.0h0M161.2,238.5h0M161.4,239.2h0M161.6,239.4h0M161.8,239.8h0M162.1,240.1h0M162.3,240.5h0M162.5,240.6h0M162.7,241.2h0M162.9,241.2h0M163.1,242.0h0M163.4,242.8h0M163.6,244.4h0M163.8,245.7h0M164.0,247.6h0M164.2,249.3h0M164.4,250.8h0M164.6,252.9h0M164.9,255.3h0M165.1,258.7h0M165.3,262.7h0M165.5,266.4h0M165.7,267.9h0M165.9,268.9h0M166.2,269.6h0M166.4,269.7h0M166.6,270.5h0M166.8,271.2h0M167.0,271.7h0M167.2,271.9h0M167.4,272.9h0M167.7,273.5h0M167.9,274.2h0M168.1,274.8h0M168.3,275.0h0M168.5,275.9h0M168.7,276.6h0M169.0,277.2h0M169.2,277.1h0M169.4,277.4h0M169.6,278.3h0M169.8,278.4h0M170.0,279.1h0M170.2,279.9h0M170.5,279.8h0M170.7,280.1h0M170.9,280.7h0M171.1,281.3h0M171.3,281.2h0M171.5,281.9h0M171.8,282.1h0M172.0,283.0h0M172.2,283.6h0M172.4,283.6h0M172.6,284.0h0M172.8,284.6h0M173.1,284.7h0M173.3,285.2h0M173.5,285.7h0M173.7,286.3h0M173.9,286.3h0M174.1,287.3h0M174.3,287.4h0M174.6,287.5h0M174.8,287.6h0M175.0,288.6h0M175.2,288.3h0M175.4,288.6h0M175.6,288.9h0M175.9,289.2h0M176.1,290.5h0M176.3,290.1h0M176.5,290.5h0M176.7,291.4h0M176.9,291.5h0M177.1,291.3h0M177.4,291.9h0M177.6,292.8h0M177.8,292.5h0M178.0,293.3h0M178.2,292.8h0M178.4,293.9h0M178.7,294.3h0M178.9,294.7h0M179.1,294.8h0M179.3,294.7h0M179.5,294.7h0M179.7,295.6h0M179.9,296.2h0M180.2,295.8h0M180.4,296.2h0M180.6,296.8h0M180.8,297.4h0M181.0,297.9h0M181.2,297.2h0M181.5,297.6h0M181.7,298.8h0M181.9,298.9h0M182.1,299.3h0M182.3,300.0h0M182.5,300.2h0M182.7,300.4h0M183.0,300.6h0M183.2,300.4h0M183.4,301.5h0M183.6,301.7h0M183.8,303.3h0M184.0,304.1h0M184.3,304.9h0M184.5,305.3h0M184.7,306.0h0M184.9,306.9h0M185.1,307.1h0M185.3,309.1h0M185.5,309.5h0M185.8,310.0h0M186.0,310.9h0M186.2,311.8h0M186.4,312.0h0M186.6,313.3h0M186.8,314.1h0M187.1,313.9h0M187.3,314.2h0M187.5,315.8h0M187.7,316.9h0M187.9,316.2h0M188.1,317.7h0M188.4,318.6h0M188.6,319.4h0M188.8,318.7h0M189.0,319.3h0M189.2,321.3h0M189.4,320.4h0M189.6,321.0h0M189.9,322.1h0M190.1,322.4h0M190.3,323.5h0M190.5,323.0h0M190.7,324.8h0M190.9,324.1h0M191.2,325.5h0M191.4,324.8h0M191.6,326.0h0M191.8,325.8h0M192.0,326.8h0M192.2,327.3h0M192.4,328.5h0M192.7,328.5h0M192.9,328.1h0M193.1,330.1h0M193.3,330.1h0M193.5,330.4h0M193.7,329.5h0M194.0,330.0h0M194.2,329.9h0M194.4,330.0h0M194.6,330.1h0M194.8,331.2h0M195.0,330.8h0M195.2,331.1h0M195.5,332.7h0M195.7,332.2h0M195.9,331.9h0M196.1,333.1h0M196.3,332.5h0M196.5,333.3h0M196.8,333.1h0M197.0,333.8h0M197.2,334.3h0M197.4,334.4h0M197.6,334.3h0M197.8,335.4h0M198.0,335.8h0M198.3,334.7h0M198.5,334.8h0M198.7,335.0h0M198.9,337.1h0M199.1,337.3h0M199.3,336.1h0M199.6,337.9h0M199.8,336.5h0M200.0,337.4h0M200.2,337.6h0M200.4,338.8h0M200.6,337.2h0M200.8,338.0h0M201.1,338.9h0M201.3,338.0h0M201.5,338.6h0M201.7,339.4h0M201.9,340.6h0M202.1,340.6h0M202.4,341.0h0M202.6,341.1h0M202.8,341.2h0M203.0,341.8h0M203.2,341.7h0M203.4,342.1h0M203.6,341.3h0M203.9,341.3h0M204.1,342.9h0M204.3,341.8h0M204.5,343.9h0M204.7,343.8h0M204.9,343.7h0M205.2,345.7h0M205.4,344.4h0M205.6,345.8h0M205.8,345.4h0M206.0,348.0h0M206.2,347.6h0M206.5,348.7h0M206.7,348.0h0M206.9,349.8h0M207.1,350.2h0M207.3,350.6h0M207.5,351.9h0M207.7,351.2h0M208.0,351.7h0M208.2,352.8h0M208.4,353.6h0M208.6,352.8h0M208.8,354.1h0M209.0,353.4h0M209.3,354.7h0M209.5,355.7h0M209.7,354.4h0M209.9,356.5h0M210.1,355.1h0M210.3,358.0h0M210.5,357.2h0M210.8,357.5h0M211.0,358.7h0M211.2,358.6h0M211.4,359.6h0M211.6,358.4h0M211.8,360.1h0M212.1,360.5h0M212.3,361.9h0M212.5,360.0h0M212.7,361.5h0M212.9,362.2h0M213.1,362.2h0M213.3,361.1h0M213.6,362.7h0M213.8,361.9h0M214.0,362.1h0M214.2,364.2h0M214.4,362.5h0M214.6,363.4h0M214.9,364.5h0M215.1,364.6h0M215.3,364.4h0M215.5,365.3h0M215.7,364.6h0M215.9,365.2h0M216.1,366.0h0M216.4,365.8h0M216.6,365.9h0M216.8,365.5h0M217.0,366.1h0M217.2,365.9h0M217.4,367.1h0M217.7,366.3h0M217.9,366.8h0M218.1,367.8h0M218.3,367.3h0M218.5,367.0h0M218.7,368.7h0M218.9,367.6h0M219.2,369.1h0M219.4,369.1h0M219.6,368.3h0M219.8,369.3h0M220.0,367.5h0M220.2,368.7h0M220.5,370.3h0M220.7,369.6h0M220.9,369.7h0M221.1,370.2h0M221.3,370.4h0M221.5,370.3h0M221.7,370.0h0M222.0,369.5h0M222.2,370.0h0M222.4,370.1h0M222.6,370.7h0M222.8,372.7h0M223.0,370.9h0M223.3,371.3h0M223.5,371.3h0M223.7,372.1h0M223.9,373.4h0M224.1,373.4h0M224.3,372.0h0M224.6,371.8h0M224.8,373.9h0M225.0,372.9h0M225.2,373.7h0M225.4,371.9h0M225.6,374.6h0M225.8,373.0h0M226.1,373.8h0M226.3,373.0h0M226.5,373.9h0M226.7,375.4h0M226.9,375.5h0M227.1,374.6h0M227.4,375.7h0M227.6,374.9h0M227.8,374.8h0M228.0,375.5h0M228.2,374.6h0M228.4,375.1h0M228.6,376.6h0M228.9,377.0h0M229.1,374.8h0M229.3,377.2h0M229.5,377.6h0M229.7,376.6h0M229.9,375.5h0M230.2,378.0h0M230.4,377.0h0M230.6,378.8h0M230.8,378.5h0M231.0,379.8h0M231.2,379.1h0M231.4,380.3h0M231.7,381.0h0M231.9,381.8h0M232.1,380.9h0M232.3,383.9h0M232.5,382.2h0M232.7,382.7h0M233.0,383.1h0M233.2,382.7h0M233.4,384.1h0M233.6,385.5h0M233.8,385.5h0M234.0,384.0h0M234.2,384.0h0M234.5,384.9h0M234.7,386.6h0M234.9,385.9h0M235.1,387.6h0M235.3,386.9h0M235.5,387.0h0M235.8,387.7h0M236.0,387.8h0M236.2,386.6h0M236.4,386.6h0M236.6,387.4h0M236.8,387.8h0M237.0,386.8h0M237.3,388.0h0M237.5,388.8h0M237.7,387.2h0M237.9,387.3h0M238.1,387.6h0M238.3,388.1h0M238.6,390.6h0M238.8,387.4h0M239.0,388.1h0M239.2,388.1h0M239.4,389.3h0M239.6,387.8h0M239.8,389.5h0M240.1,388.6h0M240.3,389.1h0M240.5,391.1h0M240.7,389.0h0M240.9,390.7h0M241.1,390.0h0M241.4,390.2h0M241.6,391.8h0M241.8,389.5h0M242.0,392.4h0M242.2,392.4h0M242.4,391.7h0M242.7,389.6h0M242.9,391.9h0M243.1,391.8h0M243.3,392.6h0M243.5,390.6h0M243.7,393.5h0M243.9,393.3h0M244.2,390.6h0M244.4,391.5h0M244.6,390.5h0M244.8,393.6h0M245.0,394.1h0M245.2,394.7h0M245.5,393.7h0M245.7,394.2h0M245.9,394.6h0M246.1,394.6h0M246.3,396.4h0M246.5,395.5h0M246.7,394.8h0M247.0,395.8h0M247.2,394.3h0M247.4,397.3h0M247.6,397.6h0M247.8,396.9h0M248.0,398.9h0M248.3,398.6h0M248.5,397.1h0M248.7,396.2h0M248.9,396.5h0M249.1,396.8h0M249.3,397.4h0M249.5,398.0h0M249.8,400.0h0M250.0,397.6h0M250.2,400.1h0M250.4,399.3h0M250.6,400.1h0M250.8,398.5h0M251.1,397.0h0M251.3,400.1h0M251.5,398.1h0M251.7,397.8h0M251.9,400.5h0M252.1,400.2h0M252.3,398.4h0M252.6,398.7h0M252.8,401.5h0M253.0,399.0h0M253.2,400.8h0M253.4,398.6h0M253.6,401.4h0M253.9,398.8h0M254.1,400.4h0M254.3,398.6h0M254.5,400.8h0M254.7,402.1h0M254.9,399.1h0M255.1,400.0h0M255.4,402.1h0M255.6,401.5h0M255.8,400.5h0M256.0,401.8h0M256.2,401.2h0M256.4,403.0h0M256.7,400.8h0M256.9,402.8h0M257.1,402.4h0M257.3,402.9h0M257.5,401.5h0M257.7,403.0h0M258.0,403.0h0M258.2,401.9h0M258.4,400.5h0M258.6,404.5h0M258.8,403.7h0M259.0,401.8h0M259.2,404.2h0M259.5,402.6h0M259.7,403.6h0M259.9,405.4h0M260.1,403.9h0M260.3,403.5h0M260.5,403.8h0M260.8,403.1h0M261.0,403.9h0M261.2,404.3h0M261.4,404.1h0M261.6,403.9h0M261.8,405.8h0M262.0,404.9h0M262.3,407.3h0M262.5,408.3h0M262.7,405.8h0M262.9,407.3h0M263.1,407.1h0M263.3,405.4h0M263.6,405.6h0M263.8,408.9h0M264.0,407.2h0M264.2,408.7h0M264.4,405.7h0M264.6,408.0h0M264.8,409.2h0M265.1,409.3h0M265.3,405.7h0M265.5,407.9h0M265.7,407.4h0M265.9,409.1h0M266.1,406.2h0M266.4,407.1h0M266.6,409.6h0M266.8,408.1h0M267.0,408.1h0M267.2,410.4h0M267.4,407.7h0M267.6,406.6h0M267.9,408.2h0M268.1,407.2h0M268.3,407.0h0M268.5,409.1h0M268.7,410.9h0M268.9,409.3h0M269.2,409.7h0M269.4,408.4h0M269.6,409.5h0M269.8,410.4h0M270.0,409.7h0M270.2,410.7h0M270.4,409.7h0M270.7,408.2h0M270.9,410.0h0M271.1,409.7h0M271.3,408.3h0M271.5,410.4h0M271.7,411.3h0M272.0,408.4h0M272.2,410.4h0M272.4,411.4h0M272.6,410.2h0M272.8,409.8h0M273.0,410.5h0M273.2,411.4h0M273.5,412.3h0M273.7,411.9h0M273.9,410.1h0M274.1,413.5h0M274.3,414.2h0M274.5,410.7h0M274.8,411.6h0M275.0,411.5h0M275.2,414.6h0M275.4,414.9h0M275.6,411.0h0M275.8,412.3h0M276.1,411.7h0M276.3,413.0h0M276.5,415.1h0M276.7,411.2h0M276.9,411.7h0M277.1,413.1h0M277.3,413.3h0M277.6,414.4h0M277.8,413.0h0M278.0,411.6h0M278.2,412.6h0M278.4,415.5h0M278.6,414.5h0M278.9,411.6h0M279.1,414.8h0M279.3,412.5h0M279.5,414.7h0M279.7,411.2h0M279.9,415.2h0M280.1,411.9h0M280.4,413.3h0M280.6,414.3h0M280.8,413.6h0M281.0,412.0h0M281.2,411.9h0M281.4,412.6h0M281.7,411.5h0M281.9,412.3h0M282.1,411.9h0M282.3,413.5h0M282.5,413.1h0M282.7,414.2h0M282.9,412.8h0M283.2,411.6h0M283.4,413.1h0M283.6,415.1h0M283.8,412.8h0M284.0,413.5h0M284.2,415.2h0M284.5,413.6h0M284.7,415.9h0M284.9,416.1h0M285.1,413.2h0M285.3,415.3h0M285.5,413.0h0M285.7,412.5h0M286.0,414.0h0M286.2,414.8h0M286.4,416.4h0M286.6,412.7h0M286.8,415.4h0M287.0,414.3h0M287.3,412.7h0M287.5,416.8h0M287.7,415.5h0M287.9,412.8h0M288.1,416.6h0M288.3,412.7h0M288.5,412.7h0M288.8,413.9h0M289.0,416.9h0M289.2,412.5h0M289.4,416.9h0M289.6,415.4h0M289.8,412.7h0M290.1,415.2h0M290.3,414.7h0M290.5,415.3h0M290.7,416.2h0M290.9,415.9h0M291.1,417.5h0M291.3,413.4h0M291.6,416.7h0M291.8,414.7h0M292.0,416.6h0M292.2,417.2h0M292.4,417.7h0M292.6,414.1h0M292.9,415.1h0M293.1,417.5h0M293.3,417.6h0M293.5,414.7h0M293.7,417.6h0M293.9,415.0h0M294.2,414.8h0M294.4,416.8h0M294.6,415.4h0M294.8,415.3h0M295.0,415.0h0M295.2,415.2h0M295.4,413.8h0M295.7,413.4h0M295.9,417.0h0M296.1,416.0h0M296.3,416.6h0M296.5,417.3h0M296.7,414.4h0M297.0,414.4h0M297.2,414.7h0M297.4,414.8h0M297.6,417.2h0M297.8,415.2h0M298.0,415.0h0M298.2,416.6h0M298.5,414.4h0M298.7,414.0h0M298.9,417.0h0M299.1,417.4h0M299.3,415.0h0M299.5,416.8h0M299.8,413.7h0M300.0,415.7h0M300.2,415.4h0M300.4,416.6h0M300.6,415.6h0M300.8,418.2h0M301.0,417.4h0M301.3,418.1h0M301.5,418.5h0M301.7,417.4h0M301.9,418.4h0M302.1,415.2h0M302.3,416.8h0M302.6,415.6h0M302.8,415.3h0M303.0,415.8h0M303.2,417.8h0M303.4,416.3h0M303.6,417.5h0M303.8,417.7h0M304.1,418.9h0M304.3,418.7h0M304.5,417.0h0M304.7,418.0h0M304.9,416.3h0M305.1,416.2h0M305.4,418.3h0M305.6,419.3h0M305.8,416.2h0M306.0,417.7h0M306.2,418.2h0M306.4,418.7h0M306.6,418.1h0M306.9,417.4h0M307.1,419.5h0M307.3,417.5h0M307.5,419.8h0M307.7,419.4h0M307.9,419.4h0M308.2,419.7h0M308.4,420.5h0M308.6,420.6h0M308.8,418.3h0M309.0,417.8h0M309.2,419.2h0M309.4,420.3h0M309.7,418.7h0M309.9,416.7h0M310.1,416.7h0M310.3,417.9h0M310.5,419.2h0M310.7,419.6h0M311.0,417.4h0M311.2,417.8h0M311.4,417.7h0M311.6,416.3h0M311.8,416.0h0M312.0,417.5h0M312.3,417.3h0M312.5,418.9h0M312.7,416.0h0M312.9,418.7h0M313.1,416.0h0M313.3,417.0h0M313.5,417.7h0M313.8,415.4h0M314.0,418.8h0M314.2,418.8h0M314.4,418.8h0M314.6,414.6h0M314.8,416.9h0M315.1,416.9h0M315.3,418.0h0M315.5,414.2h0M315.7,414.1h0M315.9,417.4h0M316.1,413.9h0M316.3,413.9h0M316.6,413.9h0M316.8,416.2h0M317.0,415.5h0M317.2,416.7h0M317.4,417.0h0M317.6,413.2h0M317.9,417.8h0M318.1,417.4h0M318.3,417.7h0M318.5,416.5h0M318.7,414.1h0M318.9,413.3h0M319.1,418.2h0M319.4,414.1h0M319.6,414.5h0M319.8,415.8h0M320.0,415.7h0M320.2,415.7h0M320.4,415.2h0M320.7,414.5h0M320.9,416.2h0M321.1,413.8h0M321.3,413.1h0M321.5,417.2h0M321.7,416.7h0M321.9,412.1h0M322.2,412.6h0M322.4,412.2h0M322.6,417.2h0M322.8,417.3h0M323.0,412.9h0M323.2,415.0h0M323.5,412.0h0M323.7,413.5h0M323.9,415.4h0M324.1,413.3h0M324.3,416.1h0M324.5,416.9h0M324.7,412.2h0M325.0,415.2h0M325.2,413.3h0M325.4,412.3h0M325.6,417.5h0M325.8,413.8h0M326.0,416.6h0M326.3,415.6h0M326.5,411.7h0M326.7,411.7h0M326.9,417.2h0M327.1,414.0h0M327.3,414.3h0M327.6,412.8h0M327.8,415.8h0M328.0,413.9h0M328.2,414.0h0M328.4,412.1h0M328.6,415.2h0M328.8,411.7h0M329.1,411.4h0M329.3,413.8h0M329.5,415.4h0M329.7,411.8h0M329.9,411.8h0M330.1,411.0h0M330.4,413.5h0M330.6,414.6h0M330.8,410.6h0M331.0,412.8h0M331.2,412.8h0M331.4,410.3h0M331.6,412.6h0M331.9,410.9h0M332.1,410.5h0M332.3,416.0h0M332.5,409.8h0M332.7,411.0h0M332.9,412.7h0M333.2,411.2h0M333.4,409.3h0M333.6,414.3h0M333.8,409.9h0M334.0,410.8h0M334.2,414.2h0M334.4,414.6h0M334.7,414.0h0M334.9,410.4h0M335.1,412.4h0M335.3,413.1h0M335.5,414.1h0M335.7,413.7h0M336.0,408.4h0M336.2,411.2h0M336.4,408.8h0M336.6,408.6h0M336.8,408.2h0M337.0,412.6h0M337.2,408.0h0M337.5,412.1h0M337.7,407.9h0M337.9,408.5h0M338.1,407.8h0M338.3,412.1h0M338.5,407.2h0M338.8,410.9h0M339.0,407.7h0M339.2,411.2h0M339.4,409.8h0M339.6,407.1h0M339.8,408.1h0M340.0,406.5h0M340.3,407.3h0M340.5,405.9h0M340.7,408.5h0M340.9,407.9h0M341.1,406.2h0M341.3,405.3h0M341.6,409.6h0M341.8,405.3h0M342.0,406.0h0M342.2,404.8h0M342.4,406.0h0M342.6,406.0h0M342.8,406.6h0M343.1,405.4h0M343.3,405.0h0M343.5,408.0h0M343.7,404.9h0M343.9,405.0h0M344.1,405.8h0M344.4,404.5h0M344.6,407.3h0M344.8,403.5h0M345.0,404.5h0M345.2,405.0h0M345.4,403.9h0M345.7,408.1h0M345.9,404.3h0M346.1,409.5h0M346.3,405.0h0M346.5,408.0h0M346.7,403.4h0M346.9,407.9h0M347.2,409.0h0M347.4,403.6h0M347.6,402.5h0M347.8,407.6h0M348.0,403.8h0M348.2,403.3h0M348.5,402.6h0M348.7,406.0h0M348.9,408.9h0M349.1,408.4h0M349.3,405.8h0M349.5,404.6h0M349.7,409.3h0M350.0,406.3h0M350.2,409.1h0M350.4,406.6h0M350.6,406.6h0M350.8,406.7h0M351.0,402.5h0M351.3,403.2h0M351.5,402.3h0M351.7,408.3h0M351.9,408.8h0M352.1,405.3h0M352.3,402.5h0M352.5,402.3h0M352.8,404.0h0M353.0,403.6h0M353.2,402.5h0M353.4,402.1h0M353.6,405.0h0M353.8,405.9h0M354.1,401.9h0M354.3,402.8h0M354.5,402.6h0M354.7,403.8h0M354.9,404.1h0M355.1,402.9h0M355.3,406.5h0M355.6,402.5h0M355.8,402.0h0M356.0,404.5h0M356.2,404.8h0M356.4,404.9h0M356.6,400.8h0M356.9,400.7h0M357.1,401.8h0M357.3,399.7h0M357.5,402.4h0M357.7,402.2h0M357.9,400.3h0M358.1,404.6h0M358.4,399.3h0M358.6,401.1h0M358.8,401.7h0M359.0,402.6h0M359.2,402.5h0M359.4,399.3h0M359.7,398.5h0M359.9,397.3h0M360.1,399.9h0M360.3,398.0h0M360.5,397.1h0M360.7,401.4h0M360.9,401.6h0M361.2,399.2h0M361.4,397.7h0M361.6,399.5h0M361.8,395.3h0M362.0,398.4h0M362.2,400.1h0M362.5,400.9h0M362.7,399.3h0M362.9,396.0h0M363.1,392.7h0M363.3,397.5h0M363.5,399.0h0M363.8,400.8h0M364.0,389.6h0M364.2,388.5h0M364.4,394.7h0M364.6,397.8h0M364.8,388.0h0M365.0,394.3h0M365.3,389.8h0M365.5,400.4h0M365.7,390.9h0M365.9,388.4h0M366.1,388.2h0M366.3,390.4h0M366.6,391.7h0M366.8,389.1h0M367.0,390.9h0M367.2,389.2h0M367.4,390.3h0M367.6,393.6h0M367.8,390.7h0M368.1,394.6h0M368.3,397.5h0M368.5,393.5h0M368.7,389.2h0M368.9,398.0h0M369.1,390.2h0M369.4,391.3h0M369.6,392.9h0M369.8,393.8h0M370.0,391.2h0M370.2,392.0h0M370.4,389.3h0M370.6,392.0h0M370.9,390.7h0M371.1,391.5h0M371.3,391.3h0M371.5,390.6h0M371.7,392.9h0M371.9,392.1h0M372.2,391.2h0M372.4,393.6h0M372.6,394.5h0M372.8,392.9h0M373.0,396.2h0M373.2,395.4h0M373.4,388.7h0M373.7,395.8h0M373.9,390.3h0M374.1,390.0h0M374.3,393.8h0M374.5,391.9h0M374.7,394.9h0M375.0,393.8h0M375.2,387.5h0M375.4,389.8h0M375.6,391.9h0M375.8,386.9h0M376.0,393.6h0M376.2,393.3h0M376.5,387.1h0M376.7,386.3h0M376.9,387.0h0M377.1,387.1h0M377.3,386.6h0M377.5,387.3h0M377.8,389.9h0M378.0,387.4h0M378.2,387.7h0M378.4,385.0h0M378.6,384.7h0M378.8,389.4h0M379.0,385.4h0M379.3,388.8h0M379.5,384.9h0M379.7,386.2h0M379.9,386.0h0M380.1,382.8h0M380.3,382.2h0M380.6,383.4h0M380.8,381.1h0M381.0,380.7h0M381.2,378.9h0M381.4,378.5h0M381.6,378.8h0M381.9,376.2h0M382.1,375.3h0M382.3,376.2h0M382.5,378.6h0M382.7,368.7h0M382.9,384.1h0M383.1,372.9h0M383.4,381.9h0M383.6,368.1h0M383.8,368.4h0M384.0,368.8h0M384.2,381.1h0M384.4,372.4h0M384.7,379.6h0M384.9,376.8h0M385.1,368.9h0M385.3,371.8h0M385.5,371.4h0M385.7,373.0h0M385.9,377.5h0M386.2,368.7h0M386.4,380.4h0M386.6,373.3h0M386.8,371.9h0M387.0,376.4h0M387.2,370.9h0M387.5,381.2h0M387.7,372.4h0M387.9,373.2h0M388.1,370.0h0M388.3,370.1h0M388.5,378.4h0M388.7,374.2h0M389.0,372.2h0M389.2,376.9h0M389.4,378.9h0M389.6,369.4h0M389.8,380.1h0M390.0,368.4h0M390.3,374.1h0M390.5,369.9h0M390.7,369.7h0M390.9,372.3h0M391.1,373.6h0M391.3,371.3h0M391.5,374.8h0M391.8,378.4h0M392.0,368.0h0M392.2,368.4h0M392.4,372.8h0M392.6,370.0h0M392.8,368.7h0M393.1,370.8h0M393.3,365.8h0M393.5,376.8h0M393.7,377.3h0M393.9,375.1h0M394.1,368.0h0M394.3,376.0h0M394.6,372.9h0M394.8,365.5h0M395.0,376.9h0M395.2,365.9h0M395.4,371.9h0M395.6,372.0h0M395.9,375.7h0M396.1,371.2h0M396.3,377.0h0M396.5,363.0h0M396.7,377.2h0M396.9,363.8h0M397.2,369.0h0M397.4,366.4h0M397.6,362.1h0M397.8,362.9h0M398.0,367.8h0M398.2,364.6h0M398.4,370.0h0M398.7,364.5h0M398.9,371.1h0M399.1,368.2h0M399.3,362.9h0M399.5,360.1h0M399.7,355.6h0M400.0,357.7h0M400.2,354.1h0M400.4,357.3h0M400.6,352.7h0M400.8,358.4h0M401.0,353.2h0M401.2,352.3h0M401.5,358.9h0M401.7,352.6h0M401.9,355.0h0M402.1,353.9h0M402.3,352.6h0M402.5,356.4h0M402.8,352.6h0M403.0,352.1h0M403.2,358.8h0M403.4,354.7h0M403.6,357.7h0M403.8,354.8h0M404.0,355.0h0M404.3,352.6h0M404.5,353.7h0M404.7,354.1h0M404.9,352.4h0M405.1,358.3h0M405.3,351.2h0M405.6,350.8h0M405.8,351.8h0M406.0,357.0h0M406.2,357.7h0M406.4,353.6h0M406.6,351.0h0M406.8,354.2h0M407.1,356.6h0M407.3,348.9h0M407.5,353.7h0M407.7,354.1h0M407.9,349.4h0M408.1,346.6h0M408.4,351.8h0M408.6,346.5h0M408.8,347.9h0M409.0,350.0h0M409.2,357.5h0M409.4,344.5h0M409.6,343.5h0M409.9,348.7h0M410.1,355.6h0M410.3,342.6h0M410.5,349.8h0M410.7,342.1h0M410.9,356.0h0M411.2,342.3h0M411.4,349.4h0M411.6,344.6h0M411.8,348.9h0M412.0,343.0h0M412.2,341.0h0M412.4,341.8h0M412.7,342.6h0M412.9,341.2h0M413.1,341.4h0M413.3,345.8h0M413.5,344.0h0M413.7,350.3h0M414.0,344.5h0M414.2,345.0h0M414.4,347.6h0M414.6,350.0h0M414.8,345.1h0M415.0,338.3h0M415.3,342.8h0M415.5,337.9h0M415.7,344.7h0M415.9,337.4h0M416.1,343.2h0M416.3,337.9h0M416.5,348.1h0M416.8,336.9h0M417.0,336.0h0M417.2,344.5h0M417.4,337.6h0M417.6,341.9h0M417.8,337.5h0M418.1,336.2h0M418.3,335.8h0M418.5,333.2h0M418.7,332.7h0M418.9,332.6h0M419.1,333.4h0M419.3,331.9h0M419.6,342.7h0M419.8,337.1h0M420.0,335.7h0M420.2,337.4h0M420.4,341.5h0M420.6,345.5h0M420.9,335.0h0M421.1,331.3h0M421.3,334.3h0M421.5,343.7h0M421.7,343.5h0M421.9,332.3h0M422.1,326.0h0M422.4,325.9h0M422.6,325.6h0M422.8,336.5h0M423.0,339.2h0M423.2,324.3h0M423.4,323.7h0M423.7,323.4h0M423.9,330.1h0M424.1,323.5h0M424.3,329.0h0M424.5,330.3h0M424.7,321.5h0M424.9,333.4h0M425.2,322.9h0M425.4,326.8h0M425.6,323.4h0M425.8,319.5h0M426.0,323.3h0M426.2,318.8h0M426.5,322.9h0M426.7,320.3h0M426.9,321.2h0M427.1,318.4h0M427.3,320.1h0M427.5,325.5h0M427.7,330.7h0M428.0,317.2h0M428.2,327.5h0M428.4,315.1h0M428.6,315.4h0M428.8,329.1h0M429.0,326.4h0M429.3,315.7h0M429.5,314.2h0M429.7,321.1h0M429.9,326.7h0M430.1,324.1h0M430.3,317.3h0M430.5,314.5h0M430.8,314.2h0M431.0,312.7h0M431.2,311.1h0M431.4,321.0h0M431.6,310.8h0M431.8,312.9h0M432.1,312.2h0M432.3,309.8h0M432.5,313.8h0M432.7,318.1h0M432.9,310.1h0M433.1,314.1h0M433.4,315.7h0M433.6,309.1h0M433.8,315.1h0M434.0,312.8h0M434.2,311.3h0M434.4,307.0h0M434.6,305.5h0M434.9,305.2h0M435.1,312.1h0M435.3,310.5h0M435.5,302.9h0M435.7,306.1h0M435.9,302.3h0M436.2,307.8h0M436.4,304.7h0M436.6,309.5h0M436.8,305.7h0M437.0,309.5h0M437.2,299.8h0M437.4,302.0h0M437.7,306.9h0M437.9,298.2h0M438.1,295.7h0M438.3,296.1h0M438.5,295.2h0M438.7,293.7h0M439.0,295.3h0M439.2,293.6h0M439.4,296.7h0M439.6,303.2h0M439.8,305.1h0M440.0,290.4h0M440.2,304.4h0M440.5,297.4h0M440.7,289.1h0M440.9,294.1h0M441.1,288.9h0M441.3,290.8h0M441.5,289.9h0M441.8,298.1h0M442.0,288.0h0M442.2,292.2h0M442.4,292.6h0M442.6,288.2h0M442.8,298.2h0M443.0,287.4h0M443.3,287.0h0M443.5,292.2h0M443.7,288.5h0M443.9,291.9h0M444.1,283.5h0M444.3,295.9h0M444.6,290.7h0M444.8,285.1h0M445.0,291.7h0M445.2,282.5h0M445.4,282.2h0M445.6,280.1h0M445.8,282.6h0M446.1,279.5h0M446.3,279.4h0M446.5,286.2h0M446.7,277.8h0M446.9,281.0h0M447.1,285.3h0M447.4,280.2h0M447.6,282.2h0M447.8,286.6h0M448.0,273.4h0M448.2,283.3h0M448.4,276.5h0M448.6,270.9h0M448.9,269.8h0M449.1,271.8h0M449.3,269.2h0M449.5,278.4h0M449.7,274.2h0M449.9,267.3h0M450.2,279.5h0M450.4,273.8h0M450.6,270.9h0M450.8,266.7h0M451.0,270.6h0M451.2,265.0h0M451.5,271.8h0M451.7,269.4h0M451.9,271.5h0M452.1,270.1h0M452.3,271.0h0M452.5,264.4h0M452.7,263.4h0M453.0,261.8h0M453.2,273.3h0M453.4,260.6h0M453.6,262.4h0M453.8,267.1h0M454.0,265.1h0M454.3,272.8h0M454.5,260.0h0M454.7,258.6h0M454.9,257.5h0M455.1,263.4h0M455.3,259.8h0M455.5,262.1h0M455.8,266.2h0M456.0,259.4h0M456.2,265.1h0M456.4,255.4h0M456.6,255.1h0M456.8,271.6h0M457.1,269.8h0M457.3,261.9h0M457.5,270.4h0M457.7,255.8h0M457.9,256.4h0M458.1,258.5h0M458.3,259.3h0M458.6,265.3h0M458.8,257.6h0M459.0,252.0h0M459.2,261.9h0M459.4,253.2h0M459.6,265.4h0M459.9,252.5h0M460.1,253.4h0M460.3,251.0h0M460.5,252.9h0M460.7,257.9h0M460.9,251.8h0M461.1,248.9h0M461.4,256.8h0M461.6,259.6h0M461.8,248.5h0M462.0,252.7h0M462.2,247.5h0M462.4,246.9h0M462.7,250.7h0M462.9,248.9h0M463.1,259.3h0M463.3,245.2h0M463.5,253.6h0M463.7,254.8h0M463.9,248.6h0M464.2,249.5h0M464.4,245.3h0M464.6,244.9h0M464.8,242.4h0M465.0,255.2h0M465.2,241.4h0M465.5,241.8h0M465.7,240.4h0M465.9,245.2h0M466.1,245.6h0M466.3,241.9h0M466.5,239.9h0M466.8,249.5h0M467.0,238.7h0M467.2,240.2h0M467.4,247.3h0M467.6,239.4h0M467.8,250.4h0M468.0,237.0h0M468.3,241.5h0M468.5,241.2h0M468.7,249.6h0M468.9,234.0h0M469.1,233.7h0M469.3,239.6h0M469.6,243.6h0M469.8,232.5h0M470.0,238.3h0M470.2,236.2h0M470.4,235.3h0M470.6,237.0h0M470.8,238.2h0M471.1,239.4h0M471.3,243.2h0M471.5,237.9h0M471.7,245.1h0M471.9,237.5h0M472.1,230.2h0M472.4,228.2h0M472.6,227.0h0M472.8,229.0h0M473.0,226.6h0M473.2,236.4h0M473.4,236.3h0M473.6,234.3h0M473.9,244.1h0M474.1,230.4h0M474.3,226.1h0M474.5,241.5h0M474.7,222.1h0M474.9,221.6h0M475.2,231.5h0M475.4,243.6h0M475.6,238.9h0M475.8,228.3h0M476.0,225.3h0M476.2,219.4h0M476.4,222.7h0M476.7,230.0h0M476.9,221.9h0M477.1,217.4h0M477.3,228.9h0M477.5,221.2h0M477.7,237.3h0M478.0,231.7h0M478.2,232.5h0M478.4,238.5h0M478.6,235.3h0M478.8,219.6h0M479.0,226.4h0M479.2,217.1h0M479.5,215.4h0M479.7,215.0h0M479.9,212.9h0M480.1,215.5h0M480.3,215.0h0M480.5,228.8h0M480.8,215.4h0M481.0,211.2h0M481.2,219.7h0M481.4,213.7h0M481.6,210.3h0M481.8,213.8h0M482.0,223.3h0M482.3,212.5h0M482.5,220.5h0M482.7,233.9h0M482.9,215.0h0M483.1,221.3h0M483.3,218.4h0M483.6,209.7h0M483.8,208.9h0M484.0,231.5h0M484.2,214.9h0M484.4,237.2h0M484.6,216.5h0M484.9,230.4h0M485.1,210.8h0M485.3,218.0h0M485.5,219.8h0M485.7,227.2h0M485.9,207.5h0M486.1,213.4h0M486.4,215.8h0M486.6,218.3h0M486.8,208.2h0M487.0,216.1h0M487.2,219.3h0M487.4,219.7h0M487.7,208.5h0M487.9,212.0h0M488.1,209.0h0M488.3,210.1h0M488.5,209.3h0M488.7,219.9h0M488.9,204.6h0M489.2,218.9h0M489.4,203.9h0M489.6,203.7h0M489.8,204.6h0M490.0,205.3h0M490.2,215.5h0M490.5,201.6h0M490.7,216.6h0M490.9,205.3h0M491.1,200.3h0M491.3,209.1h0M491.5,215.1h0M491.7,199.8h0M492.0,213.0h0M492.2,198.1h0M492.4,210.3h0M492.6,197.2h0M492.8,214.5h0M493.0,213.4h0M493.3,196.2h0M493.5,203.5h0M493.7,198.0h0M493.9,201.6h0M494.1,194.7h0M494.3,199.3h0M494.5,200.0h0M494.8,193.0h0M495.0,201.4h0M495.2,213.4h0M495.4,193.4h0M495.6,215.1h0M495.8,201.8h0M496.1,195.6h0M496.3,216.1h0M496.5,201.4h0M496.7,200.5h0M496.9,199.1h0M497.1,213.4h0M497.3,194.2h0M497.6,195.6h0M497.8,197.0h0M498.0,193.2h0M498.2,212.8h0M498.4,202.1h0M498.6,205.3h0M498.9,214.2h0M499.1,202.1h0M499.3,196.7h0M499.5,202.8h0M499.7,201.8h0M499.9,197.0h0M500.1,195.6h0M500.4,198.1h0M500.6,207.6h0M500.8,194.3h0M501.0,215.1h0M501.2,195.3h0M501.4,195.9h0M501.7,193.3h0M501.9,197.8h0M502.1,197.2h0M502.3,203.7h0M502.5,208.7h0M502.7,194.3h0M503.0,205.4h0M503.2,194.8h0M503.4,196.1h0M503.6,191.9h0M503.8,205.1h0M504.0,194.6h0M504.2,200.0h0M504.5,190.0h0M504.7,198.9h0M504.9,191.0h0M505.1,193.6h0M505.3,196.7h0M505.5,188.2h0M505.8,192.4h0M506.0,197.6h0M506.2,185.3h0M506.4,188.8h0M506.6,183.7h0M506.8,182.2h0M507.0,186.9h0M507.3,185.5h0M507.5,188.8h0M507.7,193.7h0M507.9,189.2h0M508.1,180.0h0M508.3,182.5h0M508.6,196.9h0M508.8,191.4h0M509.0,196.6h0M509.2,181.1h0M509.4,172.8h0M509.6,191.7h0M509.8,175.2h0M510.1,177.9h0M510.3,191.9h0M510.5,173.1h0M510.7,192.7h0M510.9,173.1h0M511.1,169.6h0M511.4,179.6h0M511.6,195.3h0M511.8,176.3h0M512.0,189.5h0M512.2,175.8h0M512.4,188.2h0M512.6,169.4h0M512.9,172.5h0M513.1,169.1h0M513.3,185.1h0M513.5,176.6h0M513.7,182.1h0M513.9,194.1h0M514.2,184.4h0M514.4,193.5h0M514.6,167.1h0M514.8,166.2h0M515.0,188.4h0M515.2,187.6h0M515.4,188.2h0M515.7,169.0h0M515.9,177.6h0M516.1,166.2h0M516.3,173.5h0M516.5,165.0h0M516.7,168.9h0M517.0,172.8h0M517.2,171.2h0M517.4,165.3h0M517.6,164.9h0M517.8,183.2h0M518.0,164.0h0M518.2,190.2h0M518.5,186.8h0M518.7,189.9h0M518.9,182.5h0M519.1,163.3h0M519.3,164.5h0M519.5,168.4h0M519.8,165.3h0M520.0,163.2h0M520.2,186.1h0M520.4,185.7h0M520.6,180.6h0M520.8,166.0h0M521.1,183.2h0M521.3,181.9h0M521.5,167.2h0M521.7,163.0h0M521.9,163.0h0M522.1,168.8h0M522.3,187.4h0M522.6,161.7h0M522.8,168.9h0M523.0,166.8h0M523.2,182.9h0M523.4,160.4h0M523.6,174.7h0M523.9,165.5h0M524.1,174.1h0M524.3,179.6h0M524.5,159.7h0M524.7,180.1h0M524.9,159.3h0M525.1,213.1h0M525.4,202.6h0M525.6,221.0h0M525.8,215.8h0M526.0,207.9h0M526.2,205.2h0M526.4,200.0h0M526.7,218.4h0M526.9,210.5h0M527.1,181.7h0M527.3,161.4h0M527.5,181.9h0M527.7,173.9h0M527.9,156.5h0M528.2,171.5h0M528.4,149.8h0M528.6,149.1h0M528.8,163.2h0M529.0,165.8h0M529.2,160.6h0M529.5,178.0h0M529.7,160.6h0M529.9,145.6h0M530.1,143.4h0M530.3,149.7h0M530.5,156.0h0M530.7,144.9h0M531.0,142.1h0M531.2,150.0h0M531.4,147.8h0M531.6,142.2h0M531.8,170.9h0M532.0,171.5h0M532.3,135.0h0M532.5,148.4h0M532.7,138.9h0M532.9,141.8h0M533.1,132.5h0M533.3,133.2h0M533.5,131.9h0M533.8,133.3h0M534.0,172.5h0M534.2,131.3h0M534.4,129.6h0M534.6,160.5h0M534.8,135.4h0M535.1,153.9h0M535.3,168.2h0M535.5,129.3h0M535.7,146.2h0M535.9,141.3h0M536.1,134.3h0M536.4,133.0h0M536.6,126.1h0M536.8,148.8h0M537.0,128.4h0M537.2,137.0h0M537.4,164.5h0M537.6,132.9h0M537.9,131.1h0M538.1,164.3h0M538.3,143.4h0M538.5,142.6h0M538.7,126.6h0M538.9,146.3h0M539.2,132.8h0M539.4,140.8h0M539.6,133.5h0M539.8,121.6h0M540.0,160.1h0M540.2,148.7h0M540.4,165.3h0M540.7,129.0h0M540.9,127.8h0M541.1,122.5h0M541.3,128.7h0M541.5,129.4h0M541.7,123.7h0M542.0,126.7h0M542.2,127.8h0M542.4,158.4h0M542.6,134.6h0M542.8,155.9h0M543.0,119.3h0M543.2,123.2h0M543.5,164.5h0M543.7,118.9h0M543.9,119.2h0M544.1,137.7h0M544.3,126.6h0M544.5,122.7h0M544.8,142.5h0M545.0,142.5h0M545.2,122.1h0M545.4,117.2h0M545.6,133.8h0M545.8,156.9h0M546.0,118.0h0M546.3,123.3h0M546.5,139.4h0M546.7,116.9h0M546.9,116.3h0M547.1,165.0h0M547.3,126.8h0M547.6,151.8h0M547.8,123.2h0M548.0,163.4h0M548.2,121.5h0M548.4,115.5h0M548.6,116.6h0M548.8,132.6h0M549.1,115.7h0M549.3,165.6h0M549.5,183.7h0M549.7,138.5h0M549.9,141.8h0M550.1,130.0h0M550.4,158.7h0M550.6,147.0h0M550.8,130.4h0M551.0,123.1h0M551.2,117.5h0M551.4,124.4h0M551.6,166.7h0M551.9,115.2h0M552.1,161.1h0M552.3,121.4h0M552.5,135.8h0M552.7,114.3h0M552.9,136.3h0M553.2,142.0h0M553.4,114.3h0M553.6,164.6h0M553.8,112.3h0M554.0,120.3h0M554.2,147.1h0M554.5,122.6h0M554.7,156.6h0M554.9,116.5h0M555.1,119.5h0M555.3,142.1h0M555.5,154.2h0M555.7,155.8h0M556.0,115.6h0M556.2,164.9h0M556.4,121.1h0M556.6,138.5h0M556.8,109.8h0M557.0,150.6h0M557.3,138.5h0M557.5,104.7h0M557.7,110.0h0M557.9,109.8h0M558.1,97.3h0M558.3,112.8h0M558.5,119.6h0M558.8,134.9h0M559.0,106.7h0M559.2,129.8h0M559.4,101.4h0M559.6,95.2h0M559.8,96.1h0M560.1,110.3h0M560.3,101.2h0M560.5,114.2h0M560.7,104.6h0M560.9,119.3h0M561.1,99.5h0M561.3,105.4h0M561.6,108.5h0M561.8,99.4h0M562.0,102.1h0M562.2,112.6h0M562.4,92.3h0M562.6,98.0h0M562.9,92.4h0M563.1,112.1h0M563.3,99.9h0M563.5,116.4h0M563.7,109.2h0M563.9,97.5h0M564.1,112.1h0M564.4,90.8h0M564.6,90.8h0M564.8,90.7h0M565.0,103.2h0M565.2,115.5h0M565.4,98.0h0M565.7,97.4h0M565.9,104.9h0M566.1,98.0h0M566.3,107.0h0M566.5,101.5h0M566.7,108.2h0M566.9,111.0h0M567.2,102.5h0M567.4,114.2h0M567.6,109.4h0M567.8,112.1h0M568.0,90.0h0M568.2,89.9h0M568.5,104.4h0M568.7,95.6h0M568.9,112.6h0M569.1,97.1h0M569.3,108.0h0M569.5,93.4h0M569.7,104.1h0M570.0,113.6h0M570.2,112.2h0M570.4,96.1h0M570.6,99.3h0M570.8,89.1h0M571.0,117.5h0M571.3,99.3h0M571.5,116.1h0M571.7,112.8h0M571.9,94.9h0M572.1,106.0h0M572.3,115.7h0M572.6,96.7h0M572.8,112.1h0M573.0,110.4h0M573.2,113.8h0M573.4,91.7h0M573.6,115.5h0M573.8,117.8h0M574.1,95.2h0M574.3,106.1h0M574.5,92.8h0M574.7,105.6h0M574.9,109.3h0M575.1,110.8h0M575.4,115.4h0M575.6,98.2h0M575.8,153.9h0M576.0,145.2h0M576.2,162.5h0M576.4,136.6h0M576.6,133.8h0M576.9,159.6h0M577.1,128.0h0M577.3,142.4h0M577.5,151.0h0M577.7,130.9h0M577.9,139.5h0M578.2,148.1h0M578.4,156.8h0M578.6,109.2h0M578.8,123.5h0M579.0,96.5h0M579.2,127.9h0M579.4,127.0h0M579.7,104.1h0M579.9,99.0h0M580.1,118.0h0M580.3,128.2h0M580.5,127.5h0M580.7,98.6h0M581.0,98.3h0M581.2,102.3h0M581.4,102.9h0M581.6,101.4h0M581.8,98.8h0M582.0,100.7h0M582.2,104.6h0M582.5,99.2h0M582.7,101.2h0M582.9,106.8h0M583.1,119.9h0M583.3,120.6h0M583.5,105.8h0M583.8,99.5h0M584.0,102.3h0M584.2,113.7h0M584.4,105.6h0M584.6,110.3h0M584.8,115.6h0M585.0,113.1h0M585.3,120.0h0M585.5,98.5h0M585.7,102.7h0M585.9,125.4h0M586.1,108.7h0M586.3,111.7h0M586.6,101.6h0M586.8,97.9h0M587.0,107.1h0M587.2,99.7h0M587.4,100.2h0M587.6,104.8h0M587.8,124.3h0M588.1,104.2h0M588.3,97.1h0M588.5,104.6h0M588.7,105.5h0M588.9,98.9h0M589.1,99.8h0M589.4,118.4h0M589.6,106.4h0M589.8,102.2h0M590.0,127.8h0M590.2,123.3h0M590.4,101.6h0M590.7,106.7h0M590.9,111.4h0M591.1,99.4h0M591.3,96.8h0M591.5,102.5h0M591.7,121.6h0M591.9,98.2h0M592.2,130.4h0M592.4,131.4h0M592.6,104.6h0M592.8,98.1h0M593.0,129.0h0M593.2,125.5h0M593.5,98.2h0M593.7,112.9h0M593.9,107.8h0M594.1,117.0h0M594.3,106.2h0M594.5,97.6h0M594.7,102.4h0M595.0,127.8h0M595.2,104.1h0M595.4,119.4h0M595.6,110.0h0M595.8,114.0h0M596.0,113.8h0M596.3,118.4h0M596.5,99.0h0M596.7,98.9h0M596.9,135.7h0M597.1,104.0h0M597.3,107.6h0M597.5,103.6h0M597.8,119.6h0M598.0,137.5h0M598.2,109.3h0M598.4,106.3h0M598.6,107.2h0M598.8,98.3h0M599.1,99.4h0M599.3,98.5h0M599.5,106.2h0M599.7,137.6h0M599.9,100.4h0M600.1,115.5h0M600.3,102.2h0M600.6,97.9h0M600.8,130.7h0M601.0,99.8h0M601.2,100.1h0M601.4,134.9h0M601.6,104.6h0M601.9,103.0h0M602.1,151.3h0M602.3,151.7h0M602.5,125.0h0M602.7,143.7h0M602.9,156.7h0M603.1,141.0h0M603.4,149.0h0M603.6,133.0h0M603.8,154.3h0M604.0,130.3h0M604.2,135.7h0M604.4,127.7h0M604.7,157.0h0M604.9,138.3h0M605.1,117.9h0M605.3,117.1h0M605.5,113.0h0M605.7,109.0h0M606.0,93.6h0M606.2,86.9h0M606.4,82.5h0M606.6,90.0h0M606.8,107.4h0M607.0,89.8h0M607.2,95.0h0M607.5,106.0h0M607.7,103.7h0M607.9,99.0h0M608.1,93.7h0M608.3,83.4h0M608.5,98.9h0M608.8,88.1h0M609.0,97.3h0M609.2,82.9h0M609.4,79.3h0M609.6,81.6h0M609.8,100.1h0M610.0,108.2h0M610.3,108.2h0M610.5,102.8h0M610.7,94.8h0M610.9,93.5h0M611.1,83.5h0M611.3,85.3h0M611.6,83.1h0M611.8,88.5h0M612.0,95.0h0M612.2,97.8h0M612.4,97.0h0M612.6,85.9h0M612.8,85.6h0M613.1,99.1h0M613.3,107.1h0M613.5,83.0h0M613.7,87.8h0M613.9,84.2h0M614.1,107.1h0M614.4,79.7h0M614.6,103.9h0M614.8,99.3h0M615.0,85.7h0M615.2,96.3h0M615.4,86.8h0M615.6,94.8h0M615.9,88.3h0M616.1,104.9h0M616.3,89.5h0M616.5,101.1h0M616.7,80.6h0M616.9,87.7h0M617.2,107.0h0M617.4,84.0h0M617.6,104.9h0M617.8,107.7h0M618.0,103.0h0M618.2,95.3h0M618.4,95.8h0M618.7,133.5h0M618.9,90.8h0M619.1,102.8h0M619.3,83.2h0M619.5,104.3h0M619.7,91.9h0M620.0,98.1h0M620.2,85.0h0M620.4,84.9h0M620.6,85.6h0M620.8,101.9h0M621.0,91.2h0M621.2,109.8h0M621.5,86.0h0M621.7,88.0h0M621.9,110.1h0M622.1,95.4h0M622.3,90.0h0M622.5,110.6h0M622.8,91.0h0M623.0,121.9h0M623.2,92.8h0M623.4,118.3h0M623.6,127.0h0M623.8,124.6h0M624.1,95.0h0M624.3,126.3h0M624.5,96.0h0M624.7,102.6h0M624.9,112.5h0M625.1,109.0h0M625.3,116.1h0M625.6,117.8h0M625.8,96.4h0M626.0,89.0h0M626.2,120.1h0M626.4,113.2h0M626.6,111.4h0M626.9,108.0h0M627.1,134.0h0M627.3,99.0h0M627.5,133.4h0M627.7,94.4h0M627.9,90.5h0M628.1,136.1h0M628.4,94.5h0M628.6,125.5h0M628.8,99.3h0M629.0,92.3h0M629.2,106.9h0M629.4,122.0h0M629.7,100.5h0M629.9,133.3h0M630.1,137.5h0M630.3,125.0h0M630.5,161.4h0M630.7,179.2h0M630.9,150.0h0M631.2,129.2h0M631.4,98.8h0M631.6,100.9h0M631.8,121.5h0M632.0,106.1h0M632.2,124.3h0M632.5,109.3h0M632.7,104.8h0M632.9,141.3h0M633.1,100.6h0M633.3,134.8h0M633.5,110.3h0M633.7,104.2h0M634.0,100.8h0M634.2,133.0h0M634.4,95.7h0M634.6,95.9h0M634.8,128.7h0M635.0,102.2h0M635.3,96.4h0M635.5,97.6h0M635.7,140.2h0M635.9,105.8h0M636.1,121.2h0M636.3,102.6h0M636.5,107.4h0M636.8,140.2h0M637.0,136.8h0M637.2,107.3h0M637.4,101.6h0M637.6,100.5h0M637.8,122.5h0M638.1,134.6h0M638.3,98.8h0M638.5,108.3h0M638.7,102.5h0M638.9,138.6h0M639.1,101.8h0M639.3,100.5h0M639.6,128.9h0M639.8,142.2h0M640.0,129.7h0M640.2,102.2h0M640.4,112.6h0M640.6,118.1h0M640.9,139.3h0M641.1,131.6h0M641.3,147.6h0M641.5,116.8h0M641.7,135.4h0M641.9,122.5h0M642.2,130.2h0M642.4,150.5h0M642.6,152.3h0M642.8,102.8h0M643.0,127.3h0M643.2,113.7h0M643.4,107.9h0M643.7,108.5h0M643.9,134.2h0M644.1,144.0h0M644.3,151.1h0M644.5,156.3h0M644.7,115.7h0M645.0,118.5h0M645.2,112.1h0M645.4,131.4h0M645.6,165.1h0M645.8,147.7h0M646.0,154.0h0M646.2,178.0h0M646.5,150.0h0M646.7,192.0h0M646.9,162.0h0M647.1,200.3h0M647.3,184.0h0M647.5,158.0h0M647.8,166.0h0M648.0,135.2h0M648.2,130.5h0M648.4,131.3h0M648.6,130.7h0M648.8,135.6h0M649.0,156.8h0M649.3,151.1h0M649.5,143.3h0M649.7,140.9h0M649.9,136.3h0M650.1,166.1h0M650.3,143.8h0M650.6,131.7h0M650.8,149.2h0M651.0,130.8h0M651.2,166.2h0M651.4,166.0h0M651.6,132.2h0M651.8,137.6h0M652.1,165.0h0M652.3,164.8h0M652.5,134.2h0M652.7,153.2h0M652.9,148.6h0M653.1,140.6h0M653.4,155.9h0M653.6,149.5h0M653.8,135.2h0M654.0,143.9h0M654.2,152.7h0M654.4,149.1h0M654.6,146.2h0M654.9,154.3h0M655.1,134.3h0M655.3,133.0h0M655.5,133.2h0M655.7,150.1h0M655.9,143.6h0M656.2,166.2h0M656.4,164.9h0M656.6,135.2h0M656.8,179.2h0M657.0,230.0h0M657.2,236.2h0M657.5,254.2h0" fill="none" stroke="#ff8c00" stroke-width="11.7" stroke-linecap="round"/>

</g>
<path d="M92.1,0V441.4H684.2V0" fill="none" stroke="#000" stroke-width="1.7" stroke-linejoin="miter"/><rect x="91.25" y="0" width="593.8000000000001" height="1.4" fill="#000"/>
<path d="M118.75,441.4v6.4M226.49,441.4v6.4M334.23,441.4v6.4M441.97,441.4v6.4M549.71,441.4v6.4M657.45,441.4v6.4M92.1,12.60h-6.4M92.1,104.80h-6.4M92.1,197.00h-6.4M92.1,289.20h-6.4M92.1,381.40h-6.4" stroke="#000" stroke-width="1.7" fill="none"/>
<g font-family="Liberation Sans, Arial, sans-serif" font-size="25.3" fill="#000">
<text x="118.75" y="471.3" text-anchor="middle">0</text>
<text x="226.49" y="471.3" text-anchor="middle">500</text>
<text x="334.23" y="471.3" text-anchor="middle">1000</text>
<text x="441.97" y="471.3" text-anchor="middle">1500</text>
<text x="549.71" y="471.3" text-anchor="middle">2000</text>
<text x="657.45" y="471.3" text-anchor="middle">2500</text>
<text x="80.8" y="21.60" text-anchor="end">0</text>
<text x="80.8" y="113.80" text-anchor="end">−10</text>
<text x="80.8" y="206.00" text-anchor="end">−20</text>
<text x="80.8" y="298.20" text-anchor="end">−30</text>
<text x="80.8" y="390.40" text-anchor="end">−40</text>
</g>
<g font-family="Liberation Sans, Arial, sans-serif" font-size="33.1" fill="#000">
<text x="388.3" y="505.1" text-anchor="middle">Training step</text>
<text transform="translate(23.0,241.4) rotate(-90)"><tspan x="0" y="0" font-size="32.2" stroke="#000" stroke-width="0.6">−</tspan><tspan x="18.4" y="2" font-size="36.9">S</tspan></text>
</g>
<rect x="222.4" y="139.4" width="212.6" height="147.79999999999998" rx="3.6" fill="#fff" fill-opacity="0.8" stroke="#ccc" stroke-opacity="0.8" stroke-width="1.5"/>
<g font-family="Liberation Sans, Arial, sans-serif" font-size="24.85" fill="#000">
<path d="M231.1,157.9H283.2" stroke="#808080" stroke-width="3.2"/><circle cx="257.1" cy="157.9" r="5.85" fill="#808080"/>
<text x="302.1" y="166.7">VAN</text>
<path d="M231.1,193.1H283.2" stroke="#3cb371" stroke-width="3.2"/><circle cx="257.1" cy="193.1" r="5.85" fill="#3cb371"/>
<text x="302.1" y="201.9">VCA</text>
<path d="M231.1,228.4H283.2" stroke="#ffc0cb" stroke-width="3.2"/><circle cx="257.1" cy="228.4" r="5.85" fill="#ffc0cb"/>
<text x="302.1" y="237.2">GCon-VAN</text>
<path d="M231.1,263.4H283.2" stroke="#ff8c00" stroke-width="3.2"/><circle cx="257.1" cy="263.4" r="5.85" fill="#ff8c00"/>
<text x="302.1" y="272.2">MPVAN</text>
</g>
</svg>
</body></html>
